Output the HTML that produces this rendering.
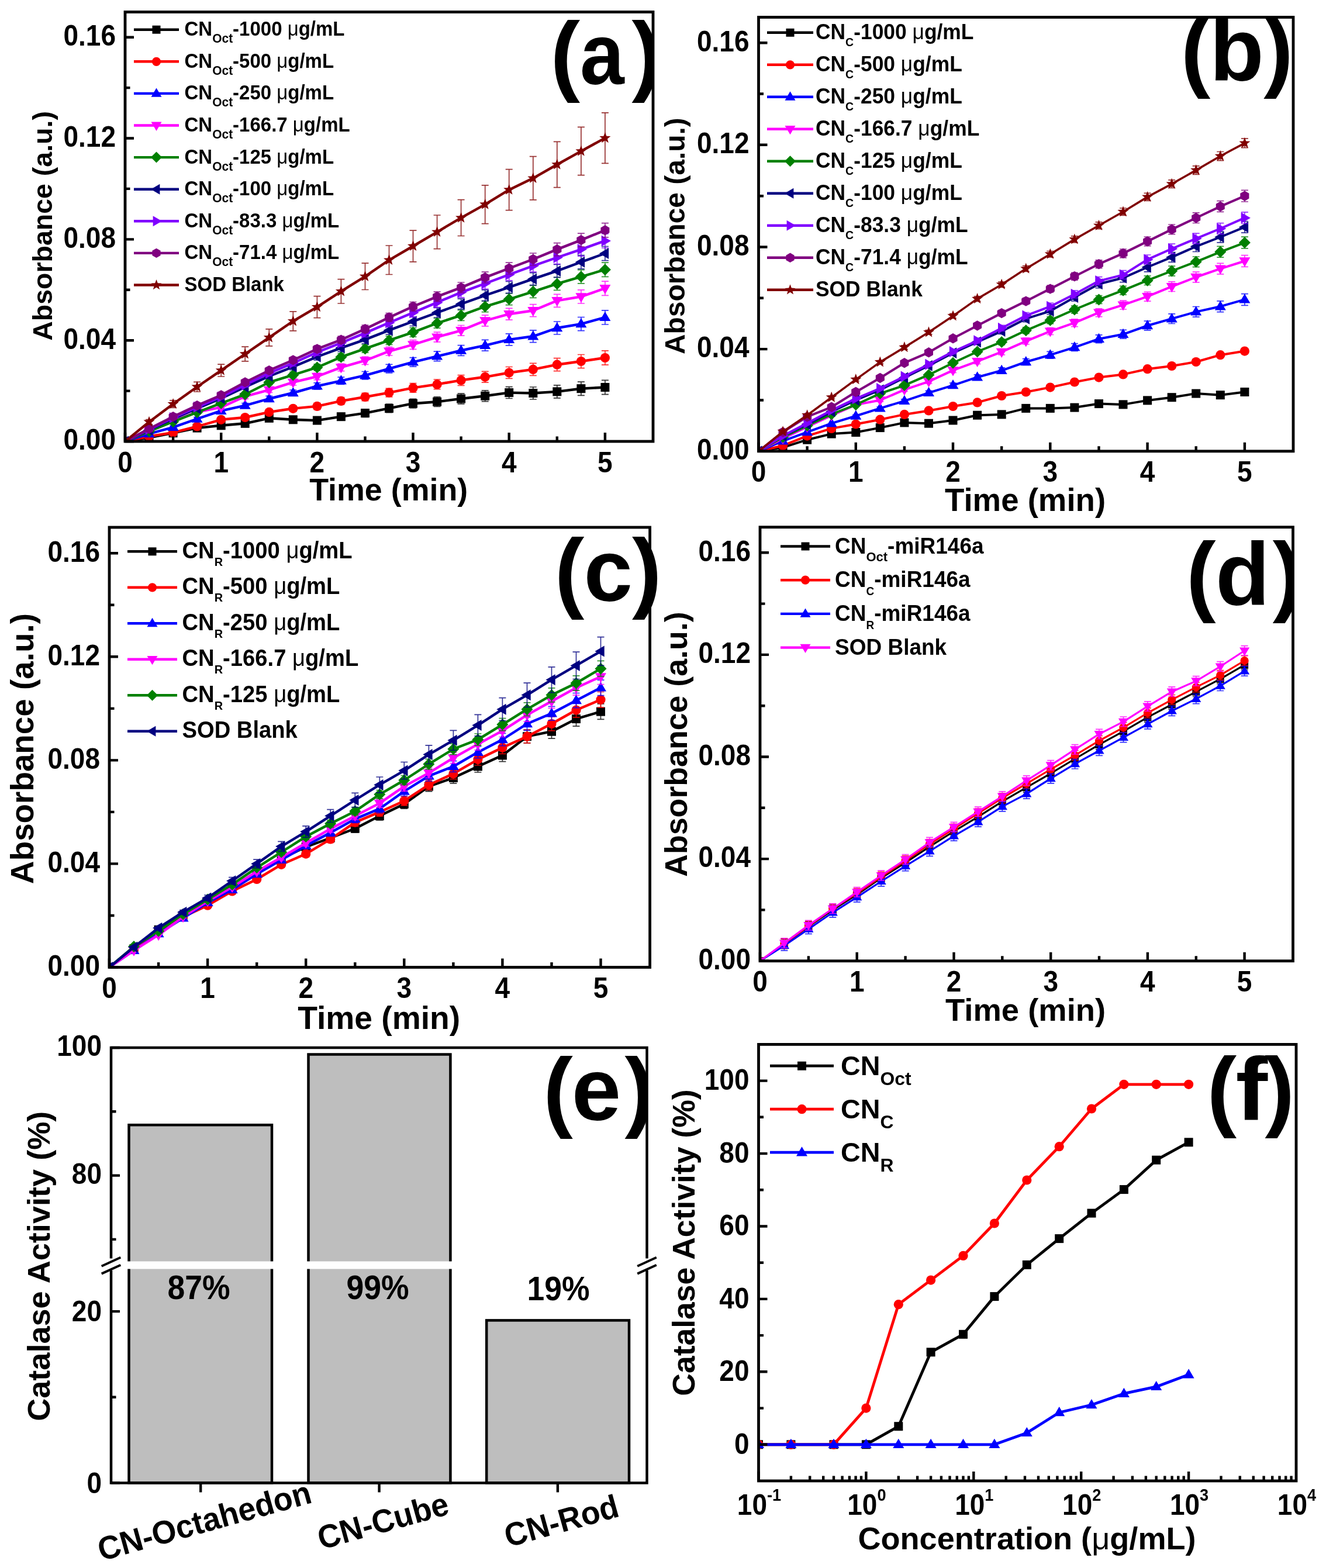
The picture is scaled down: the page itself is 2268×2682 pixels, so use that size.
<!DOCTYPE html>
<html><head><meta charset="utf-8"><title>Figure</title>
<style>html,body{margin:0;padding:0;background:#fff;overflow:hidden;}svg{display:block;}
text{font-family:'Liberation Sans',Arial,sans-serif;font-weight:bold;}</style></head>
<body>
<svg width="2268" height="2682" viewBox="0 0 2268 2682">
<defs><clipPath id="clipa"><rect x="214" y="20.5" width="903" height="734.5"/></clipPath>
<clipPath id="clipb"><rect x="1297.5" y="29.5" width="914.5" height="742.3"/></clipPath>
<clipPath id="clipc"><rect x="187" y="902" width="924.6" height="752.5"/></clipPath>
<clipPath id="clipd"><rect x="1300" y="901.7" width="911.5" height="742"/></clipPath>
<clipPath id="clipe"><rect x="190" y="1792" width="916.5" height="744.5"/></clipPath>
<clipPath id="clipf"><rect x="1297.5" y="1786.4" width="919.5" height="746.6"/></clipPath></defs>
<rect width="100%" height="100%" fill="#fff"/>
<g clip-path="url(#clipa)">
<path d="M255 746.7V750.4M249 746.7h12M249 750.4h12" stroke="#000000" stroke-width="1.7" stroke-opacity="0.8" fill="none"/>
<path d="M296.1 738.4V743.1M290.1 738.4h12M290.1 743.1h12" stroke="#000000" stroke-width="1.7" stroke-opacity="0.8" fill="none"/>
<path d="M337.1 729.2V735M331.1 729.2h12M331.1 735h12" stroke="#000000" stroke-width="1.7" stroke-opacity="0.8" fill="none"/>
<path d="M378.2 724.3V731.2M372.2 724.3h12M372.2 731.2h12" stroke="#000000" stroke-width="1.7" stroke-opacity="0.8" fill="none"/>
<path d="M419.2 720.3V728.3M413.2 720.3h12M413.2 728.3h12" stroke="#000000" stroke-width="1.7" stroke-opacity="0.8" fill="none"/>
<path d="M460.3 710.7V719.8M454.3 710.7h12M454.3 719.8h12" stroke="#000000" stroke-width="1.7" stroke-opacity="0.8" fill="none"/>
<path d="M501.3 712.8V722.9M495.3 712.8h12M495.3 722.9h12" stroke="#000000" stroke-width="1.7" stroke-opacity="0.8" fill="none"/>
<path d="M542.4 713.5V724.8M536.4 713.5h12M536.4 724.8h12" stroke="#000000" stroke-width="1.7" stroke-opacity="0.8" fill="none"/>
<path d="M583.4 706.5V718.8M577.4 706.5h12M577.4 718.8h12" stroke="#000000" stroke-width="1.7" stroke-opacity="0.8" fill="none"/>
<path d="M624.5 699.9V713.3M618.5 699.9h12M618.5 713.3h12" stroke="#000000" stroke-width="1.7" stroke-opacity="0.8" fill="none"/>
<path d="M665.5 691.2V705.6M659.5 691.2h12M659.5 705.6h12" stroke="#000000" stroke-width="1.7" stroke-opacity="0.8" fill="none"/>
<path d="M706.5 682.4V698M700.5 682.4h12M700.5 698h12" stroke="#000000" stroke-width="1.7" stroke-opacity="0.8" fill="none"/>
<path d="M747.6 678.8V695.5M741.6 678.8h12M741.6 695.5h12" stroke="#000000" stroke-width="1.7" stroke-opacity="0.8" fill="none"/>
<path d="M788.6 673.1V690.8M782.6 673.1h12M782.6 690.8h12" stroke="#000000" stroke-width="1.7" stroke-opacity="0.8" fill="none"/>
<path d="M829.7 667.8V686.6M823.7 667.8h12M823.7 686.6h12" stroke="#000000" stroke-width="1.7" stroke-opacity="0.8" fill="none"/>
<path d="M870.7 661.7V681.5M864.7 661.7h12M864.7 681.5h12" stroke="#000000" stroke-width="1.7" stroke-opacity="0.8" fill="none"/>
<path d="M911.8 662V683M905.8 662h12M905.8 683h12" stroke="#000000" stroke-width="1.7" stroke-opacity="0.8" fill="none"/>
<path d="M952.8 658.9V680.9M946.8 658.9h12M946.8 680.9h12" stroke="#000000" stroke-width="1.7" stroke-opacity="0.8" fill="none"/>
<path d="M993.9 653.1V676.3M987.9 653.1h12M987.9 676.3h12" stroke="#000000" stroke-width="1.7" stroke-opacity="0.8" fill="none"/>
<path d="M1034.9 650.4V674.6M1028.9 650.4h12M1028.9 674.6h12" stroke="#000000" stroke-width="1.7" stroke-opacity="0.8" fill="none"/>
<polyline points="214,755 255,748.5 296.1,740.7 337.1,732.1 378.2,727.8 419.2,724.3 460.3,715.3 501.3,717.8 542.4,719.1 583.4,712.7 624.5,706.6 665.5,698.4 706.5,690.2 747.6,687.2 788.6,682 829.7,677.2 870.7,671.6 911.8,672.5 952.8,669.9 993.9,664.7 1034.9,662.5" fill="none" stroke="#000000" stroke-width="4.4" stroke-linejoin="round"/>
<rect x="206.5" y="747.5" width="15" height="15" fill="#000000"/>
<rect x="247.5" y="741" width="15" height="15" fill="#000000"/>
<rect x="288.6" y="733.2" width="15" height="15" fill="#000000"/>
<rect x="329.6" y="724.6" width="15" height="15" fill="#000000"/>
<rect x="370.7" y="720.3" width="15" height="15" fill="#000000"/>
<rect x="411.7" y="716.8" width="15" height="15" fill="#000000"/>
<rect x="452.8" y="707.8" width="15" height="15" fill="#000000"/>
<rect x="493.8" y="710.3" width="15" height="15" fill="#000000"/>
<rect x="534.9" y="711.6" width="15" height="15" fill="#000000"/>
<rect x="575.9" y="705.2" width="15" height="15" fill="#000000"/>
<rect x="617" y="699.1" width="15" height="15" fill="#000000"/>
<rect x="658" y="690.9" width="15" height="15" fill="#000000"/>
<rect x="699" y="682.7" width="15" height="15" fill="#000000"/>
<rect x="740.1" y="679.7" width="15" height="15" fill="#000000"/>
<rect x="781.1" y="674.5" width="15" height="15" fill="#000000"/>
<rect x="822.2" y="669.7" width="15" height="15" fill="#000000"/>
<rect x="863.2" y="664.1" width="15" height="15" fill="#000000"/>
<rect x="904.3" y="665" width="15" height="15" fill="#000000"/>
<rect x="945.3" y="662.4" width="15" height="15" fill="#000000"/>
<rect x="986.4" y="657.2" width="15" height="15" fill="#000000"/>
<rect x="1027.4" y="655" width="15" height="15" fill="#000000"/>
<path d="M255 744.5V748.2M249 744.5h12M249 748.2h12" stroke="#FF0000" stroke-width="1.7" stroke-opacity="0.8" fill="none"/>
<path d="M296.1 737.5V742.3M290.1 737.5h12M290.1 742.3h12" stroke="#FF0000" stroke-width="1.7" stroke-opacity="0.8" fill="none"/>
<path d="M337.1 726.6V732.4M331.1 726.6h12M331.1 732.4h12" stroke="#FF0000" stroke-width="1.7" stroke-opacity="0.8" fill="none"/>
<path d="M378.2 714.4V721.3M372.2 714.4h12M372.2 721.3h12" stroke="#FF0000" stroke-width="1.7" stroke-opacity="0.8" fill="none"/>
<path d="M419.2 710V718M413.2 710h12M413.2 718h12" stroke="#FF0000" stroke-width="1.7" stroke-opacity="0.8" fill="none"/>
<path d="M460.3 700.3V709.4M454.3 700.3h12M454.3 709.4h12" stroke="#FF0000" stroke-width="1.7" stroke-opacity="0.8" fill="none"/>
<path d="M501.3 693.8V703.9M495.3 693.8h12M495.3 703.9h12" stroke="#FF0000" stroke-width="1.7" stroke-opacity="0.8" fill="none"/>
<path d="M542.4 689.3V700.6M536.4 689.3h12M536.4 700.6h12" stroke="#FF0000" stroke-width="1.7" stroke-opacity="0.8" fill="none"/>
<path d="M583.4 679.7V692M577.4 679.7h12M577.4 692h12" stroke="#FF0000" stroke-width="1.7" stroke-opacity="0.8" fill="none"/>
<path d="M624.5 672.3V685.7M618.5 672.3h12M618.5 685.7h12" stroke="#FF0000" stroke-width="1.7" stroke-opacity="0.8" fill="none"/>
<path d="M665.5 664.4V678.8M659.5 664.4h12M659.5 678.8h12" stroke="#FF0000" stroke-width="1.7" stroke-opacity="0.8" fill="none"/>
<path d="M706.5 655.6V671.2M700.5 655.6h12M700.5 671.2h12" stroke="#FF0000" stroke-width="1.7" stroke-opacity="0.8" fill="none"/>
<path d="M747.6 649V665.7M741.6 649h12M741.6 665.7h12" stroke="#FF0000" stroke-width="1.7" stroke-opacity="0.8" fill="none"/>
<path d="M788.6 641.6V659.3M782.6 641.6h12M782.6 659.3h12" stroke="#FF0000" stroke-width="1.7" stroke-opacity="0.8" fill="none"/>
<path d="M829.7 635.4V654.2M823.7 635.4h12M823.7 654.2h12" stroke="#FF0000" stroke-width="1.7" stroke-opacity="0.8" fill="none"/>
<path d="M870.7 627.5V647.4M864.7 627.5h12M864.7 647.4h12" stroke="#FF0000" stroke-width="1.7" stroke-opacity="0.8" fill="none"/>
<path d="M911.8 621.4V642.3M905.8 621.4h12M905.8 642.3h12" stroke="#FF0000" stroke-width="1.7" stroke-opacity="0.8" fill="none"/>
<path d="M952.8 612.6V634.7M946.8 612.6h12M946.8 634.7h12" stroke="#FF0000" stroke-width="1.7" stroke-opacity="0.8" fill="none"/>
<path d="M993.9 606.5V629.6M987.9 606.5h12M987.9 629.6h12" stroke="#FF0000" stroke-width="1.7" stroke-opacity="0.8" fill="none"/>
<path d="M1034.9 599.9V624.1M1028.9 599.9h12M1028.9 624.1h12" stroke="#FF0000" stroke-width="1.7" stroke-opacity="0.8" fill="none"/>
<polyline points="214,755 255,746.4 296.1,739.9 337.1,729.5 378.2,717.8 419.2,714 460.3,704.9 501.3,698.8 542.4,694.9 583.4,685.9 624.5,679 665.5,671.6 706.5,663.4 747.6,657.4 788.6,650.4 829.7,644.8 870.7,637.5 911.8,631.9 952.8,623.7 993.9,618 1034.9,612" fill="none" stroke="#FF0000" stroke-width="4.4" stroke-linejoin="round"/>
<circle cx="214" cy="755" r="8.1" fill="#FF0000"/>
<circle cx="255" cy="746.4" r="8.1" fill="#FF0000"/>
<circle cx="296.1" cy="739.9" r="8.1" fill="#FF0000"/>
<circle cx="337.1" cy="729.5" r="8.1" fill="#FF0000"/>
<circle cx="378.2" cy="717.8" r="8.1" fill="#FF0000"/>
<circle cx="419.2" cy="714" r="8.1" fill="#FF0000"/>
<circle cx="460.3" cy="704.9" r="8.1" fill="#FF0000"/>
<circle cx="501.3" cy="698.8" r="8.1" fill="#FF0000"/>
<circle cx="542.4" cy="694.9" r="8.1" fill="#FF0000"/>
<circle cx="583.4" cy="685.9" r="8.1" fill="#FF0000"/>
<circle cx="624.5" cy="679" r="8.1" fill="#FF0000"/>
<circle cx="665.5" cy="671.6" r="8.1" fill="#FF0000"/>
<circle cx="706.5" cy="663.4" r="8.1" fill="#FF0000"/>
<circle cx="747.6" cy="657.4" r="8.1" fill="#FF0000"/>
<circle cx="788.6" cy="650.4" r="8.1" fill="#FF0000"/>
<circle cx="829.7" cy="644.8" r="8.1" fill="#FF0000"/>
<circle cx="870.7" cy="637.5" r="8.1" fill="#FF0000"/>
<circle cx="911.8" cy="631.9" r="8.1" fill="#FF0000"/>
<circle cx="952.8" cy="623.7" r="8.1" fill="#FF0000"/>
<circle cx="993.9" cy="618" r="8.1" fill="#FF0000"/>
<circle cx="1034.9" cy="612" r="8.1" fill="#FF0000"/>
<path d="M255 740.2V743.9M249 740.2h12M249 743.9h12" stroke="#0000FF" stroke-width="1.7" stroke-opacity="0.8" fill="none"/>
<path d="M296.1 728.4V733.2M290.1 728.4h12M290.1 733.2h12" stroke="#0000FF" stroke-width="1.7" stroke-opacity="0.8" fill="none"/>
<path d="M337.1 713.6V719.5M331.1 713.6h12M331.1 719.5h12" stroke="#0000FF" stroke-width="1.7" stroke-opacity="0.8" fill="none"/>
<path d="M378.2 699.3V706.2M372.2 699.3h12M372.2 706.2h12" stroke="#0000FF" stroke-width="1.7" stroke-opacity="0.8" fill="none"/>
<path d="M419.2 689.7V697.6M413.2 689.7h12M413.2 697.6h12" stroke="#0000FF" stroke-width="1.7" stroke-opacity="0.8" fill="none"/>
<path d="M460.3 677.4V686.5M454.3 677.4h12M454.3 686.5h12" stroke="#0000FF" stroke-width="1.7" stroke-opacity="0.8" fill="none"/>
<path d="M501.3 667V677.1M495.3 667h12M495.3 677.1h12" stroke="#0000FF" stroke-width="1.7" stroke-opacity="0.8" fill="none"/>
<path d="M542.4 654.8V666M536.4 654.8h12M536.4 666h12" stroke="#0000FF" stroke-width="1.7" stroke-opacity="0.8" fill="none"/>
<path d="M583.4 645.1V657.5M577.4 645.1h12M577.4 657.5h12" stroke="#0000FF" stroke-width="1.7" stroke-opacity="0.8" fill="none"/>
<path d="M624.5 635.5V648.9M618.5 635.5h12M618.5 648.9h12" stroke="#0000FF" stroke-width="1.7" stroke-opacity="0.8" fill="none"/>
<path d="M665.5 623.3V637.8M659.5 623.3h12M659.5 637.8h12" stroke="#0000FF" stroke-width="1.7" stroke-opacity="0.8" fill="none"/>
<path d="M706.5 611.6V627.1M700.5 611.6h12M700.5 627.1h12" stroke="#0000FF" stroke-width="1.7" stroke-opacity="0.8" fill="none"/>
<path d="M747.6 601.1V617.7M741.6 601.1h12M741.6 617.7h12" stroke="#0000FF" stroke-width="1.7" stroke-opacity="0.8" fill="none"/>
<path d="M788.6 590.6V608.3M782.6 590.6h12M782.6 608.3h12" stroke="#0000FF" stroke-width="1.7" stroke-opacity="0.8" fill="none"/>
<path d="M829.7 581.4V600.2M823.7 581.4h12M823.7 600.2h12" stroke="#0000FF" stroke-width="1.7" stroke-opacity="0.8" fill="none"/>
<path d="M870.7 570.9V590.8M864.7 570.9h12M864.7 590.8h12" stroke="#0000FF" stroke-width="1.7" stroke-opacity="0.8" fill="none"/>
<path d="M911.8 564.8V585.7M905.8 564.8h12M905.8 585.7h12" stroke="#0000FF" stroke-width="1.7" stroke-opacity="0.8" fill="none"/>
<path d="M952.8 550V572M946.8 550h12M946.8 572h12" stroke="#0000FF" stroke-width="1.7" stroke-opacity="0.8" fill="none"/>
<path d="M993.9 542.5V565.7M987.9 542.5h12M987.9 565.7h12" stroke="#0000FF" stroke-width="1.7" stroke-opacity="0.8" fill="none"/>
<path d="M1034.9 530.8V555M1028.9 530.8h12M1028.9 555h12" stroke="#0000FF" stroke-width="1.7" stroke-opacity="0.8" fill="none"/>
<polyline points="214,755 255,742 296.1,730.8 337.1,716.5 378.2,702.7 419.2,693.6 460.3,682 501.3,672 542.4,660.4 583.4,651.3 624.5,642.2 665.5,630.6 706.5,619.3 747.6,609.4 788.6,599.5 829.7,590.8 870.7,580.9 911.8,575.3 952.8,561 993.9,554.1 1034.9,542.9" fill="none" stroke="#0000FF" stroke-width="4.4" stroke-linejoin="round"/>
<polygon points="214,745 223.5,761.2 204.5,761.2" fill="#0000FF"/>
<polygon points="255,732 264.5,748.2 245.5,748.2" fill="#0000FF"/>
<polygon points="296.1,720.8 305.6,737 286.6,737" fill="#0000FF"/>
<polygon points="337.1,706.5 346.6,722.7 327.6,722.7" fill="#0000FF"/>
<polygon points="378.2,692.7 387.7,708.9 368.7,708.9" fill="#0000FF"/>
<polygon points="419.2,683.6 428.7,699.8 409.7,699.8" fill="#0000FF"/>
<polygon points="460.3,672 469.8,688.2 450.8,688.2" fill="#0000FF"/>
<polygon points="501.3,662 510.8,678.2 491.8,678.2" fill="#0000FF"/>
<polygon points="542.4,650.4 551.9,666.6 532.9,666.6" fill="#0000FF"/>
<polygon points="583.4,641.3 592.9,657.5 573.9,657.5" fill="#0000FF"/>
<polygon points="624.5,632.2 634,648.4 615,648.4" fill="#0000FF"/>
<polygon points="665.5,620.6 675,636.8 656,636.8" fill="#0000FF"/>
<polygon points="706.5,609.3 716,625.5 697,625.5" fill="#0000FF"/>
<polygon points="747.6,599.4 757.1,615.6 738.1,615.6" fill="#0000FF"/>
<polygon points="788.6,589.5 798.1,605.7 779.1,605.7" fill="#0000FF"/>
<polygon points="829.7,580.8 839.2,597 820.2,597" fill="#0000FF"/>
<polygon points="870.7,570.9 880.2,587.1 861.2,587.1" fill="#0000FF"/>
<polygon points="911.8,565.3 921.3,581.5 902.3,581.5" fill="#0000FF"/>
<polygon points="952.8,551 962.3,567.2 943.3,567.2" fill="#0000FF"/>
<polygon points="993.9,544.1 1003.4,560.3 984.4,560.3" fill="#0000FF"/>
<polygon points="1034.9,532.9 1044.4,549.1 1025.4,549.1" fill="#0000FF"/>
<path d="M255 735.9V739.6M249 735.9h12M249 739.6h12" stroke="#FF00FF" stroke-width="1.7" stroke-opacity="0.8" fill="none"/>
<path d="M296.1 718.1V722.8M290.1 718.1h12M290.1 722.8h12" stroke="#FF00FF" stroke-width="1.7" stroke-opacity="0.8" fill="none"/>
<path d="M337.1 702V707.8M331.1 702h12M331.1 707.8h12" stroke="#FF00FF" stroke-width="1.7" stroke-opacity="0.8" fill="none"/>
<path d="M378.2 693.2V700.1M372.2 693.2h12M372.2 700.1h12" stroke="#FF00FF" stroke-width="1.7" stroke-opacity="0.8" fill="none"/>
<path d="M419.2 674.1V682.1M413.2 674.1h12M413.2 682.1h12" stroke="#FF00FF" stroke-width="1.7" stroke-opacity="0.8" fill="none"/>
<path d="M460.3 662.3V671.4M454.3 662.3h12M454.3 671.4h12" stroke="#FF00FF" stroke-width="1.7" stroke-opacity="0.8" fill="none"/>
<path d="M501.3 648.8V659M495.3 648.8h12M495.3 659h12" stroke="#FF00FF" stroke-width="1.7" stroke-opacity="0.8" fill="none"/>
<path d="M542.4 638.3V649.6M536.4 638.3h12M536.4 649.6h12" stroke="#FF00FF" stroke-width="1.7" stroke-opacity="0.8" fill="none"/>
<path d="M583.4 622.2V634.6M577.4 622.2h12M577.4 634.6h12" stroke="#FF00FF" stroke-width="1.7" stroke-opacity="0.8" fill="none"/>
<path d="M624.5 610V623.4M618.5 610h12M618.5 623.4h12" stroke="#FF00FF" stroke-width="1.7" stroke-opacity="0.8" fill="none"/>
<path d="M665.5 593.5V608M659.5 593.5h12M659.5 608h12" stroke="#FF00FF" stroke-width="1.7" stroke-opacity="0.8" fill="none"/>
<path d="M706.5 581.7V597.3M700.5 581.7h12M700.5 597.3h12" stroke="#FF00FF" stroke-width="1.7" stroke-opacity="0.8" fill="none"/>
<path d="M747.6 568.2V584.9M741.6 568.2h12M741.6 584.9h12" stroke="#FF00FF" stroke-width="1.7" stroke-opacity="0.8" fill="none"/>
<path d="M788.6 556.5V574.2M782.6 556.5h12M782.6 574.2h12" stroke="#FF00FF" stroke-width="1.7" stroke-opacity="0.8" fill="none"/>
<path d="M829.7 539.1V557.9M823.7 539.1h12M823.7 557.9h12" stroke="#FF00FF" stroke-width="1.7" stroke-opacity="0.8" fill="none"/>
<path d="M870.7 527.3V547.2M864.7 527.3h12M864.7 547.2h12" stroke="#FF00FF" stroke-width="1.7" stroke-opacity="0.8" fill="none"/>
<path d="M911.8 520.7V541.7M905.8 520.7h12M905.8 541.7h12" stroke="#FF00FF" stroke-width="1.7" stroke-opacity="0.8" fill="none"/>
<path d="M952.8 503.3V525.4M946.8 503.3h12M946.8 525.4h12" stroke="#FF00FF" stroke-width="1.7" stroke-opacity="0.8" fill="none"/>
<path d="M993.9 495.9V519M987.9 495.9h12M987.9 519h12" stroke="#FF00FF" stroke-width="1.7" stroke-opacity="0.8" fill="none"/>
<path d="M1034.9 481.1V505.3M1028.9 481.1h12M1028.9 505.3h12" stroke="#FF00FF" stroke-width="1.7" stroke-opacity="0.8" fill="none"/>
<polyline points="214,755 255,737.7 296.1,720.4 337.1,704.9 378.2,696.7 419.2,678.1 460.3,666.9 501.3,653.9 542.4,644 583.4,628.4 624.5,616.7 665.5,600.8 706.5,589.5 747.6,576.6 788.6,565.3 829.7,548.5 870.7,537.2 911.8,531.2 952.8,514.3 993.9,507.4 1034.9,493.2" fill="none" stroke="#FF00FF" stroke-width="4.4" stroke-linejoin="round"/>
<polygon points="214,765 204.5,748.8 223.5,748.8" fill="#FF00FF"/>
<polygon points="255,747.7 245.5,731.5 264.5,731.5" fill="#FF00FF"/>
<polygon points="296.1,730.4 286.6,714.2 305.6,714.2" fill="#FF00FF"/>
<polygon points="337.1,714.9 327.6,698.7 346.6,698.7" fill="#FF00FF"/>
<polygon points="378.2,706.7 368.7,690.5 387.7,690.5" fill="#FF00FF"/>
<polygon points="419.2,688.1 409.7,671.9 428.7,671.9" fill="#FF00FF"/>
<polygon points="460.3,676.9 450.8,660.7 469.8,660.7" fill="#FF00FF"/>
<polygon points="501.3,663.9 491.8,647.7 510.8,647.7" fill="#FF00FF"/>
<polygon points="542.4,654 532.9,637.8 551.9,637.8" fill="#FF00FF"/>
<polygon points="583.4,638.4 573.9,622.2 592.9,622.2" fill="#FF00FF"/>
<polygon points="624.5,626.7 615,610.5 634,610.5" fill="#FF00FF"/>
<polygon points="665.5,610.8 656,594.6 675,594.6" fill="#FF00FF"/>
<polygon points="706.5,599.5 697,583.3 716,583.3" fill="#FF00FF"/>
<polygon points="747.6,586.6 738.1,570.4 757.1,570.4" fill="#FF00FF"/>
<polygon points="788.6,575.3 779.1,559.1 798.1,559.1" fill="#FF00FF"/>
<polygon points="829.7,558.5 820.2,542.3 839.2,542.3" fill="#FF00FF"/>
<polygon points="870.7,547.2 861.2,531 880.2,531" fill="#FF00FF"/>
<polygon points="911.8,541.2 902.3,525 921.3,525" fill="#FF00FF"/>
<polygon points="952.8,524.3 943.3,508.1 962.3,508.1" fill="#FF00FF"/>
<polygon points="993.9,517.4 984.4,501.2 1003.4,501.2" fill="#FF00FF"/>
<polygon points="1034.9,503.2 1025.4,487 1044.4,487" fill="#FF00FF"/>
<path d="M255 735.9V739.6M249 735.9h12M249 739.6h12" stroke="#008000" stroke-width="1.7" stroke-opacity="0.8" fill="none"/>
<path d="M296.1 718.9V723.7M290.1 718.9h12M290.1 723.7h12" stroke="#008000" stroke-width="1.7" stroke-opacity="0.8" fill="none"/>
<path d="M337.1 702.4V708.2M331.1 702.4h12M331.1 708.2h12" stroke="#008000" stroke-width="1.7" stroke-opacity="0.8" fill="none"/>
<path d="M378.2 686.3V693.2M372.2 686.3h12M372.2 693.2h12" stroke="#008000" stroke-width="1.7" stroke-opacity="0.8" fill="none"/>
<path d="M419.2 670.6V678.6M413.2 670.6h12M413.2 678.6h12" stroke="#008000" stroke-width="1.7" stroke-opacity="0.8" fill="none"/>
<path d="M460.3 649.4V658.4M454.3 649.4h12M454.3 658.4h12" stroke="#008000" stroke-width="1.7" stroke-opacity="0.8" fill="none"/>
<path d="M501.3 636.3V646.4M495.3 636.3h12M495.3 646.4h12" stroke="#008000" stroke-width="1.7" stroke-opacity="0.8" fill="none"/>
<path d="M542.4 622.8V634M536.4 622.8h12M536.4 634h12" stroke="#008000" stroke-width="1.7" stroke-opacity="0.8" fill="none"/>
<path d="M583.4 604.5V616.8M577.4 604.5h12M577.4 616.8h12" stroke="#008000" stroke-width="1.7" stroke-opacity="0.8" fill="none"/>
<path d="M624.5 589.7V603.1M618.5 589.7h12M618.5 603.1h12" stroke="#008000" stroke-width="1.7" stroke-opacity="0.8" fill="none"/>
<path d="M665.5 574.9V589.4M659.5 574.9h12M659.5 589.4h12" stroke="#008000" stroke-width="1.7" stroke-opacity="0.8" fill="none"/>
<path d="M706.5 560.6V576.1M700.5 560.6h12M700.5 576.1h12" stroke="#008000" stroke-width="1.7" stroke-opacity="0.8" fill="none"/>
<path d="M747.6 544.5V561.1M741.6 544.5h12M741.6 561.1h12" stroke="#008000" stroke-width="1.7" stroke-opacity="0.8" fill="none"/>
<path d="M788.6 530.5V548.3M782.6 530.5h12M782.6 548.3h12" stroke="#008000" stroke-width="1.7" stroke-opacity="0.8" fill="none"/>
<path d="M829.7 514.9V533.7M823.7 514.9h12M823.7 533.7h12" stroke="#008000" stroke-width="1.7" stroke-opacity="0.8" fill="none"/>
<path d="M870.7 501.8V521.7M864.7 501.8h12M864.7 521.7h12" stroke="#008000" stroke-width="1.7" stroke-opacity="0.8" fill="none"/>
<path d="M911.8 488.3V509.3M905.8 488.3h12M905.8 509.3h12" stroke="#008000" stroke-width="1.7" stroke-opacity="0.8" fill="none"/>
<path d="M952.8 474.4V496.4M946.8 474.4h12M946.8 496.4h12" stroke="#008000" stroke-width="1.7" stroke-opacity="0.8" fill="none"/>
<path d="M993.9 461.7V484.9M987.9 461.7h12M987.9 484.9h12" stroke="#008000" stroke-width="1.7" stroke-opacity="0.8" fill="none"/>
<path d="M1034.9 449.1V473.3M1028.9 449.1h12M1028.9 473.3h12" stroke="#008000" stroke-width="1.7" stroke-opacity="0.8" fill="none"/>
<polyline points="214,755 255,737.7 296.1,721.3 337.1,705.3 378.2,689.8 419.2,674.6 460.3,653.9 501.3,641.4 542.4,628.4 583.4,610.7 624.5,596.4 665.5,582.2 706.5,568.4 747.6,552.8 788.6,539.4 829.7,524.3 870.7,511.8 911.8,498.8 952.8,485.4 993.9,473.3 1034.9,461.2" fill="none" stroke="#008000" stroke-width="4.4" stroke-linejoin="round"/>
<polygon points="214,745 224,755 214,765 204,755" fill="#008000"/>
<polygon points="255,727.7 265,737.7 255,747.7 245,737.7" fill="#008000"/>
<polygon points="296.1,711.3 306.1,721.3 296.1,731.3 286.1,721.3" fill="#008000"/>
<polygon points="337.1,695.3 347.1,705.3 337.1,715.3 327.1,705.3" fill="#008000"/>
<polygon points="378.2,679.8 388.2,689.8 378.2,699.8 368.2,689.8" fill="#008000"/>
<polygon points="419.2,664.6 429.2,674.6 419.2,684.6 409.2,674.6" fill="#008000"/>
<polygon points="460.3,643.9 470.3,653.9 460.3,663.9 450.3,653.9" fill="#008000"/>
<polygon points="501.3,631.4 511.3,641.4 501.3,651.4 491.3,641.4" fill="#008000"/>
<polygon points="542.4,618.4 552.4,628.4 542.4,638.4 532.4,628.4" fill="#008000"/>
<polygon points="583.4,600.7 593.4,610.7 583.4,620.7 573.4,610.7" fill="#008000"/>
<polygon points="624.5,586.4 634.5,596.4 624.5,606.4 614.5,596.4" fill="#008000"/>
<polygon points="665.5,572.2 675.5,582.2 665.5,592.2 655.5,582.2" fill="#008000"/>
<polygon points="706.5,558.4 716.5,568.4 706.5,578.4 696.5,568.4" fill="#008000"/>
<polygon points="747.6,542.8 757.6,552.8 747.6,562.8 737.6,552.8" fill="#008000"/>
<polygon points="788.6,529.4 798.6,539.4 788.6,549.4 778.6,539.4" fill="#008000"/>
<polygon points="829.7,514.3 839.7,524.3 829.7,534.3 819.7,524.3" fill="#008000"/>
<polygon points="870.7,501.8 880.7,511.8 870.7,521.8 860.7,511.8" fill="#008000"/>
<polygon points="911.8,488.8 921.8,498.8 911.8,508.8 901.8,498.8" fill="#008000"/>
<polygon points="952.8,475.4 962.8,485.4 952.8,495.4 942.8,485.4" fill="#008000"/>
<polygon points="993.9,463.3 1003.9,473.3 993.9,483.3 983.9,473.3" fill="#008000"/>
<polygon points="1034.9,451.2 1044.9,461.2 1034.9,471.2 1024.9,461.2" fill="#008000"/>
<path d="M255 733.7V737.4M249 733.7h12M249 737.4h12" stroke="#000080" stroke-width="1.7" stroke-opacity="0.8" fill="none"/>
<path d="M296.1 713.7V718.5M290.1 713.7h12M290.1 718.5h12" stroke="#000080" stroke-width="1.7" stroke-opacity="0.8" fill="none"/>
<path d="M337.1 695.9V701.7M331.1 695.9h12M331.1 701.7h12" stroke="#000080" stroke-width="1.7" stroke-opacity="0.8" fill="none"/>
<path d="M378.2 678.1V685M372.2 678.1h12M372.2 685h12" stroke="#000080" stroke-width="1.7" stroke-opacity="0.8" fill="none"/>
<path d="M419.2 658.1V666.1M413.2 658.1h12M413.2 666.1h12" stroke="#000080" stroke-width="1.7" stroke-opacity="0.8" fill="none"/>
<path d="M460.3 639V648.1M454.3 639h12M454.3 648.1h12" stroke="#000080" stroke-width="1.7" stroke-opacity="0.8" fill="none"/>
<path d="M501.3 622.5V632.6M495.3 622.5h12M495.3 632.6h12" stroke="#000080" stroke-width="1.7" stroke-opacity="0.8" fill="none"/>
<path d="M542.4 604.6V615.9M536.4 604.6h12M536.4 615.9h12" stroke="#000080" stroke-width="1.7" stroke-opacity="0.8" fill="none"/>
<path d="M583.4 589V601.3M577.4 589h12M577.4 601.3h12" stroke="#000080" stroke-width="1.7" stroke-opacity="0.8" fill="none"/>
<path d="M624.5 574.2V587.6M618.5 574.2h12M618.5 587.6h12" stroke="#000080" stroke-width="1.7" stroke-opacity="0.8" fill="none"/>
<path d="M665.5 557.7V572.1M659.5 557.7h12M659.5 572.1h12" stroke="#000080" stroke-width="1.7" stroke-opacity="0.8" fill="none"/>
<path d="M706.5 542V557.5M700.5 542h12M700.5 557.5h12" stroke="#000080" stroke-width="1.7" stroke-opacity="0.8" fill="none"/>
<path d="M747.6 526.3V543M741.6 526.3h12M741.6 543h12" stroke="#000080" stroke-width="1.7" stroke-opacity="0.8" fill="none"/>
<path d="M788.6 511.1V528.8M782.6 511.1h12M782.6 528.8h12" stroke="#000080" stroke-width="1.7" stroke-opacity="0.8" fill="none"/>
<path d="M829.7 495.9V514.7M823.7 495.9h12M823.7 514.7h12" stroke="#000080" stroke-width="1.7" stroke-opacity="0.8" fill="none"/>
<path d="M870.7 481.5V501.4M864.7 481.5h12M864.7 501.4h12" stroke="#000080" stroke-width="1.7" stroke-opacity="0.8" fill="none"/>
<path d="M911.8 466.7V487.7M905.8 466.7h12M905.8 487.7h12" stroke="#000080" stroke-width="1.7" stroke-opacity="0.8" fill="none"/>
<path d="M952.8 452.3V474.4M946.8 452.3h12M946.8 474.4h12" stroke="#000080" stroke-width="1.7" stroke-opacity="0.8" fill="none"/>
<path d="M993.9 436.7V459.8M987.9 436.7h12M987.9 459.8h12" stroke="#000080" stroke-width="1.7" stroke-opacity="0.8" fill="none"/>
<path d="M1034.9 421.5V445.6M1028.9 421.5h12M1028.9 445.6h12" stroke="#000080" stroke-width="1.7" stroke-opacity="0.8" fill="none"/>
<polyline points="214,755 255,735.6 296.1,716.1 337.1,698.8 378.2,681.5 419.2,662.1 460.3,643.5 501.3,627.5 542.4,610.3 583.4,595.1 624.5,580.9 665.5,564.9 706.5,549.8 747.6,534.7 788.6,520 829.7,505.3 870.7,491.4 911.8,477.2 952.8,463.4 993.9,448.2 1034.9,433.5" fill="none" stroke="#000080" stroke-width="4.4" stroke-linejoin="round"/>
<polygon points="204,755 220.2,745.5 220.2,764.5" fill="#000080"/>
<polygon points="245,735.6 261.2,726.1 261.2,745.1" fill="#000080"/>
<polygon points="286.1,716.1 302.3,706.6 302.3,725.6" fill="#000080"/>
<polygon points="327.1,698.8 343.3,689.3 343.3,708.3" fill="#000080"/>
<polygon points="368.2,681.5 384.4,672 384.4,691" fill="#000080"/>
<polygon points="409.2,662.1 425.4,652.6 425.4,671.6" fill="#000080"/>
<polygon points="450.3,643.5 466.5,634 466.5,653" fill="#000080"/>
<polygon points="491.3,627.5 507.5,618 507.5,637" fill="#000080"/>
<polygon points="532.4,610.3 548.6,600.8 548.6,619.8" fill="#000080"/>
<polygon points="573.4,595.1 589.6,585.6 589.6,604.6" fill="#000080"/>
<polygon points="614.5,580.9 630.7,571.4 630.7,590.4" fill="#000080"/>
<polygon points="655.5,564.9 671.7,555.4 671.7,574.4" fill="#000080"/>
<polygon points="696.5,549.8 712.7,540.3 712.7,559.3" fill="#000080"/>
<polygon points="737.6,534.7 753.8,525.2 753.8,544.2" fill="#000080"/>
<polygon points="778.6,520 794.8,510.5 794.8,529.5" fill="#000080"/>
<polygon points="819.7,505.3 835.9,495.8 835.9,514.8" fill="#000080"/>
<polygon points="860.7,491.4 876.9,481.9 876.9,500.9" fill="#000080"/>
<polygon points="901.8,477.2 918,467.7 918,486.7" fill="#000080"/>
<polygon points="942.8,463.4 959,453.9 959,472.9" fill="#000080"/>
<polygon points="983.9,448.2 1000.1,438.7 1000.1,457.7" fill="#000080"/>
<polygon points="1024.9,433.5 1041.1,424 1041.1,443" fill="#000080"/>
<path d="M255 732.4V736.1M249 732.4h12M249 736.1h12" stroke="#8000FF" stroke-width="1.7" stroke-opacity="0.8" fill="none"/>
<path d="M296.1 712V716.8M290.1 712h12M290.1 716.8h12" stroke="#8000FF" stroke-width="1.7" stroke-opacity="0.8" fill="none"/>
<path d="M337.1 693.3V699.2M331.1 693.3h12M331.1 699.2h12" stroke="#8000FF" stroke-width="1.7" stroke-opacity="0.8" fill="none"/>
<path d="M378.2 675.5V682.4M372.2 675.5h12M372.2 682.4h12" stroke="#8000FF" stroke-width="1.7" stroke-opacity="0.8" fill="none"/>
<path d="M419.2 654.2V662.2M413.2 654.2h12M413.2 662.2h12" stroke="#8000FF" stroke-width="1.7" stroke-opacity="0.8" fill="none"/>
<path d="M460.3 633.8V642.9M454.3 633.8h12M454.3 642.9h12" stroke="#8000FF" stroke-width="1.7" stroke-opacity="0.8" fill="none"/>
<path d="M501.3 616V626.1M495.3 616h12M495.3 626.1h12" stroke="#8000FF" stroke-width="1.7" stroke-opacity="0.8" fill="none"/>
<path d="M542.4 596.9V608.1M536.4 596.9h12M536.4 608.1h12" stroke="#8000FF" stroke-width="1.7" stroke-opacity="0.8" fill="none"/>
<path d="M583.4 580.3V592.7M577.4 580.3h12M577.4 592.7h12" stroke="#8000FF" stroke-width="1.7" stroke-opacity="0.8" fill="none"/>
<path d="M624.5 562.9V576.3M618.5 562.9h12M618.5 576.3h12" stroke="#8000FF" stroke-width="1.7" stroke-opacity="0.8" fill="none"/>
<path d="M665.5 544.7V559.2M659.5 544.7h12M659.5 559.2h12" stroke="#8000FF" stroke-width="1.7" stroke-opacity="0.8" fill="none"/>
<path d="M706.5 526.9V542.4M700.5 526.9h12M700.5 542.4h12" stroke="#8000FF" stroke-width="1.7" stroke-opacity="0.8" fill="none"/>
<path d="M747.6 509.1V525.7M741.6 509.1h12M741.6 525.7h12" stroke="#8000FF" stroke-width="1.7" stroke-opacity="0.8" fill="none"/>
<path d="M788.6 491.2V508.9M782.6 491.2h12M782.6 508.9h12" stroke="#8000FF" stroke-width="1.7" stroke-opacity="0.8" fill="none"/>
<path d="M829.7 475.6V494.4M823.7 475.6h12M823.7 494.4h12" stroke="#8000FF" stroke-width="1.7" stroke-opacity="0.8" fill="none"/>
<path d="M870.7 459.9V479.8M864.7 459.9h12M864.7 479.8h12" stroke="#8000FF" stroke-width="1.7" stroke-opacity="0.8" fill="none"/>
<path d="M911.8 444.2V465.2M905.8 444.2h12M905.8 465.2h12" stroke="#8000FF" stroke-width="1.7" stroke-opacity="0.8" fill="none"/>
<path d="M952.8 429.4V451.5M946.8 429.4h12M946.8 451.5h12" stroke="#8000FF" stroke-width="1.7" stroke-opacity="0.8" fill="none"/>
<path d="M993.9 415.1V438.2M987.9 415.1h12M987.9 438.2h12" stroke="#8000FF" stroke-width="1.7" stroke-opacity="0.8" fill="none"/>
<path d="M1034.9 399.8V424M1028.9 399.8h12M1028.9 424h12" stroke="#8000FF" stroke-width="1.7" stroke-opacity="0.8" fill="none"/>
<polyline points="214,755 255,734.3 296.1,714.4 337.1,696.2 378.2,679 419.2,658.2 460.3,638.3 501.3,621.1 542.4,602.5 583.4,586.5 624.5,569.6 665.5,551.9 706.5,534.7 747.6,517.4 788.6,500.1 829.7,485 870.7,469.8 911.8,454.7 952.8,440.5 993.9,426.6 1034.9,411.9" fill="none" stroke="#8000FF" stroke-width="4.4" stroke-linejoin="round"/>
<polygon points="224,755 207.8,764.5 207.8,745.5" fill="#8000FF"/>
<polygon points="265,734.3 248.8,743.8 248.8,724.8" fill="#8000FF"/>
<polygon points="306.1,714.4 289.9,723.9 289.9,704.9" fill="#8000FF"/>
<polygon points="347.1,696.2 330.9,705.7 330.9,686.7" fill="#8000FF"/>
<polygon points="388.2,679 372,688.5 372,669.5" fill="#8000FF"/>
<polygon points="429.2,658.2 413,667.7 413,648.7" fill="#8000FF"/>
<polygon points="470.3,638.3 454.1,647.8 454.1,628.8" fill="#8000FF"/>
<polygon points="511.3,621.1 495.1,630.6 495.1,611.6" fill="#8000FF"/>
<polygon points="552.4,602.5 536.2,612 536.2,593" fill="#8000FF"/>
<polygon points="593.4,586.5 577.2,596 577.2,577" fill="#8000FF"/>
<polygon points="634.5,569.6 618.3,579.1 618.3,560.1" fill="#8000FF"/>
<polygon points="675.5,551.9 659.3,561.4 659.3,542.4" fill="#8000FF"/>
<polygon points="716.5,534.7 700.3,544.2 700.3,525.2" fill="#8000FF"/>
<polygon points="757.6,517.4 741.4,526.9 741.4,507.9" fill="#8000FF"/>
<polygon points="798.6,500.1 782.4,509.6 782.4,490.6" fill="#8000FF"/>
<polygon points="839.7,485 823.5,494.5 823.5,475.5" fill="#8000FF"/>
<polygon points="880.7,469.8 864.5,479.3 864.5,460.3" fill="#8000FF"/>
<polygon points="921.8,454.7 905.6,464.2 905.6,445.2" fill="#8000FF"/>
<polygon points="962.8,440.5 946.6,450 946.6,431" fill="#8000FF"/>
<polygon points="1003.9,426.6 987.7,436.1 987.7,417.1" fill="#8000FF"/>
<polygon points="1044.9,411.9 1028.7,421.4 1028.7,402.4" fill="#8000FF"/>
<path d="M255 731.6V735.2M249 731.6h12M249 735.2h12" stroke="#800080" stroke-width="1.7" stroke-opacity="0.8" fill="none"/>
<path d="M296.1 710.3V715M290.1 710.3h12M290.1 715h12" stroke="#800080" stroke-width="1.7" stroke-opacity="0.8" fill="none"/>
<path d="M337.1 690.7V696.6M331.1 690.7h12M331.1 696.6h12" stroke="#800080" stroke-width="1.7" stroke-opacity="0.8" fill="none"/>
<path d="M378.2 672.5V679.4M372.2 672.5h12M372.2 679.4h12" stroke="#800080" stroke-width="1.7" stroke-opacity="0.8" fill="none"/>
<path d="M419.2 649.9V657.9M413.2 649.9h12M413.2 657.9h12" stroke="#800080" stroke-width="1.7" stroke-opacity="0.8" fill="none"/>
<path d="M460.3 629.1V638.1M454.3 629.1h12M454.3 638.1h12" stroke="#800080" stroke-width="1.7" stroke-opacity="0.8" fill="none"/>
<path d="M501.3 610.8V621M495.3 610.8h12M495.3 621h12" stroke="#800080" stroke-width="1.7" stroke-opacity="0.8" fill="none"/>
<path d="M542.4 591.2V602.5M536.4 591.2h12M536.4 602.5h12" stroke="#800080" stroke-width="1.7" stroke-opacity="0.8" fill="none"/>
<path d="M583.4 575.2V587.5M577.4 575.2h12M577.4 587.5h12" stroke="#800080" stroke-width="1.7" stroke-opacity="0.8" fill="none"/>
<path d="M624.5 556V569.4M618.5 556h12M618.5 569.4h12" stroke="#800080" stroke-width="1.7" stroke-opacity="0.8" fill="none"/>
<path d="M665.5 535.6V550.1M659.5 535.6h12M659.5 550.1h12" stroke="#800080" stroke-width="1.7" stroke-opacity="0.8" fill="none"/>
<path d="M706.5 516.5V532.1M700.5 516.5h12M700.5 532.1h12" stroke="#800080" stroke-width="1.7" stroke-opacity="0.8" fill="none"/>
<path d="M747.6 499.1V515.7M741.6 499.1h12M741.6 515.7h12" stroke="#800080" stroke-width="1.7" stroke-opacity="0.8" fill="none"/>
<path d="M788.6 483V500.7M782.6 483h12M782.6 500.7h12" stroke="#800080" stroke-width="1.7" stroke-opacity="0.8" fill="none"/>
<path d="M829.7 465.2V484M823.7 465.2h12M823.7 484h12" stroke="#800080" stroke-width="1.7" stroke-opacity="0.8" fill="none"/>
<path d="M870.7 449.1V469M864.7 449.1h12M864.7 469h12" stroke="#800080" stroke-width="1.7" stroke-opacity="0.8" fill="none"/>
<path d="M911.8 433V454M905.8 433h12M905.8 454h12" stroke="#800080" stroke-width="1.7" stroke-opacity="0.8" fill="none"/>
<path d="M952.8 415.6V437.7M946.8 415.6h12M946.8 437.7h12" stroke="#800080" stroke-width="1.7" stroke-opacity="0.8" fill="none"/>
<path d="M993.9 399.1V422.2M987.9 399.1h12M987.9 422.2h12" stroke="#800080" stroke-width="1.7" stroke-opacity="0.8" fill="none"/>
<path d="M1034.9 381.7V405.9M1028.9 381.7h12M1028.9 405.9h12" stroke="#800080" stroke-width="1.7" stroke-opacity="0.8" fill="none"/>
<polyline points="214,755 255,733.4 296.1,712.7 337.1,693.6 378.2,675.9 419.2,653.9 460.3,633.6 501.3,615.9 542.4,596.9 583.4,581.3 624.5,562.7 665.5,542.9 706.5,524.3 747.6,507.4 788.6,491.9 829.7,474.6 870.7,459 911.8,443.5 952.8,426.6 993.9,410.6 1034.9,393.8" fill="none" stroke="#800080" stroke-width="4.4" stroke-linejoin="round"/>
<polygon points="221.5,759.4 214,763.7 206.5,759.4 206.5,750.6 214,746.3 221.5,750.6" fill="#800080"/>
<polygon points="262.6,737.7 255,742.1 247.5,737.7 247.5,729 255,724.7 262.6,729" fill="#800080"/>
<polygon points="303.6,717 296.1,721.4 288.6,717 288.6,708.3 296.1,704 303.6,708.3" fill="#800080"/>
<polygon points="344.7,698 337.1,702.3 329.6,698 329.6,689.3 337.1,684.9 344.7,689.3" fill="#800080"/>
<polygon points="385.7,680.3 378.2,684.6 370.6,680.3 370.6,671.6 378.2,667.2 385.7,671.6" fill="#800080"/>
<polygon points="426.8,658.2 419.2,662.6 411.7,658.2 411.7,649.5 419.2,645.2 426.8,649.5" fill="#800080"/>
<polygon points="467.8,637.9 460.3,642.3 452.7,637.9 452.7,629.2 460.3,624.9 467.8,629.2" fill="#800080"/>
<polygon points="508.9,620.2 501.3,624.6 493.8,620.2 493.8,611.5 501.3,607.2 508.9,611.5" fill="#800080"/>
<polygon points="549.9,601.2 542.4,605.6 534.8,601.2 534.8,592.5 542.4,588.2 549.9,592.5" fill="#800080"/>
<polygon points="590.9,585.7 583.4,590 575.9,585.7 575.9,577 583.4,572.6 590.9,577" fill="#800080"/>
<polygon points="632,567.1 624.5,571.4 616.9,567.1 616.9,558.4 624.5,554 632,558.4" fill="#800080"/>
<polygon points="673,547.2 665.5,551.6 658,547.2 658,538.5 665.5,534.2 673,538.5" fill="#800080"/>
<polygon points="714.1,528.6 706.5,533 699,528.6 699,519.9 706.5,515.6 714.1,519.9" fill="#800080"/>
<polygon points="755.1,511.8 747.6,516.1 740.1,511.8 740.1,503.1 747.6,498.7 755.1,503.1" fill="#800080"/>
<polygon points="796.2,496.2 788.6,500.6 781.1,496.2 781.1,487.5 788.6,483.2 796.2,487.5" fill="#800080"/>
<polygon points="837.2,478.9 829.7,483.3 822.1,478.9 822.1,470.2 829.7,465.9 837.2,470.2" fill="#800080"/>
<polygon points="878.3,463.4 870.7,467.7 863.2,463.4 863.2,454.7 870.7,450.3 878.3,454.7" fill="#800080"/>
<polygon points="919.3,447.8 911.8,452.2 904.2,447.8 904.2,439.1 911.8,434.8 919.3,439.1" fill="#800080"/>
<polygon points="960.4,431 952.8,435.3 945.3,431 945.3,422.3 952.8,417.9 960.4,422.3" fill="#800080"/>
<polygon points="1001.4,415 993.9,419.3 986.3,415 986.3,406.3 993.9,401.9 1001.4,406.3" fill="#800080"/>
<polygon points="1042.4,398.1 1034.9,402.5 1027.4,398.1 1027.4,389.4 1034.9,385.1 1042.4,389.4" fill="#800080"/>
<path d="M214 752.8V757.2M208 752.8h12M208 757.2h12" stroke="#800000" stroke-width="1.7" stroke-opacity="0.8" fill="none"/>
<path d="M255 717.5V725.9M249 717.5h12M249 725.9h12" stroke="#800000" stroke-width="1.7" stroke-opacity="0.8" fill="none"/>
<path d="M296.1 684.8V697.3M290.1 684.8h12M290.1 697.3h12" stroke="#800000" stroke-width="1.7" stroke-opacity="0.8" fill="none"/>
<path d="M337.1 653.4V670M331.1 653.4h12M331.1 670h12" stroke="#800000" stroke-width="1.7" stroke-opacity="0.8" fill="none"/>
<path d="M378.2 623.2V644M372.2 623.2h12M372.2 644h12" stroke="#800000" stroke-width="1.7" stroke-opacity="0.8" fill="none"/>
<path d="M419.2 593.1V617.9M413.2 593.1h12M413.2 617.9h12" stroke="#800000" stroke-width="1.7" stroke-opacity="0.8" fill="none"/>
<path d="M460.3 562.9V591.9M454.3 562.9h12M454.3 591.9h12" stroke="#800000" stroke-width="1.7" stroke-opacity="0.8" fill="none"/>
<path d="M501.3 532.8V565.9M495.3 532.8h12M495.3 565.9h12" stroke="#800000" stroke-width="1.7" stroke-opacity="0.8" fill="none"/>
<path d="M542.4 506.6V543.7M536.4 506.6h12M536.4 543.7h12" stroke="#800000" stroke-width="1.7" stroke-opacity="0.8" fill="none"/>
<path d="M583.4 477.7V519M577.4 477.7h12M577.4 519h12" stroke="#800000" stroke-width="1.7" stroke-opacity="0.8" fill="none"/>
<path d="M624.5 450.2V495.5M618.5 450.2h12M618.5 495.5h12" stroke="#800000" stroke-width="1.7" stroke-opacity="0.8" fill="none"/>
<path d="M665.5 420V469.5M659.5 420h12M659.5 469.5h12" stroke="#800000" stroke-width="1.7" stroke-opacity="0.8" fill="none"/>
<path d="M706.5 394.2V447.8M700.5 394.2h12M700.5 447.8h12" stroke="#800000" stroke-width="1.7" stroke-opacity="0.8" fill="none"/>
<path d="M747.6 368V425.7M741.6 368h12M741.6 425.7h12" stroke="#800000" stroke-width="1.7" stroke-opacity="0.8" fill="none"/>
<path d="M788.6 341.7V403.5M782.6 341.7h12M782.6 403.5h12" stroke="#800000" stroke-width="1.7" stroke-opacity="0.8" fill="none"/>
<path d="M829.7 316.8V382.7M823.7 316.8h12M823.7 382.7h12" stroke="#800000" stroke-width="1.7" stroke-opacity="0.8" fill="none"/>
<path d="M870.7 289.7V359.7M864.7 289.7h12M864.7 359.7h12" stroke="#800000" stroke-width="1.7" stroke-opacity="0.8" fill="none"/>
<path d="M911.8 267.7V341.8M905.8 267.7h12M905.8 341.8h12" stroke="#800000" stroke-width="1.7" stroke-opacity="0.8" fill="none"/>
<path d="M952.8 242.4V320.6M946.8 242.4h12M946.8 320.6h12" stroke="#800000" stroke-width="1.7" stroke-opacity="0.8" fill="none"/>
<path d="M993.9 217.4V299.7M987.9 217.4h12M987.9 299.7h12" stroke="#800000" stroke-width="1.7" stroke-opacity="0.8" fill="none"/>
<path d="M1034.9 192.9V279.3M1028.9 192.9h12M1028.9 279.3h12" stroke="#800000" stroke-width="1.7" stroke-opacity="0.8" fill="none"/>
<polyline points="214,755 255,721.7 296.1,691.1 337.1,661.7 378.2,633.6 419.2,605.5 460.3,577.4 501.3,549.3 542.4,525.1 583.4,498.4 624.5,472.9 665.5,444.8 706.5,421 747.6,396.8 788.6,372.6 829.7,349.7 870.7,324.7 911.8,304.8 952.8,281.5 993.9,258.6 1034.9,236.1" fill="none" stroke="#800000" stroke-width="4.4" stroke-linejoin="round"/>
<polygon points="214,745 216.5,751.6 223.5,751.9 218,756.3 219.9,763.1 214,759.2 208.1,763.1 210,756.3 204.5,751.9 211.5,751.6" fill="#800000"/>
<polygon points="255,711.7 257.5,718.3 264.6,718.6 259,723 260.9,729.8 255,725.9 249.2,729.8 251.1,723 245.5,718.6 252.6,718.3" fill="#800000"/>
<polygon points="296.1,681.1 298.6,687.7 305.6,688 300.1,692.4 302,699.1 296.1,695.3 290.2,699.1 292.1,692.4 286.6,688 293.6,687.7" fill="#800000"/>
<polygon points="337.1,651.7 339.6,658.3 346.6,658.6 341.1,663 343,669.8 337.1,665.9 331.3,669.8 333.1,663 327.6,658.6 334.7,658.3" fill="#800000"/>
<polygon points="378.2,623.6 380.7,630.2 387.7,630.5 382.2,634.9 384.1,641.7 378.2,637.8 372.3,641.7 374.2,634.9 368.7,630.5 375.7,630.2" fill="#800000"/>
<polygon points="419.2,595.5 421.7,602.1 428.7,602.4 423.2,606.8 425.1,613.6 419.2,609.7 413.3,613.6 415.2,606.8 409.7,602.4 416.8,602.1" fill="#800000"/>
<polygon points="460.3,567.4 462.7,574 469.8,574.3 464.3,578.7 466.2,585.5 460.3,581.6 454.4,585.5 456.3,578.7 450.8,574.3 457.8,574" fill="#800000"/>
<polygon points="501.3,539.3 503.8,545.9 510.8,546.2 505.3,550.6 507.2,557.4 501.3,553.5 495.4,557.4 497.3,550.6 491.8,546.2 498.8,545.9" fill="#800000"/>
<polygon points="542.4,515.1 544.8,521.7 551.9,522.1 546.4,526.4 548.2,533.2 542.4,529.3 536.5,533.2 538.4,526.4 532.9,522.1 539.9,521.7" fill="#800000"/>
<polygon points="583.4,488.4 585.9,495 592.9,495.3 587.4,499.7 589.3,506.4 583.4,502.6 577.5,506.4 579.4,499.7 573.9,495.3 580.9,495" fill="#800000"/>
<polygon points="624.5,462.9 626.9,469.5 634,469.8 628.4,474.2 630.3,481 624.5,477.1 618.6,481 620.5,474.2 614.9,469.8 622,469.5" fill="#800000"/>
<polygon points="665.5,434.8 668,441.4 675,441.7 669.5,446.1 671.4,452.9 665.5,449 659.6,452.9 661.5,446.1 656,441.7 663,441.4" fill="#800000"/>
<polygon points="706.5,411 709,417.6 716.1,417.9 710.5,422.3 712.4,429.1 706.5,425.2 700.7,429.1 702.6,422.3 697,417.9 704.1,417.6" fill="#800000"/>
<polygon points="747.6,386.8 750.1,393.4 757.1,393.7 751.6,398.1 753.5,404.9 747.6,401 741.7,404.9 743.6,398.1 738.1,393.7 745.1,393.4" fill="#800000"/>
<polygon points="788.6,362.6 791.1,369.2 798.1,369.5 792.6,373.9 794.5,380.7 788.6,376.8 782.8,380.7 784.6,373.9 779.1,369.5 786.2,369.2" fill="#800000"/>
<polygon points="829.7,339.7 832.2,346.3 839.2,346.6 833.7,351 835.6,357.8 829.7,353.9 823.8,357.8 825.7,351 820.2,346.6 827.2,346.3" fill="#800000"/>
<polygon points="870.7,314.7 873.2,321.3 880.2,321.6 874.7,326 876.6,332.8 870.7,328.9 864.8,332.8 866.7,326 861.2,321.6 868.3,321.3" fill="#800000"/>
<polygon points="911.8,294.8 914.2,301.4 921.3,301.7 915.8,306.1 917.7,312.9 911.8,309 905.9,312.9 907.8,306.1 902.3,301.7 909.3,301.4" fill="#800000"/>
<polygon points="952.8,271.5 955.3,278.1 962.3,278.4 956.8,282.8 958.7,289.6 952.8,285.7 946.9,289.6 948.8,282.8 943.3,278.4 950.3,278.1" fill="#800000"/>
<polygon points="993.9,248.6 996.3,255.2 1003.4,255.5 997.9,259.9 999.7,266.7 993.9,262.8 988,266.7 989.9,259.9 984.4,255.5 991.4,255.2" fill="#800000"/>
<polygon points="1034.9,226.1 1037.4,232.7 1044.4,233 1038.9,237.4 1040.8,244.2 1034.9,240.3 1029,244.2 1030.9,237.4 1025.4,233 1032.4,232.7" fill="#800000"/>
</g>
<line x1="229" y1="50.7" x2="306" y2="50.7" stroke="#000000" stroke-width="4.4"/>
<rect x="260.5" y="43.7" width="14" height="14" fill="#000000"/>
<text x="0" y="0" font-size="34.34" text-anchor="start" transform="translate(315.5 61.2) scale(0.961 1)" >CN<tspan font-size="21.85" dy="12">Oct</tspan><tspan dy="-12">-1000 <tspan font-weight="normal">μ</tspan>g/mL</tspan></text>
<line x1="229" y1="105.3" x2="306" y2="105.3" stroke="#FF0000" stroke-width="4.4"/>
<circle cx="267.5" cy="105.3" r="7.6" fill="#FF0000"/>
<text x="0" y="0" font-size="34.34" text-anchor="start" transform="translate(315.5 115.8) scale(0.961 1)" >CN<tspan font-size="21.85" dy="12">Oct</tspan><tspan dy="-12">-500 <tspan font-weight="normal">μ</tspan>g/mL</tspan></text>
<line x1="229" y1="159.9" x2="306" y2="159.9" stroke="#0000FF" stroke-width="4.4"/>
<polygon points="267.5,150.4 276.5,165.8 258.5,165.8" fill="#0000FF"/>
<text x="0" y="0" font-size="34.34" text-anchor="start" transform="translate(315.5 170.4) scale(0.961 1)" >CN<tspan font-size="21.85" dy="12">Oct</tspan><tspan dy="-12">-250 <tspan font-weight="normal">μ</tspan>g/mL</tspan></text>
<line x1="229" y1="214.5" x2="306" y2="214.5" stroke="#FF00FF" stroke-width="4.4"/>
<polygon points="267.5,224 258.5,208.6 276.5,208.6" fill="#FF00FF"/>
<text x="0" y="0" font-size="34.34" text-anchor="start" transform="translate(315.5 225) scale(0.961 1)" >CN<tspan font-size="21.85" dy="12">Oct</tspan><tspan dy="-12">-166.7 <tspan font-weight="normal">μ</tspan>g/mL</tspan></text>
<line x1="229" y1="269.1" x2="306" y2="269.1" stroke="#008000" stroke-width="4.4"/>
<polygon points="267.5,259.6 277,269.1 267.5,278.6 258,269.1" fill="#008000"/>
<text x="0" y="0" font-size="34.34" text-anchor="start" transform="translate(315.5 279.6) scale(0.961 1)" >CN<tspan font-size="21.85" dy="12">Oct</tspan><tspan dy="-12">-125 <tspan font-weight="normal">μ</tspan>g/mL</tspan></text>
<line x1="229" y1="323.7" x2="306" y2="323.7" stroke="#000080" stroke-width="4.4"/>
<polygon points="258,323.7 273.4,314.7 273.4,332.7" fill="#000080"/>
<text x="0" y="0" font-size="34.34" text-anchor="start" transform="translate(315.5 334.2) scale(0.961 1)" >CN<tspan font-size="21.85" dy="12">Oct</tspan><tspan dy="-12">-100 <tspan font-weight="normal">μ</tspan>g/mL</tspan></text>
<line x1="229" y1="378.3" x2="306" y2="378.3" stroke="#8000FF" stroke-width="4.4"/>
<polygon points="277,378.3 261.6,387.3 261.6,369.3" fill="#8000FF"/>
<text x="0" y="0" font-size="34.34" text-anchor="start" transform="translate(315.5 388.8) scale(0.961 1)" >CN<tspan font-size="21.85" dy="12">Oct</tspan><tspan dy="-12">-83.3 <tspan font-weight="normal">μ</tspan>g/mL</tspan></text>
<line x1="229" y1="432.9" x2="306" y2="432.9" stroke="#800080" stroke-width="4.4"/>
<polygon points="274.6,437 267.5,441.1 260.4,437 260.4,428.8 267.5,424.7 274.6,428.8" fill="#800080"/>
<text x="0" y="0" font-size="34.34" text-anchor="start" transform="translate(315.5 443.4) scale(0.961 1)" >CN<tspan font-size="21.85" dy="12">Oct</tspan><tspan dy="-12">-71.4 <tspan font-weight="normal">μ</tspan>g/mL</tspan></text>
<line x1="229" y1="487.5" x2="306" y2="487.5" stroke="#800000" stroke-width="4.4"/>
<polygon points="267.5,478 269.8,484.3 276.5,484.6 271.3,488.7 273.1,495.2 267.5,491.5 261.9,495.2 263.7,488.7 258.5,484.6 265.2,484.3" fill="#800000"/>
<text x="0" y="0" font-size="34.34" text-anchor="start" transform="translate(315.5 498) scale(0.961 1)" >SOD Blank</text>
<rect x="214" y="20.5" width="903" height="734.5" fill="none" stroke="#000" stroke-width="4.8"/>
<path d="M214 755v-15M296.1 755v-8.5M378.2 755v-15M460.3 755v-8.5M542.4 755v-15M624.5 755v-8.5M706.5 755v-15M788.6 755v-8.5M870.7 755v-15M952.8 755v-8.5M1034.9 755v-15M214 755h15M214 668.6h8.5M214 582.2h15M214 495.8h8.5M214 409.4h15M214 322.9h8.5M214 236.5h15M214 150.1h8.5M214 63.7h15" stroke="#000" stroke-width="4.4" fill="none"/>
<text x="0" y="0" font-size="49.07" text-anchor="middle" transform="translate(214 807.5) scale(0.9375 1)">0</text>
<text x="0" y="0" font-size="49.07" text-anchor="middle" transform="translate(378.2 807.5) scale(0.9375 1)">1</text>
<text x="0" y="0" font-size="49.07" text-anchor="middle" transform="translate(542.4 807.5) scale(0.9375 1)">2</text>
<text x="0" y="0" font-size="49.07" text-anchor="middle" transform="translate(706.5 807.5) scale(0.9375 1)">3</text>
<text x="0" y="0" font-size="49.07" text-anchor="middle" transform="translate(870.7 807.5) scale(0.9375 1)">4</text>
<text x="0" y="0" font-size="49.07" text-anchor="middle" transform="translate(1034.9 807.5) scale(0.9375 1)">5</text>
<text x="0" y="0" font-size="49.07" text-anchor="end" transform="translate(198 769.3) scale(0.9375 1)">0.00</text>
<text x="0" y="0" font-size="49.07" text-anchor="end" transform="translate(198 596.5) scale(0.9375 1)">0.04</text>
<text x="0" y="0" font-size="49.07" text-anchor="end" transform="translate(198 423.7) scale(0.9375 1)">0.08</text>
<text x="0" y="0" font-size="49.07" text-anchor="end" transform="translate(198 250.8) scale(0.9375 1)">0.12</text>
<text x="0" y="0" font-size="49.07" text-anchor="end" transform="translate(198 78) scale(0.9375 1)">0.16</text>
<text x="0" y="0" font-size="53.80" text-anchor="middle" transform="translate(664.7 856.2)">Time (min)</text>
<text x="0" y="0" font-size="46.50" text-anchor="middle" transform="translate(88.9 386.5) rotate(-90)">Absorbance (a.u.)</text>
<g clip-path="url(#clipa)"><text x="0" y="0" font-size="152" transform="translate(941.4 144.2) scale(1 1)">(</text><text x="0" y="0" font-size="148" transform="translate(992.1 144.2) scale(0.92 1)">a</text><text x="0" y="0" font-size="152" transform="translate(1080.5 144.2) scale(1 1)">)</text></g>
<g clip-path="url(#clipb)">
<polyline points="1297.5,771.8 1339.1,765.3 1380.6,752.2 1422.2,742.1 1463.8,739.5 1505.3,731.6 1546.9,722.9 1588.5,724.2 1630,719 1671.6,710.2 1713.2,708.9 1754.8,698.4 1796.3,698.4 1837.9,697.1 1879.5,690.6 1921,691.9 1962.6,684.9 2004.2,679.7 2045.7,673.1 2087.3,675.7 2128.9,670.5" fill="none" stroke="#000000" stroke-width="4.0" stroke-linejoin="round"/>
<rect x="1290" y="764.3" width="15" height="15" fill="#000000"/>
<rect x="1331.6" y="757.8" width="15" height="15" fill="#000000"/>
<rect x="1373.1" y="744.7" width="15" height="15" fill="#000000"/>
<rect x="1414.7" y="734.6" width="15" height="15" fill="#000000"/>
<rect x="1456.3" y="732" width="15" height="15" fill="#000000"/>
<rect x="1497.8" y="724.1" width="15" height="15" fill="#000000"/>
<rect x="1539.4" y="715.4" width="15" height="15" fill="#000000"/>
<rect x="1581" y="716.7" width="15" height="15" fill="#000000"/>
<rect x="1622.5" y="711.5" width="15" height="15" fill="#000000"/>
<rect x="1664.1" y="702.7" width="15" height="15" fill="#000000"/>
<rect x="1705.7" y="701.4" width="15" height="15" fill="#000000"/>
<rect x="1747.2" y="690.9" width="15" height="15" fill="#000000"/>
<rect x="1788.8" y="690.9" width="15" height="15" fill="#000000"/>
<rect x="1830.4" y="689.6" width="15" height="15" fill="#000000"/>
<rect x="1872" y="683.1" width="15" height="15" fill="#000000"/>
<rect x="1913.5" y="684.4" width="15" height="15" fill="#000000"/>
<rect x="1955.1" y="677.4" width="15" height="15" fill="#000000"/>
<rect x="1996.7" y="672.2" width="15" height="15" fill="#000000"/>
<rect x="2038.2" y="665.6" width="15" height="15" fill="#000000"/>
<rect x="2079.8" y="668.2" width="15" height="15" fill="#000000"/>
<rect x="2121.4" y="663" width="15" height="15" fill="#000000"/>
<polyline points="1297.5,771.8 1339.1,762.2 1380.6,745.6 1422.2,732.9 1463.8,725.5 1505.3,717.7 1546.9,708.9 1588.5,702.4 1630,695 1671.6,688.4 1713.2,677 1754.8,670.5 1796.3,662.6 1837.9,653.5 1879.5,645.6 1921,640.4 1962.6,631.2 2004.2,626 2045.7,619 2087.3,607.2 2128.9,600.6" fill="none" stroke="#FF0000" stroke-width="4.0" stroke-linejoin="round"/>
<circle cx="1297.5" cy="771.8" r="8.1" fill="#FF0000"/>
<circle cx="1339.1" cy="762.2" r="8.1" fill="#FF0000"/>
<circle cx="1380.6" cy="745.6" r="8.1" fill="#FF0000"/>
<circle cx="1422.2" cy="732.9" r="8.1" fill="#FF0000"/>
<circle cx="1463.8" cy="725.5" r="8.1" fill="#FF0000"/>
<circle cx="1505.3" cy="717.7" r="8.1" fill="#FF0000"/>
<circle cx="1546.9" cy="708.9" r="8.1" fill="#FF0000"/>
<circle cx="1588.5" cy="702.4" r="8.1" fill="#FF0000"/>
<circle cx="1630" cy="695" r="8.1" fill="#FF0000"/>
<circle cx="1671.6" cy="688.4" r="8.1" fill="#FF0000"/>
<circle cx="1713.2" cy="677" r="8.1" fill="#FF0000"/>
<circle cx="1754.8" cy="670.5" r="8.1" fill="#FF0000"/>
<circle cx="1796.3" cy="662.6" r="8.1" fill="#FF0000"/>
<circle cx="1837.9" cy="653.5" r="8.1" fill="#FF0000"/>
<circle cx="1879.5" cy="645.6" r="8.1" fill="#FF0000"/>
<circle cx="1921" cy="640.4" r="8.1" fill="#FF0000"/>
<circle cx="1962.6" cy="631.2" r="8.1" fill="#FF0000"/>
<circle cx="2004.2" cy="626" r="8.1" fill="#FF0000"/>
<circle cx="2045.7" cy="619" r="8.1" fill="#FF0000"/>
<circle cx="2087.3" cy="607.2" r="8.1" fill="#FF0000"/>
<circle cx="2128.9" cy="600.6" r="8.1" fill="#FF0000"/>
<path d="M1463.8 709.6V713.5M1457.8 709.6h12M1457.8 713.5h12" stroke="#0000FF" stroke-width="1.7" stroke-opacity="0.8" fill="none"/>
<path d="M1505.3 696V700.9M1499.3 696h12M1499.3 700.9h12" stroke="#0000FF" stroke-width="1.7" stroke-opacity="0.8" fill="none"/>
<path d="M1546.9 682.8V688.7M1540.9 682.8h12M1540.9 688.7h12" stroke="#0000FF" stroke-width="1.7" stroke-opacity="0.8" fill="none"/>
<path d="M1588.5 668.4V675.2M1582.5 668.4h12M1582.5 675.2h12" stroke="#0000FF" stroke-width="1.7" stroke-opacity="0.8" fill="none"/>
<path d="M1630 655.2V663.1M1624 655.2h12M1624 663.1h12" stroke="#0000FF" stroke-width="1.7" stroke-opacity="0.8" fill="none"/>
<path d="M1671.6 640.8V649.6M1665.6 640.8h12M1665.6 649.6h12" stroke="#0000FF" stroke-width="1.7" stroke-opacity="0.8" fill="none"/>
<path d="M1713.2 628.9V638.7M1707.2 628.9h12M1707.2 638.7h12" stroke="#0000FF" stroke-width="1.7" stroke-opacity="0.8" fill="none"/>
<path d="M1754.8 613.6V624.4M1748.8 613.6h12M1748.8 624.4h12" stroke="#0000FF" stroke-width="1.7" stroke-opacity="0.8" fill="none"/>
<path d="M1796.3 601.3V613.1M1790.3 601.3h12M1790.3 613.1h12" stroke="#0000FF" stroke-width="1.7" stroke-opacity="0.8" fill="none"/>
<path d="M1837.9 587.7V600.5M1831.9 587.7h12M1831.9 600.5h12" stroke="#0000FF" stroke-width="1.7" stroke-opacity="0.8" fill="none"/>
<path d="M1879.5 572.8V586.6M1873.5 572.8h12M1873.5 586.6h12" stroke="#0000FF" stroke-width="1.7" stroke-opacity="0.8" fill="none"/>
<path d="M1921 564.4V579.2M1915 564.4h12M1915 579.2h12" stroke="#0000FF" stroke-width="1.7" stroke-opacity="0.8" fill="none"/>
<path d="M1962.6 549.1V564.8M1956.6 549.1h12M1956.6 564.8h12" stroke="#0000FF" stroke-width="1.7" stroke-opacity="0.8" fill="none"/>
<path d="M2004.2 536.8V553.5M1998.2 536.8h12M1998.2 553.5h12" stroke="#0000FF" stroke-width="1.7" stroke-opacity="0.8" fill="none"/>
<path d="M2045.7 524.5V542.2M2039.7 524.5h12M2039.7 542.2h12" stroke="#0000FF" stroke-width="1.7" stroke-opacity="0.8" fill="none"/>
<path d="M2087.3 514.9V533.6M2081.3 514.9h12M2081.3 533.6h12" stroke="#0000FF" stroke-width="1.7" stroke-opacity="0.8" fill="none"/>
<path d="M2128.9 502.6V522.3M2122.9 502.6h12M2122.9 522.3h12" stroke="#0000FF" stroke-width="1.7" stroke-opacity="0.8" fill="none"/>
<polyline points="1297.5,771.8 1339.1,754.3 1380.6,739.1 1422.2,724.2 1463.8,711.5 1505.3,698.4 1546.9,685.8 1588.5,671.8 1630,659.1 1671.6,645.2 1713.2,633.8 1754.8,619 1796.3,607.2 1837.9,594.1 1879.5,579.7 1921,571.8 1962.6,557 2004.2,545.2 2045.7,533.4 2087.3,524.2 2128.9,512.4" fill="none" stroke="#0000FF" stroke-width="4.0" stroke-linejoin="round"/>
<polygon points="1297.5,761.8 1307,778 1288,778" fill="#0000FF"/>
<polygon points="1339.1,744.3 1348.6,760.5 1329.6,760.5" fill="#0000FF"/>
<polygon points="1380.6,729.1 1390.1,745.3 1371.1,745.3" fill="#0000FF"/>
<polygon points="1422.2,714.2 1431.7,730.4 1412.7,730.4" fill="#0000FF"/>
<polygon points="1463.8,701.5 1473.3,717.7 1454.3,717.7" fill="#0000FF"/>
<polygon points="1505.3,688.4 1514.8,704.6 1495.8,704.6" fill="#0000FF"/>
<polygon points="1546.9,675.8 1556.4,692 1537.4,692" fill="#0000FF"/>
<polygon points="1588.5,661.8 1598,678 1579,678" fill="#0000FF"/>
<polygon points="1630,649.1 1639.5,665.3 1620.5,665.3" fill="#0000FF"/>
<polygon points="1671.6,635.2 1681.1,651.4 1662.1,651.4" fill="#0000FF"/>
<polygon points="1713.2,623.8 1722.7,640 1703.7,640" fill="#0000FF"/>
<polygon points="1754.8,609 1764.2,625.2 1745.2,625.2" fill="#0000FF"/>
<polygon points="1796.3,597.2 1805.8,613.4 1786.8,613.4" fill="#0000FF"/>
<polygon points="1837.9,584.1 1847.4,600.3 1828.4,600.3" fill="#0000FF"/>
<polygon points="1879.5,569.7 1889,585.9 1870,585.9" fill="#0000FF"/>
<polygon points="1921,561.8 1930.5,578 1911.5,578" fill="#0000FF"/>
<polygon points="1962.6,547 1972.1,563.2 1953.1,563.2" fill="#0000FF"/>
<polygon points="2004.2,535.2 2013.7,551.4 1994.7,551.4" fill="#0000FF"/>
<polygon points="2045.7,523.4 2055.2,539.6 2036.2,539.6" fill="#0000FF"/>
<polygon points="2087.3,514.2 2096.8,530.4 2077.8,530.4" fill="#0000FF"/>
<polygon points="2128.9,502.4 2138.4,518.6 2119.4,518.6" fill="#0000FF"/>
<path d="M1463.8 690.4V694.3M1457.8 690.4h12M1457.8 694.3h12" stroke="#FF00FF" stroke-width="1.7" stroke-opacity="0.8" fill="none"/>
<path d="M1505.3 682V686.9M1499.3 682h12M1499.3 686.9h12" stroke="#FF00FF" stroke-width="1.7" stroke-opacity="0.8" fill="none"/>
<path d="M1546.9 663.6V669.5M1540.9 663.6h12M1540.9 669.5h12" stroke="#FF00FF" stroke-width="1.7" stroke-opacity="0.8" fill="none"/>
<path d="M1588.5 649.2V656M1582.5 649.2h12M1582.5 656h12" stroke="#FF00FF" stroke-width="1.7" stroke-opacity="0.8" fill="none"/>
<path d="M1630 629.5V637.3M1624 629.5h12M1624 637.3h12" stroke="#FF00FF" stroke-width="1.7" stroke-opacity="0.8" fill="none"/>
<path d="M1671.6 613.7V622.5M1665.6 613.7h12M1665.6 622.5h12" stroke="#FF00FF" stroke-width="1.7" stroke-opacity="0.8" fill="none"/>
<path d="M1713.2 597V606.9M1707.2 597h12M1707.2 606.9h12" stroke="#FF00FF" stroke-width="1.7" stroke-opacity="0.8" fill="none"/>
<path d="M1754.8 578.2V589M1748.8 578.2h12M1748.8 589h12" stroke="#FF00FF" stroke-width="1.7" stroke-opacity="0.8" fill="none"/>
<path d="M1796.3 560.7V572.5M1790.3 560.7h12M1790.3 572.5h12" stroke="#FF00FF" stroke-width="1.7" stroke-opacity="0.8" fill="none"/>
<path d="M1837.9 545.8V558.6M1831.9 545.8h12M1831.9 558.6h12" stroke="#FF00FF" stroke-width="1.7" stroke-opacity="0.8" fill="none"/>
<path d="M1879.5 527.8V541.6M1873.5 527.8h12M1873.5 541.6h12" stroke="#FF00FF" stroke-width="1.7" stroke-opacity="0.8" fill="none"/>
<path d="M1921 514.2V529M1915 514.2h12M1915 529h12" stroke="#FF00FF" stroke-width="1.7" stroke-opacity="0.8" fill="none"/>
<path d="M1962.6 499.3V515.1M1956.6 499.3h12M1956.6 515.1h12" stroke="#FF00FF" stroke-width="1.7" stroke-opacity="0.8" fill="none"/>
<path d="M2004.2 481.8V498.5M1998.2 481.8h12M1998.2 498.5h12" stroke="#FF00FF" stroke-width="1.7" stroke-opacity="0.8" fill="none"/>
<path d="M2045.7 465.2V482.8M2039.7 465.2h12M2039.7 482.8h12" stroke="#FF00FF" stroke-width="1.7" stroke-opacity="0.8" fill="none"/>
<path d="M2087.3 450.3V468.9M2081.3 450.3h12M2081.3 468.9h12" stroke="#FF00FF" stroke-width="1.7" stroke-opacity="0.8" fill="none"/>
<path d="M2128.9 436.7V456.3M2122.9 436.7h12M2122.9 456.3h12" stroke="#FF00FF" stroke-width="1.7" stroke-opacity="0.8" fill="none"/>
<polyline points="1297.5,771.8 1339.1,750 1380.6,730.3 1422.2,710.7 1463.8,692.3 1505.3,684.5 1546.9,666.6 1588.5,652.6 1630,633.4 1671.6,618.1 1713.2,601.9 1754.8,583.6 1796.3,566.6 1837.9,552.2 1879.5,534.7 1921,521.6 1962.6,507.2 2004.2,490.2 2045.7,474 2087.3,459.6 2128.9,446.5" fill="none" stroke="#FF00FF" stroke-width="4.0" stroke-linejoin="round"/>
<polygon points="1297.5,781.8 1288,765.6 1307,765.6" fill="#FF00FF"/>
<polygon points="1339.1,760 1329.6,743.8 1348.6,743.8" fill="#FF00FF"/>
<polygon points="1380.6,740.3 1371.1,724.1 1390.1,724.1" fill="#FF00FF"/>
<polygon points="1422.2,720.7 1412.7,704.5 1431.7,704.5" fill="#FF00FF"/>
<polygon points="1463.8,702.3 1454.3,686.1 1473.3,686.1" fill="#FF00FF"/>
<polygon points="1505.3,694.5 1495.8,678.3 1514.8,678.3" fill="#FF00FF"/>
<polygon points="1546.9,676.6 1537.4,660.4 1556.4,660.4" fill="#FF00FF"/>
<polygon points="1588.5,662.6 1579,646.4 1598,646.4" fill="#FF00FF"/>
<polygon points="1630,643.4 1620.5,627.2 1639.5,627.2" fill="#FF00FF"/>
<polygon points="1671.6,628.1 1662.1,611.9 1681.1,611.9" fill="#FF00FF"/>
<polygon points="1713.2,611.9 1703.7,595.7 1722.7,595.7" fill="#FF00FF"/>
<polygon points="1754.8,593.6 1745.2,577.4 1764.2,577.4" fill="#FF00FF"/>
<polygon points="1796.3,576.6 1786.8,560.4 1805.8,560.4" fill="#FF00FF"/>
<polygon points="1837.9,562.2 1828.4,546 1847.4,546" fill="#FF00FF"/>
<polygon points="1879.5,544.7 1870,528.5 1889,528.5" fill="#FF00FF"/>
<polygon points="1921,531.6 1911.5,515.4 1930.5,515.4" fill="#FF00FF"/>
<polygon points="1962.6,517.2 1953.1,501 1972.1,501" fill="#FF00FF"/>
<polygon points="2004.2,500.2 1994.7,484 2013.7,484" fill="#FF00FF"/>
<polygon points="2045.7,484 2036.2,467.8 2055.2,467.8" fill="#FF00FF"/>
<polygon points="2087.3,469.6 2077.8,453.4 2096.8,453.4" fill="#FF00FF"/>
<polygon points="2128.9,456.5 2119.4,440.3 2138.4,440.3" fill="#FF00FF"/>
<path d="M1463.8 690.4V694.3M1457.8 690.4h12M1457.8 694.3h12" stroke="#008000" stroke-width="1.7" stroke-opacity="0.8" fill="none"/>
<path d="M1505.3 670.7V675.6M1499.3 670.7h12M1499.3 675.6h12" stroke="#008000" stroke-width="1.7" stroke-opacity="0.8" fill="none"/>
<path d="M1546.9 656.2V662.1M1540.9 656.2h12M1540.9 662.1h12" stroke="#008000" stroke-width="1.7" stroke-opacity="0.8" fill="none"/>
<path d="M1588.5 637.8V644.7M1582.5 637.8h12M1582.5 644.7h12" stroke="#008000" stroke-width="1.7" stroke-opacity="0.8" fill="none"/>
<path d="M1630 616.8V624.6M1624 616.8h12M1624 624.6h12" stroke="#008000" stroke-width="1.7" stroke-opacity="0.8" fill="none"/>
<path d="M1671.6 597.1V605.9M1665.6 597.1h12M1665.6 605.9h12" stroke="#008000" stroke-width="1.7" stroke-opacity="0.8" fill="none"/>
<path d="M1713.2 580V589.8M1707.2 580h12M1707.2 589.8h12" stroke="#008000" stroke-width="1.7" stroke-opacity="0.8" fill="none"/>
<path d="M1754.8 559.9V570.7M1748.8 559.9h12M1748.8 570.7h12" stroke="#008000" stroke-width="1.7" stroke-opacity="0.8" fill="none"/>
<path d="M1796.3 541.9V553.7M1790.3 541.9h12M1790.3 553.7h12" stroke="#008000" stroke-width="1.7" stroke-opacity="0.8" fill="none"/>
<path d="M1837.9 523.1V535.8M1831.9 523.1h12M1831.9 535.8h12" stroke="#008000" stroke-width="1.7" stroke-opacity="0.8" fill="none"/>
<path d="M1879.5 505.6V519.3M1873.5 505.6h12M1873.5 519.3h12" stroke="#008000" stroke-width="1.7" stroke-opacity="0.8" fill="none"/>
<path d="M1921 489.3V504.1M1915 489.3h12M1915 504.1h12" stroke="#008000" stroke-width="1.7" stroke-opacity="0.8" fill="none"/>
<path d="M1962.6 471.8V487.5M1956.6 471.8h12M1956.6 487.5h12" stroke="#008000" stroke-width="1.7" stroke-opacity="0.8" fill="none"/>
<path d="M2004.2 455.2V471.9M1998.2 455.2h12M1998.2 471.9h12" stroke="#008000" stroke-width="1.7" stroke-opacity="0.8" fill="none"/>
<path d="M2045.7 439V456.6M2039.7 439h12M2039.7 456.6h12" stroke="#008000" stroke-width="1.7" stroke-opacity="0.8" fill="none"/>
<path d="M2087.3 421.4V440.1M2081.3 421.4h12M2081.3 440.1h12" stroke="#008000" stroke-width="1.7" stroke-opacity="0.8" fill="none"/>
<path d="M2128.9 405.2V424.9M2122.9 405.2h12M2122.9 424.9h12" stroke="#008000" stroke-width="1.7" stroke-opacity="0.8" fill="none"/>
<polyline points="1297.5,771.8 1339.1,747.8 1380.6,728.1 1422.2,708.5 1463.8,692.3 1505.3,673.1 1546.9,659.1 1588.5,641.2 1630,620.7 1671.6,601.5 1713.2,584.9 1754.8,565.3 1796.3,547.8 1837.9,529.5 1879.5,512.4 1921,496.7 1962.6,479.7 2004.2,463.5 2045.7,447.8 2087.3,430.8 2128.9,415.1" fill="none" stroke="#008000" stroke-width="4.0" stroke-linejoin="round"/>
<polygon points="1297.5,761.8 1307.5,771.8 1297.5,781.8 1287.5,771.8" fill="#008000"/>
<polygon points="1339.1,737.8 1349.1,747.8 1339.1,757.8 1329.1,747.8" fill="#008000"/>
<polygon points="1380.6,718.1 1390.6,728.1 1380.6,738.1 1370.6,728.1" fill="#008000"/>
<polygon points="1422.2,698.5 1432.2,708.5 1422.2,718.5 1412.2,708.5" fill="#008000"/>
<polygon points="1463.8,682.3 1473.8,692.3 1463.8,702.3 1453.8,692.3" fill="#008000"/>
<polygon points="1505.3,663.1 1515.3,673.1 1505.3,683.1 1495.3,673.1" fill="#008000"/>
<polygon points="1546.9,649.1 1556.9,659.1 1546.9,669.1 1536.9,659.1" fill="#008000"/>
<polygon points="1588.5,631.2 1598.5,641.2 1588.5,651.2 1578.5,641.2" fill="#008000"/>
<polygon points="1630,610.7 1640,620.7 1630,630.7 1620,620.7" fill="#008000"/>
<polygon points="1671.6,591.5 1681.6,601.5 1671.6,611.5 1661.6,601.5" fill="#008000"/>
<polygon points="1713.2,574.9 1723.2,584.9 1713.2,594.9 1703.2,584.9" fill="#008000"/>
<polygon points="1754.8,555.3 1764.8,565.3 1754.8,575.3 1744.8,565.3" fill="#008000"/>
<polygon points="1796.3,537.8 1806.3,547.8 1796.3,557.8 1786.3,547.8" fill="#008000"/>
<polygon points="1837.9,519.5 1847.9,529.5 1837.9,539.5 1827.9,529.5" fill="#008000"/>
<polygon points="1879.5,502.4 1889.5,512.4 1879.5,522.4 1869.5,512.4" fill="#008000"/>
<polygon points="1921,486.7 1931,496.7 1921,506.7 1911,496.7" fill="#008000"/>
<polygon points="1962.6,469.7 1972.6,479.7 1962.6,489.7 1952.6,479.7" fill="#008000"/>
<polygon points="2004.2,453.5 2014.2,463.5 2004.2,473.5 1994.2,463.5" fill="#008000"/>
<polygon points="2045.7,437.8 2055.7,447.8 2045.7,457.8 2035.7,447.8" fill="#008000"/>
<polygon points="2087.3,420.8 2097.3,430.8 2087.3,440.8 2077.3,430.8" fill="#008000"/>
<polygon points="2128.9,405.1 2138.9,415.1 2128.9,425.1 2118.9,415.1" fill="#008000"/>
<path d="M1463.8 682.5V686.4M1457.8 682.5h12M1457.8 686.4h12" stroke="#000080" stroke-width="1.7" stroke-opacity="0.8" fill="none"/>
<path d="M1505.3 664.5V669.5M1499.3 664.5h12M1499.3 669.5h12" stroke="#000080" stroke-width="1.7" stroke-opacity="0.8" fill="none"/>
<path d="M1546.9 643.1V649M1540.9 643.1h12M1540.9 649h12" stroke="#000080" stroke-width="1.7" stroke-opacity="0.8" fill="none"/>
<path d="M1588.5 622.1V629M1582.5 622.1h12M1582.5 629h12" stroke="#000080" stroke-width="1.7" stroke-opacity="0.8" fill="none"/>
<path d="M1630 599.8V607.6M1624 599.8h12M1624 607.6h12" stroke="#000080" stroke-width="1.7" stroke-opacity="0.8" fill="none"/>
<path d="M1671.6 580.5V589.3M1665.6 580.5h12M1665.6 589.3h12" stroke="#000080" stroke-width="1.7" stroke-opacity="0.8" fill="none"/>
<path d="M1713.2 561.7V571.5M1707.2 561.7h12M1707.2 571.5h12" stroke="#000080" stroke-width="1.7" stroke-opacity="0.8" fill="none"/>
<path d="M1754.8 539.8V550.6M1748.8 539.8h12M1748.8 550.6h12" stroke="#000080" stroke-width="1.7" stroke-opacity="0.8" fill="none"/>
<path d="M1796.3 526.2V538M1790.3 526.2h12M1790.3 538h12" stroke="#000080" stroke-width="1.7" stroke-opacity="0.8" fill="none"/>
<path d="M1837.9 502.1V514.9M1831.9 502.1h12M1831.9 514.9h12" stroke="#000080" stroke-width="1.7" stroke-opacity="0.8" fill="none"/>
<path d="M1879.5 478.9V492.7M1873.5 478.9h12M1873.5 492.7h12" stroke="#000080" stroke-width="1.7" stroke-opacity="0.8" fill="none"/>
<path d="M1921 467.9V482.7M1915 467.9h12M1915 482.7h12" stroke="#000080" stroke-width="1.7" stroke-opacity="0.8" fill="none"/>
<path d="M1962.6 449.1V464.8M1956.6 449.1h12M1956.6 464.8h12" stroke="#000080" stroke-width="1.7" stroke-opacity="0.8" fill="none"/>
<path d="M2004.2 431.6V448.3M1998.2 431.6h12M1998.2 448.3h12" stroke="#000080" stroke-width="1.7" stroke-opacity="0.8" fill="none"/>
<path d="M2045.7 412.8V430.5M2039.7 412.8h12M2039.7 430.5h12" stroke="#000080" stroke-width="1.7" stroke-opacity="0.8" fill="none"/>
<path d="M2087.3 396.1V414.8M2081.3 396.1h12M2081.3 414.8h12" stroke="#000080" stroke-width="1.7" stroke-opacity="0.8" fill="none"/>
<path d="M2128.9 378.6V398.2M2122.9 378.6h12M2122.9 398.2h12" stroke="#000080" stroke-width="1.7" stroke-opacity="0.8" fill="none"/>
<polyline points="1297.5,771.8 1339.1,745.6 1380.6,726 1422.2,704.1 1463.8,684.5 1505.3,667 1546.9,646 1588.5,625.5 1630,603.7 1671.6,584.9 1713.2,566.6 1754.8,545.2 1796.3,532.1 1837.9,508.5 1879.5,485.8 1921,475.3 1962.6,457 2004.2,439.9 2045.7,421.6 2087.3,405.5 2128.9,388.4" fill="none" stroke="#000080" stroke-width="4.0" stroke-linejoin="round"/>
<polygon points="1287.5,771.8 1303.7,762.3 1303.7,781.3" fill="#000080"/>
<polygon points="1329.1,745.6 1345.3,736.1 1345.3,755.1" fill="#000080"/>
<polygon points="1370.6,726 1386.8,716.5 1386.8,735.5" fill="#000080"/>
<polygon points="1412.2,704.1 1428.4,694.6 1428.4,713.6" fill="#000080"/>
<polygon points="1453.8,684.5 1470,675 1470,694" fill="#000080"/>
<polygon points="1495.3,667 1511.5,657.5 1511.5,676.5" fill="#000080"/>
<polygon points="1536.9,646 1553.1,636.5 1553.1,655.5" fill="#000080"/>
<polygon points="1578.5,625.5 1594.7,616 1594.7,635" fill="#000080"/>
<polygon points="1620,603.7 1636.2,594.2 1636.2,613.2" fill="#000080"/>
<polygon points="1661.6,584.9 1677.8,575.4 1677.8,594.4" fill="#000080"/>
<polygon points="1703.2,566.6 1719.4,557.1 1719.4,576.1" fill="#000080"/>
<polygon points="1744.8,545.2 1761,535.7 1761,554.7" fill="#000080"/>
<polygon points="1786.3,532.1 1802.5,522.6 1802.5,541.6" fill="#000080"/>
<polygon points="1827.9,508.5 1844.1,499 1844.1,518" fill="#000080"/>
<polygon points="1869.5,485.8 1885.7,476.3 1885.7,495.3" fill="#000080"/>
<polygon points="1911,475.3 1927.2,465.8 1927.2,484.8" fill="#000080"/>
<polygon points="1952.6,457 1968.8,447.5 1968.8,466.5" fill="#000080"/>
<polygon points="1994.2,439.9 2010.4,430.4 2010.4,449.4" fill="#000080"/>
<polygon points="2035.7,421.6 2051.9,412.1 2051.9,431.1" fill="#000080"/>
<polygon points="2077.3,405.5 2093.5,396 2093.5,415" fill="#000080"/>
<polygon points="2118.9,388.4 2135.1,378.9 2135.1,397.9" fill="#000080"/>
<path d="M1463.8 679.9V683.8M1457.8 679.9h12M1457.8 683.8h12" stroke="#8000FF" stroke-width="1.7" stroke-opacity="0.8" fill="none"/>
<path d="M1505.3 661.9V666.8M1499.3 661.9h12M1499.3 666.8h12" stroke="#8000FF" stroke-width="1.7" stroke-opacity="0.8" fill="none"/>
<path d="M1546.9 640.9V646.8M1540.9 640.9h12M1540.9 646.8h12" stroke="#8000FF" stroke-width="1.7" stroke-opacity="0.8" fill="none"/>
<path d="M1588.5 619.9V626.8M1582.5 619.9h12M1582.5 626.8h12" stroke="#8000FF" stroke-width="1.7" stroke-opacity="0.8" fill="none"/>
<path d="M1630 597.6V605.4M1624 597.6h12M1624 605.4h12" stroke="#8000FF" stroke-width="1.7" stroke-opacity="0.8" fill="none"/>
<path d="M1671.6 578.3V587.2M1665.6 578.3h12M1665.6 587.2h12" stroke="#8000FF" stroke-width="1.7" stroke-opacity="0.8" fill="none"/>
<path d="M1713.2 556.4V566.2M1707.2 556.4h12M1707.2 566.2h12" stroke="#8000FF" stroke-width="1.7" stroke-opacity="0.8" fill="none"/>
<path d="M1754.8 534.5V545.3M1748.8 534.5h12M1748.8 545.3h12" stroke="#8000FF" stroke-width="1.7" stroke-opacity="0.8" fill="none"/>
<path d="M1796.3 518.3V530.1M1790.3 518.3h12M1790.3 530.1h12" stroke="#8000FF" stroke-width="1.7" stroke-opacity="0.8" fill="none"/>
<path d="M1837.9 496.9V509.6M1831.9 496.9h12M1831.9 509.6h12" stroke="#8000FF" stroke-width="1.7" stroke-opacity="0.8" fill="none"/>
<path d="M1879.5 473.7V487.4M1873.5 473.7h12M1873.5 487.4h12" stroke="#8000FF" stroke-width="1.7" stroke-opacity="0.8" fill="none"/>
<path d="M1921 462.7V477.4M1915 462.7h12M1915 477.4h12" stroke="#8000FF" stroke-width="1.7" stroke-opacity="0.8" fill="none"/>
<path d="M1962.6 436V451.7M1956.6 436h12M1956.6 451.7h12" stroke="#8000FF" stroke-width="1.7" stroke-opacity="0.8" fill="none"/>
<path d="M2004.2 417.2V433.9M1998.2 417.2h12M1998.2 433.9h12" stroke="#8000FF" stroke-width="1.7" stroke-opacity="0.8" fill="none"/>
<path d="M2045.7 399.2V416.9M2039.7 399.2h12M2039.7 416.9h12" stroke="#8000FF" stroke-width="1.7" stroke-opacity="0.8" fill="none"/>
<path d="M2087.3 381.7V400.4M2081.3 381.7h12M2081.3 400.4h12" stroke="#8000FF" stroke-width="1.7" stroke-opacity="0.8" fill="none"/>
<path d="M2128.9 362.9V382.5M2122.9 362.9h12M2122.9 382.5h12" stroke="#8000FF" stroke-width="1.7" stroke-opacity="0.8" fill="none"/>
<polyline points="1297.5,771.8 1339.1,745.6 1380.6,723.8 1422.2,701.9 1463.8,681.9 1505.3,664.4 1546.9,643.9 1588.5,623.3 1630,601.5 1671.6,582.7 1713.2,561.3 1754.8,539.9 1796.3,524.2 1837.9,503.3 1879.5,480.6 1921,470.1 1962.6,443.9 2004.2,425.5 2045.7,408.1 2087.3,391 2128.9,372.7" fill="none" stroke="#8000FF" stroke-width="4.0" stroke-linejoin="round"/>
<polygon points="1307.5,771.8 1291.3,781.3 1291.3,762.3" fill="#8000FF"/>
<polygon points="1349.1,745.6 1332.9,755.1 1332.9,736.1" fill="#8000FF"/>
<polygon points="1390.6,723.8 1374.4,733.3 1374.4,714.3" fill="#8000FF"/>
<polygon points="1432.2,701.9 1416,711.4 1416,692.4" fill="#8000FF"/>
<polygon points="1473.8,681.9 1457.6,691.4 1457.6,672.4" fill="#8000FF"/>
<polygon points="1515.3,664.4 1499.1,673.9 1499.1,654.9" fill="#8000FF"/>
<polygon points="1556.9,643.9 1540.7,653.4 1540.7,634.4" fill="#8000FF"/>
<polygon points="1598.5,623.3 1582.3,632.8 1582.3,613.8" fill="#8000FF"/>
<polygon points="1640,601.5 1623.8,611 1623.8,592" fill="#8000FF"/>
<polygon points="1681.6,582.7 1665.4,592.2 1665.4,573.2" fill="#8000FF"/>
<polygon points="1723.2,561.3 1707,570.8 1707,551.8" fill="#8000FF"/>
<polygon points="1764.8,539.9 1748.5,549.4 1748.5,530.4" fill="#8000FF"/>
<polygon points="1806.3,524.2 1790.1,533.7 1790.1,514.7" fill="#8000FF"/>
<polygon points="1847.9,503.3 1831.7,512.8 1831.7,493.8" fill="#8000FF"/>
<polygon points="1889.5,480.6 1873.3,490.1 1873.3,471.1" fill="#8000FF"/>
<polygon points="1931,470.1 1914.8,479.6 1914.8,460.6" fill="#8000FF"/>
<polygon points="1972.6,443.9 1956.4,453.4 1956.4,434.4" fill="#8000FF"/>
<polygon points="2014.2,425.5 1998,435 1998,416" fill="#8000FF"/>
<polygon points="2055.7,408.1 2039.5,417.6 2039.5,398.6" fill="#8000FF"/>
<polygon points="2097.3,391 2081.1,400.5 2081.1,381.5" fill="#8000FF"/>
<polygon points="2138.9,372.7 2122.7,382.2 2122.7,363.2" fill="#8000FF"/>
<path d="M1463.8 668.5V672.5M1457.8 668.5h12M1457.8 672.5h12" stroke="#800080" stroke-width="1.7" stroke-opacity="0.8" fill="none"/>
<path d="M1505.3 644V648.9M1499.3 644h12M1499.3 648.9h12" stroke="#800080" stroke-width="1.7" stroke-opacity="0.8" fill="none"/>
<path d="M1546.9 617.8V623.7M1540.9 617.8h12M1540.9 623.7h12" stroke="#800080" stroke-width="1.7" stroke-opacity="0.8" fill="none"/>
<path d="M1588.5 599.4V606.3M1582.5 599.4h12M1582.5 606.3h12" stroke="#800080" stroke-width="1.7" stroke-opacity="0.8" fill="none"/>
<path d="M1630 574.9V582.7M1624 574.9h12M1624 582.7h12" stroke="#800080" stroke-width="1.7" stroke-opacity="0.8" fill="none"/>
<path d="M1671.6 552.5V561.4M1665.6 552.5h12M1665.6 561.4h12" stroke="#800080" stroke-width="1.7" stroke-opacity="0.8" fill="none"/>
<path d="M1713.2 530.7V540.5M1707.2 530.7h12M1707.2 540.5h12" stroke="#800080" stroke-width="1.7" stroke-opacity="0.8" fill="none"/>
<path d="M1754.8 509.6V520.5M1748.8 509.6h12M1748.8 520.5h12" stroke="#800080" stroke-width="1.7" stroke-opacity="0.8" fill="none"/>
<path d="M1796.3 488.2V500M1790.3 488.2h12M1790.3 500h12" stroke="#800080" stroke-width="1.7" stroke-opacity="0.8" fill="none"/>
<path d="M1837.9 466.3V479.1M1831.9 466.3h12M1831.9 479.1h12" stroke="#800080" stroke-width="1.7" stroke-opacity="0.8" fill="none"/>
<path d="M1879.5 444.9V458.6M1873.5 444.9h12M1873.5 458.6h12" stroke="#800080" stroke-width="1.7" stroke-opacity="0.8" fill="none"/>
<path d="M1921 426V440.8M1915 426h12M1915 440.8h12" stroke="#800080" stroke-width="1.7" stroke-opacity="0.8" fill="none"/>
<path d="M1962.6 405V420.7M1956.6 405h12M1956.6 420.7h12" stroke="#800080" stroke-width="1.7" stroke-opacity="0.8" fill="none"/>
<path d="M2004.2 384V400.7M1998.2 384h12M1998.2 400.7h12" stroke="#800080" stroke-width="1.7" stroke-opacity="0.8" fill="none"/>
<path d="M2045.7 363.9V381.5M2039.7 363.9h12M2039.7 381.5h12" stroke="#800080" stroke-width="1.7" stroke-opacity="0.8" fill="none"/>
<path d="M2087.3 343.7V362.4M2081.3 343.7h12M2081.3 362.4h12" stroke="#800080" stroke-width="1.7" stroke-opacity="0.8" fill="none"/>
<path d="M2128.9 325.3V345M2122.9 325.3h12M2122.9 345h12" stroke="#800080" stroke-width="1.7" stroke-opacity="0.8" fill="none"/>
<polyline points="1297.5,771.8 1339.1,739.1 1380.6,712.9 1422.2,696.3 1463.8,670.5 1505.3,646.5 1546.9,620.7 1588.5,602.8 1630,578.8 1671.6,557 1713.2,535.6 1754.8,515.1 1796.3,494.1 1837.9,472.7 1879.5,451.7 1921,433.4 1962.6,412.9 2004.2,392.4 2045.7,372.7 2087.3,353.1 2128.9,335.2" fill="none" stroke="#800080" stroke-width="4.0" stroke-linejoin="round"/>
<polygon points="1305,776.1 1297.5,780.5 1290,776.1 1290,767.4 1297.5,763.1 1305,767.4" fill="#800080"/>
<polygon points="1346.6,743.4 1339.1,747.8 1331.5,743.4 1331.5,734.7 1339.1,730.4 1346.6,734.7" fill="#800080"/>
<polygon points="1388.2,717.2 1380.6,721.6 1373.1,717.2 1373.1,708.5 1380.6,704.2 1388.2,708.5" fill="#800080"/>
<polygon points="1429.7,700.6 1422.2,705 1414.7,700.6 1414.7,691.9 1422.2,687.6 1429.7,691.9" fill="#800080"/>
<polygon points="1471.3,674.8 1463.8,679.2 1456.2,674.8 1456.2,666.1 1463.8,661.8 1471.3,666.1" fill="#800080"/>
<polygon points="1512.9,650.8 1505.3,655.2 1497.8,650.8 1497.8,642.1 1505.3,637.8 1512.9,642.1" fill="#800080"/>
<polygon points="1554.4,625.1 1546.9,629.4 1539.4,625.1 1539.4,616.4 1546.9,612 1554.4,616.4" fill="#800080"/>
<polygon points="1596,607.2 1588.5,611.5 1580.9,607.2 1580.9,598.5 1588.5,594.1 1596,598.5" fill="#800080"/>
<polygon points="1637.6,583.2 1630,587.5 1622.5,583.2 1622.5,574.5 1630,570.1 1637.6,574.5" fill="#800080"/>
<polygon points="1679.1,561.3 1671.6,565.7 1664.1,561.3 1664.1,552.6 1671.6,548.3 1679.1,552.6" fill="#800080"/>
<polygon points="1720.7,539.9 1713.2,544.3 1705.6,539.9 1705.6,531.2 1713.2,526.9 1720.7,531.2" fill="#800080"/>
<polygon points="1762.3,519.4 1754.8,523.8 1747.2,519.4 1747.2,510.7 1754.8,506.4 1762.3,510.7" fill="#800080"/>
<polygon points="1803.9,498.4 1796.3,502.8 1788.8,498.4 1788.8,489.7 1796.3,485.4 1803.9,489.7" fill="#800080"/>
<polygon points="1845.4,477 1837.9,481.4 1830.4,477 1830.4,468.3 1837.9,464 1845.4,468.3" fill="#800080"/>
<polygon points="1887,456.1 1879.5,460.4 1871.9,456.1 1871.9,447.4 1879.5,443 1887,447.4" fill="#800080"/>
<polygon points="1928.6,437.7 1921,442.1 1913.5,437.7 1913.5,429 1921,424.7 1928.6,429" fill="#800080"/>
<polygon points="1970.1,417.2 1962.6,421.6 1955.1,417.2 1955.1,408.5 1962.6,404.2 1970.1,408.5" fill="#800080"/>
<polygon points="2011.7,396.7 2004.2,401.1 1996.6,396.7 1996.6,388 2004.2,383.7 2011.7,388" fill="#800080"/>
<polygon points="2053.3,377.1 2045.7,381.4 2038.2,377.1 2038.2,368.4 2045.7,364 2053.3,368.4" fill="#800080"/>
<polygon points="2094.8,357.4 2087.3,361.8 2079.8,357.4 2079.8,348.7 2087.3,344.4 2094.8,348.7" fill="#800080"/>
<polygon points="2136.4,339.5 2128.9,343.9 2121.3,339.5 2121.3,330.8 2128.9,326.5 2136.4,330.8" fill="#800080"/>
<path d="M1339.1 736.5V739.8M1333.1 736.5h12M1333.1 739.8h12" stroke="#800000" stroke-width="1.7" stroke-opacity="0.8" fill="none"/>
<path d="M1380.6 708.3V712.2M1374.6 708.3h12M1374.6 712.2h12" stroke="#800000" stroke-width="1.7" stroke-opacity="0.8" fill="none"/>
<path d="M1422.2 677.4V682M1416.2 677.4h12M1416.2 682h12" stroke="#800000" stroke-width="1.7" stroke-opacity="0.8" fill="none"/>
<path d="M1463.8 646.5V651.7M1457.8 646.5h12M1457.8 651.7h12" stroke="#800000" stroke-width="1.7" stroke-opacity="0.8" fill="none"/>
<path d="M1505.3 616.5V622.4M1499.3 616.5h12M1499.3 622.4h12" stroke="#800000" stroke-width="1.7" stroke-opacity="0.8" fill="none"/>
<path d="M1546.9 590.8V597.4M1540.9 590.8h12M1540.9 597.4h12" stroke="#800000" stroke-width="1.7" stroke-opacity="0.8" fill="none"/>
<path d="M1588.5 564.7V571.9M1582.5 564.7h12M1582.5 571.9h12" stroke="#800000" stroke-width="1.7" stroke-opacity="0.8" fill="none"/>
<path d="M1630 536.4V544.3M1624 536.4h12M1624 544.3h12" stroke="#800000" stroke-width="1.7" stroke-opacity="0.8" fill="none"/>
<path d="M1671.6 506.9V515.4M1665.6 506.9h12M1665.6 515.4h12" stroke="#800000" stroke-width="1.7" stroke-opacity="0.8" fill="none"/>
<path d="M1713.2 482.1V491.3M1707.2 482.1h12M1707.2 491.3h12" stroke="#800000" stroke-width="1.7" stroke-opacity="0.8" fill="none"/>
<path d="M1754.8 454.7V464.5M1748.8 454.7h12M1748.8 464.5h12" stroke="#800000" stroke-width="1.7" stroke-opacity="0.8" fill="none"/>
<path d="M1796.3 429.5V439.9M1790.3 429.5h12M1790.3 439.9h12" stroke="#800000" stroke-width="1.7" stroke-opacity="0.8" fill="none"/>
<path d="M1837.9 403.8V415M1831.9 403.8h12M1831.9 415h12" stroke="#800000" stroke-width="1.7" stroke-opacity="0.8" fill="none"/>
<path d="M1879.5 379.9V391.7M1873.5 379.9h12M1873.5 391.7h12" stroke="#800000" stroke-width="1.7" stroke-opacity="0.8" fill="none"/>
<path d="M1921 356V368.4M1915 356h12M1915 368.4h12" stroke="#800000" stroke-width="1.7" stroke-opacity="0.8" fill="none"/>
<path d="M1962.6 330.3V343.4M1956.6 330.3h12M1956.6 343.4h12" stroke="#800000" stroke-width="1.7" stroke-opacity="0.8" fill="none"/>
<path d="M2004.2 307.8V321.5M1998.2 307.8h12M1998.2 321.5h12" stroke="#800000" stroke-width="1.7" stroke-opacity="0.8" fill="none"/>
<path d="M2045.7 283.8V298.3M2039.7 283.8h12M2039.7 298.3h12" stroke="#800000" stroke-width="1.7" stroke-opacity="0.8" fill="none"/>
<path d="M2087.3 259.5V274.6M2081.3 259.5h12M2081.3 274.6h12" stroke="#800000" stroke-width="1.7" stroke-opacity="0.8" fill="none"/>
<path d="M2128.9 236.9V252.6M2122.9 236.9h12M2122.9 252.6h12" stroke="#800000" stroke-width="1.7" stroke-opacity="0.8" fill="none"/>
<polyline points="1297.5,771.8 1339.1,738.2 1380.6,710.2 1422.2,679.7 1463.8,649.1 1505.3,619.4 1546.9,594.1 1588.5,568.3 1630,540.4 1671.6,511.1 1713.2,486.7 1754.8,459.6 1796.3,434.7 1837.9,409.4 1879.5,385.8 1921,362.2 1962.6,336.9 2004.2,314.6 2045.7,291.1 2087.3,267 2128.9,244.8" fill="none" stroke="#800000" stroke-width="3.6" stroke-linejoin="round"/>
<polygon points="1297.5,761.8 1300,768.4 1307,768.7 1301.5,773.1 1303.4,779.9 1297.5,776 1291.6,779.9 1293.5,773.1 1288,768.7 1295,768.4" fill="#800000"/>
<polygon points="1339.1,728.2 1341.5,734.8 1348.6,735.1 1343.1,739.5 1344.9,746.3 1339.1,742.4 1333.2,746.3 1335.1,739.5 1329.6,735.1 1336.6,734.8" fill="#800000"/>
<polygon points="1380.6,700.2 1383.1,706.8 1390.1,707.1 1384.6,711.5 1386.5,718.3 1380.6,714.4 1374.8,718.3 1376.6,711.5 1371.1,707.1 1378.2,706.8" fill="#800000"/>
<polygon points="1422.2,669.7 1424.7,676.3 1431.7,676.6 1426.2,681 1428.1,687.8 1422.2,683.9 1416.3,687.8 1418.2,681 1412.7,676.6 1419.7,676.3" fill="#800000"/>
<polygon points="1463.8,639.1 1466.2,645.7 1473.3,646 1467.8,650.4 1469.7,657.2 1463.8,653.3 1457.9,657.2 1459.8,650.4 1454.3,646 1461.3,645.7" fill="#800000"/>
<polygon points="1505.3,609.4 1507.8,616 1514.9,616.3 1509.3,620.7 1511.2,627.5 1505.3,623.6 1499.5,627.5 1501.3,620.7 1495.8,616.3 1502.9,616" fill="#800000"/>
<polygon points="1546.9,584.1 1549.4,590.7 1556.4,591 1550.9,595.4 1552.8,602.2 1546.9,598.3 1541,602.2 1542.9,595.4 1537.4,591 1544.4,590.7" fill="#800000"/>
<polygon points="1588.5,558.3 1590.9,564.9 1598,565.2 1592.5,569.6 1594.4,576.4 1588.5,572.5 1582.6,576.4 1584.5,569.6 1579,565.2 1586,564.9" fill="#800000"/>
<polygon points="1630,530.4 1632.5,537 1639.6,537.3 1634,541.7 1635.9,548.5 1630,544.6 1624.2,548.5 1626.1,541.7 1620.5,537.3 1627.6,537" fill="#800000"/>
<polygon points="1671.6,501.1 1674.1,507.7 1681.1,508 1675.6,512.4 1677.5,519.2 1671.6,515.3 1665.7,519.2 1667.6,512.4 1662.1,508 1669.1,507.7" fill="#800000"/>
<polygon points="1713.2,476.7 1715.7,483.3 1722.7,483.6 1717.2,488 1719.1,494.8 1713.2,490.9 1707.3,494.8 1709.2,488 1703.7,483.6 1710.7,483.3" fill="#800000"/>
<polygon points="1754.8,449.6 1757.2,456.2 1764.3,456.5 1758.7,460.9 1760.6,467.7 1754.8,463.8 1748.9,467.7 1750.8,460.9 1745.2,456.5 1752.3,456.2" fill="#800000"/>
<polygon points="1796.3,424.7 1798.8,431.3 1805.8,431.6 1800.3,436 1802.2,442.8 1796.3,438.9 1790.4,442.8 1792.3,436 1786.8,431.6 1793.8,431.3" fill="#800000"/>
<polygon points="1837.9,399.4 1840.4,406 1847.4,406.3 1841.9,410.7 1843.8,417.5 1837.9,413.6 1832,417.5 1833.9,410.7 1828.4,406.3 1835.4,406" fill="#800000"/>
<polygon points="1879.5,375.8 1881.9,382.4 1889,382.7 1883.4,387.1 1885.3,393.9 1879.5,390 1873.6,393.9 1875.5,387.1 1869.9,382.7 1877,382.4" fill="#800000"/>
<polygon points="1921,352.2 1923.5,358.8 1930.5,359.1 1925,363.5 1926.9,370.3 1921,366.4 1915.1,370.3 1917,363.5 1911.5,359.1 1918.6,358.8" fill="#800000"/>
<polygon points="1962.6,326.9 1965.1,333.5 1972.1,333.8 1966.6,338.2 1968.5,345 1962.6,341.1 1956.7,345 1958.6,338.2 1953.1,333.8 1960.1,333.5" fill="#800000"/>
<polygon points="2004.2,304.6 2006.6,311.2 2013.7,311.5 2008.2,315.9 2010,322.7 2004.2,318.8 1998.3,322.7 2000.2,315.9 1994.6,311.5 2001.7,311.2" fill="#800000"/>
<polygon points="2045.7,281.1 2048.2,287.7 2055.2,288 2049.7,292.3 2051.6,299.1 2045.7,295.3 2039.8,299.1 2041.7,292.3 2036.2,288 2043.3,287.7" fill="#800000"/>
<polygon points="2087.3,257 2089.8,263.6 2096.8,263.9 2091.3,268.3 2093.2,275.1 2087.3,271.2 2081.4,275.1 2083.3,268.3 2077.8,263.9 2084.8,263.6" fill="#800000"/>
<polygon points="2128.9,234.8 2131.3,241.4 2138.4,241.7 2132.9,246.1 2134.7,252.9 2128.9,249 2123,252.9 2124.9,246.1 2119.4,241.7 2126.4,241.4" fill="#800000"/>
</g>
<line x1="1312" y1="55.8" x2="1391" y2="55.8" stroke="#000000" stroke-width="4.4"/>
<rect x="1344.5" y="48.8" width="14" height="14" fill="#000000"/>
<text x="0" y="0" font-size="36.84" text-anchor="start" transform="translate(1395 66.8) scale(0.961 1)" >CN<tspan font-size="20.29" dy="12">C</tspan><tspan dy="-12">-1000 <tspan font-weight="normal">μ</tspan>g/mL</tspan></text>
<line x1="1312" y1="110.8" x2="1391" y2="110.8" stroke="#FF0000" stroke-width="4.4"/>
<circle cx="1351.5" cy="110.8" r="7.6" fill="#FF0000"/>
<text x="0" y="0" font-size="36.84" text-anchor="start" transform="translate(1395 121.8) scale(0.961 1)" >CN<tspan font-size="20.29" dy="12">C</tspan><tspan dy="-12">-500 <tspan font-weight="normal">μ</tspan>g/mL</tspan></text>
<line x1="1312" y1="165.8" x2="1391" y2="165.8" stroke="#0000FF" stroke-width="4.4"/>
<polygon points="1351.5,156.3 1360.5,171.7 1342.5,171.7" fill="#0000FF"/>
<text x="0" y="0" font-size="36.84" text-anchor="start" transform="translate(1395 176.8) scale(0.961 1)" >CN<tspan font-size="20.29" dy="12">C</tspan><tspan dy="-12">-250 <tspan font-weight="normal">μ</tspan>g/mL</tspan></text>
<line x1="1312" y1="220.8" x2="1391" y2="220.8" stroke="#FF00FF" stroke-width="4.4"/>
<polygon points="1351.5,230.3 1342.5,214.9 1360.5,214.9" fill="#FF00FF"/>
<text x="0" y="0" font-size="36.84" text-anchor="start" transform="translate(1395 231.8) scale(0.961 1)" >CN<tspan font-size="20.29" dy="12">C</tspan><tspan dy="-12">-166.7 <tspan font-weight="normal">μ</tspan>g/mL</tspan></text>
<line x1="1312" y1="275.8" x2="1391" y2="275.8" stroke="#008000" stroke-width="4.4"/>
<polygon points="1351.5,266.3 1361,275.8 1351.5,285.3 1342,275.8" fill="#008000"/>
<text x="0" y="0" font-size="36.84" text-anchor="start" transform="translate(1395 286.8) scale(0.961 1)" >CN<tspan font-size="20.29" dy="12">C</tspan><tspan dy="-12">-125 <tspan font-weight="normal">μ</tspan>g/mL</tspan></text>
<line x1="1312" y1="330.8" x2="1391" y2="330.8" stroke="#000080" stroke-width="4.4"/>
<polygon points="1342,330.8 1357.4,321.8 1357.4,339.8" fill="#000080"/>
<text x="0" y="0" font-size="36.84" text-anchor="start" transform="translate(1395 341.8) scale(0.961 1)" >CN<tspan font-size="20.29" dy="12">C</tspan><tspan dy="-12">-100 <tspan font-weight="normal">μ</tspan>g/mL</tspan></text>
<line x1="1312" y1="385.8" x2="1391" y2="385.8" stroke="#8000FF" stroke-width="4.4"/>
<polygon points="1361,385.8 1345.6,394.8 1345.6,376.8" fill="#8000FF"/>
<text x="0" y="0" font-size="36.84" text-anchor="start" transform="translate(1395 396.8) scale(0.961 1)" >CN<tspan font-size="20.29" dy="12">C</tspan><tspan dy="-12">-83.3 <tspan font-weight="normal">μ</tspan>g/mL</tspan></text>
<line x1="1312" y1="440.8" x2="1391" y2="440.8" stroke="#800080" stroke-width="4.4"/>
<polygon points="1358.6,444.9 1351.5,449 1344.4,444.9 1344.4,436.7 1351.5,432.6 1358.6,436.7" fill="#800080"/>
<text x="0" y="0" font-size="36.84" text-anchor="start" transform="translate(1395 451.8) scale(0.961 1)" >CN<tspan font-size="20.29" dy="12">C</tspan><tspan dy="-12">-71.4 <tspan font-weight="normal">μ</tspan>g/mL</tspan></text>
<line x1="1312" y1="495.8" x2="1391" y2="495.8" stroke="#800000" stroke-width="4.4"/>
<polygon points="1351.5,486.3 1353.8,492.6 1360.5,492.9 1355.3,497 1357.1,503.5 1351.5,499.8 1345.9,503.5 1347.7,497 1342.5,492.9 1349.2,492.6" fill="#800000"/>
<text x="0" y="0" font-size="36.84" text-anchor="start" transform="translate(1395 506.8) scale(0.961 1)" >SOD Blank</text>
<rect x="1297.5" y="29.5" width="914.5" height="742.3" fill="none" stroke="#000" stroke-width="4.8"/>
<path d="M1297.5 771.8v-15M1380.6 771.8v-8.5M1463.8 771.8v-15M1546.9 771.8v-8.5M1630 771.8v-15M1713.2 771.8v-8.5M1796.3 771.8v-15M1879.5 771.8v-8.5M1962.6 771.8v-15M2045.7 771.8v-8.5M2128.9 771.8v-15M1297.5 771.8h15M1297.5 684.5h8.5M1297.5 597.1h15M1297.5 509.8h8.5M1297.5 422.5h15M1297.5 335.2h8.5M1297.5 247.8h15M1297.5 160.5h8.5M1297.5 73.2h15" stroke="#000" stroke-width="4.4" fill="none"/>
<text x="0" y="0" font-size="49.07" text-anchor="middle" transform="translate(1297.5 824.3) scale(0.9375 1)">0</text>
<text x="0" y="0" font-size="49.07" text-anchor="middle" transform="translate(1463.8 824.3) scale(0.9375 1)">1</text>
<text x="0" y="0" font-size="49.07" text-anchor="middle" transform="translate(1630 824.3) scale(0.9375 1)">2</text>
<text x="0" y="0" font-size="49.07" text-anchor="middle" transform="translate(1796.3 824.3) scale(0.9375 1)">3</text>
<text x="0" y="0" font-size="49.07" text-anchor="middle" transform="translate(1962.6 824.3) scale(0.9375 1)">4</text>
<text x="0" y="0" font-size="49.07" text-anchor="middle" transform="translate(2128.9 824.3) scale(0.9375 1)">5</text>
<text x="0" y="0" font-size="49.07" text-anchor="end" transform="translate(1281.5 786.1) scale(0.9375 1)">0.00</text>
<text x="0" y="0" font-size="49.07" text-anchor="end" transform="translate(1281.5 611.4) scale(0.9375 1)">0.04</text>
<text x="0" y="0" font-size="49.07" text-anchor="end" transform="translate(1281.5 436.8) scale(0.9375 1)">0.08</text>
<text x="0" y="0" font-size="49.07" text-anchor="end" transform="translate(1281.5 262.1) scale(0.9375 1)">0.12</text>
<text x="0" y="0" font-size="49.07" text-anchor="end" transform="translate(1281.5 87.5) scale(0.9375 1)">0.16</text>
<text x="0" y="0" font-size="54.60" text-anchor="middle" transform="translate(1753.6 873.6)">Time (min)</text>
<text x="0" y="0" font-size="47.95" text-anchor="middle" transform="translate(1170.9 403.6) rotate(-90)">Absorbance (a.u.)</text>
<g clip-path="url(#clipb)"><text x="0" y="0" font-size="152" transform="translate(2019.7 136.7) scale(1 1)">(</text><text x="0" y="0" font-size="152" transform="translate(2069 136.7) scale(1 1)">b</text><text x="0" y="0" font-size="152" transform="translate(2161.3 136.7) scale(1 1)">)</text></g>
<g clip-path="url(#clipc)">
<path d="M313.1 1564V1568M307.1 1564h12M307.1 1568h12" stroke="#000000" stroke-width="1.7" stroke-opacity="0.8" fill="none"/>
<path d="M355.1 1541.2V1546.5M349.1 1541.2h12M349.1 1546.5h12" stroke="#000000" stroke-width="1.7" stroke-opacity="0.8" fill="none"/>
<path d="M397.1 1514V1520.6M391.1 1514h12M391.1 1520.6h12" stroke="#000000" stroke-width="1.7" stroke-opacity="0.8" fill="none"/>
<path d="M439.2 1489V1496.9M433.2 1489h12M433.2 1496.9h12" stroke="#000000" stroke-width="1.7" stroke-opacity="0.8" fill="none"/>
<path d="M481.2 1463.9V1473.2M475.2 1463.9h12M475.2 1473.2h12" stroke="#000000" stroke-width="1.7" stroke-opacity="0.8" fill="none"/>
<path d="M523.2 1443.4V1454M517.2 1443.4h12M517.2 1454h12" stroke="#000000" stroke-width="1.7" stroke-opacity="0.8" fill="none"/>
<path d="M565.2 1427.2V1439.2M559.2 1427.2h12M559.2 1439.2h12" stroke="#000000" stroke-width="1.7" stroke-opacity="0.8" fill="none"/>
<path d="M607.3 1410.6V1423.9M601.3 1410.6h12M601.3 1423.9h12" stroke="#000000" stroke-width="1.7" stroke-opacity="0.8" fill="none"/>
<path d="M649.3 1388.2V1402.9M643.3 1388.2h12M643.3 1402.9h12" stroke="#000000" stroke-width="1.7" stroke-opacity="0.8" fill="none"/>
<path d="M691.3 1367.2V1383.2M685.3 1367.2h12M685.3 1383.2h12" stroke="#000000" stroke-width="1.7" stroke-opacity="0.8" fill="none"/>
<path d="M733.4 1336.5V1353.7M727.4 1336.5h12M727.4 1353.7h12" stroke="#000000" stroke-width="1.7" stroke-opacity="0.8" fill="none"/>
<path d="M775.4 1321.2V1339.8M769.4 1321.2h12M769.4 1339.8h12" stroke="#000000" stroke-width="1.7" stroke-opacity="0.8" fill="none"/>
<path d="M817.4 1301V1321M811.4 1301h12M811.4 1321h12" stroke="#000000" stroke-width="1.7" stroke-opacity="0.8" fill="none"/>
<path d="M859.4 1281.3V1302.6M853.4 1281.3h12M853.4 1302.6h12" stroke="#000000" stroke-width="1.7" stroke-opacity="0.8" fill="none"/>
<path d="M901.5 1248.4V1270.9M895.5 1248.4h12M895.5 1270.9h12" stroke="#000000" stroke-width="1.7" stroke-opacity="0.8" fill="none"/>
<path d="M943.5 1239.3V1263.2M937.5 1239.3h12M937.5 1263.2h12" stroke="#000000" stroke-width="1.7" stroke-opacity="0.8" fill="none"/>
<path d="M985.5 1216.9V1242.2M979.5 1216.9h12M979.5 1242.2h12" stroke="#000000" stroke-width="1.7" stroke-opacity="0.8" fill="none"/>
<path d="M1027.5 1203.9V1230.4M1021.5 1203.9h12M1021.5 1230.4h12" stroke="#000000" stroke-width="1.7" stroke-opacity="0.8" fill="none"/>
<polyline points="187,1654.5 229,1622.6 271.1,1590.3 313.1,1566 355.1,1543.8 397.1,1517.3 439.2,1492.9 481.2,1468.6 523.2,1448.7 565.2,1433.2 607.3,1417.2 649.3,1395.6 691.3,1375.2 733.4,1345.1 775.4,1330.5 817.4,1311 859.4,1292 901.5,1259.7 943.5,1251.2 985.5,1229.6 1027.5,1217.2" fill="none" stroke="#000000" stroke-width="4.4" stroke-linejoin="round"/>
<rect x="179.5" y="1647" width="15" height="15" fill="#000000"/>
<rect x="221.5" y="1615.1" width="15" height="15" fill="#000000"/>
<rect x="263.6" y="1582.8" width="15" height="15" fill="#000000"/>
<rect x="305.6" y="1558.5" width="15" height="15" fill="#000000"/>
<rect x="347.6" y="1536.3" width="15" height="15" fill="#000000"/>
<rect x="389.6" y="1509.8" width="15" height="15" fill="#000000"/>
<rect x="431.7" y="1485.4" width="15" height="15" fill="#000000"/>
<rect x="473.7" y="1461.1" width="15" height="15" fill="#000000"/>
<rect x="515.7" y="1441.2" width="15" height="15" fill="#000000"/>
<rect x="557.7" y="1425.7" width="15" height="15" fill="#000000"/>
<rect x="599.8" y="1409.7" width="15" height="15" fill="#000000"/>
<rect x="641.8" y="1388.1" width="15" height="15" fill="#000000"/>
<rect x="683.8" y="1367.7" width="15" height="15" fill="#000000"/>
<rect x="725.9" y="1337.6" width="15" height="15" fill="#000000"/>
<rect x="767.9" y="1323" width="15" height="15" fill="#000000"/>
<rect x="809.9" y="1303.5" width="15" height="15" fill="#000000"/>
<rect x="851.9" y="1284.5" width="15" height="15" fill="#000000"/>
<rect x="894" y="1252.2" width="15" height="15" fill="#000000"/>
<rect x="936" y="1243.7" width="15" height="15" fill="#000000"/>
<rect x="978" y="1222.1" width="15" height="15" fill="#000000"/>
<rect x="1020" y="1209.7" width="15" height="15" fill="#000000"/>
<path d="M313.1 1566.2V1570.2M307.1 1566.2h12M307.1 1570.2h12" stroke="#FF0000" stroke-width="1.7" stroke-opacity="0.8" fill="none"/>
<path d="M355.1 1546.1V1551.4M349.1 1546.1h12M349.1 1551.4h12" stroke="#FF0000" stroke-width="1.7" stroke-opacity="0.8" fill="none"/>
<path d="M397.1 1521V1527.7M391.1 1521h12M391.1 1527.7h12" stroke="#FF0000" stroke-width="1.7" stroke-opacity="0.8" fill="none"/>
<path d="M439.2 1500V1508M433.2 1500h12M433.2 1508h12" stroke="#FF0000" stroke-width="1.7" stroke-opacity="0.8" fill="none"/>
<path d="M481.2 1474.1V1483.4M475.2 1474.1h12M475.2 1483.4h12" stroke="#FF0000" stroke-width="1.7" stroke-opacity="0.8" fill="none"/>
<path d="M523.2 1455.3V1465.9M517.2 1455.3h12M517.2 1465.9h12" stroke="#FF0000" stroke-width="1.7" stroke-opacity="0.8" fill="none"/>
<path d="M565.2 1429.4V1441.4M559.2 1429.4h12M559.2 1441.4h12" stroke="#FF0000" stroke-width="1.7" stroke-opacity="0.8" fill="none"/>
<path d="M607.3 1400V1413.3M601.3 1400h12M601.3 1413.3h12" stroke="#FF0000" stroke-width="1.7" stroke-opacity="0.8" fill="none"/>
<path d="M649.3 1381.6V1396.2M643.3 1381.6h12M643.3 1396.2h12" stroke="#FF0000" stroke-width="1.7" stroke-opacity="0.8" fill="none"/>
<path d="M691.3 1361.9V1377.8M685.3 1361.9h12M685.3 1377.8h12" stroke="#FF0000" stroke-width="1.7" stroke-opacity="0.8" fill="none"/>
<path d="M733.4 1333.8V1351.1M727.4 1333.8h12M727.4 1351.1h12" stroke="#FF0000" stroke-width="1.7" stroke-opacity="0.8" fill="none"/>
<path d="M775.4 1314.1V1332.7M769.4 1314.1h12M769.4 1332.7h12" stroke="#FF0000" stroke-width="1.7" stroke-opacity="0.8" fill="none"/>
<path d="M817.4 1289.1V1309M811.4 1289.1h12M811.4 1309h12" stroke="#FF0000" stroke-width="1.7" stroke-opacity="0.8" fill="none"/>
<path d="M859.4 1268.1V1289.3M853.4 1268.1h12M853.4 1289.3h12" stroke="#FF0000" stroke-width="1.7" stroke-opacity="0.8" fill="none"/>
<path d="M901.5 1248.4V1270.9M895.5 1248.4h12M895.5 1270.9h12" stroke="#FF0000" stroke-width="1.7" stroke-opacity="0.8" fill="none"/>
<path d="M943.5 1226V1249.9M937.5 1226h12M937.5 1249.9h12" stroke="#FF0000" stroke-width="1.7" stroke-opacity="0.8" fill="none"/>
<path d="M985.5 1201.9V1227.1M979.5 1201.9h12M979.5 1227.1h12" stroke="#FF0000" stroke-width="1.7" stroke-opacity="0.8" fill="none"/>
<path d="M1027.5 1183.5V1210.1M1021.5 1183.5h12M1021.5 1210.1h12" stroke="#FF0000" stroke-width="1.7" stroke-opacity="0.8" fill="none"/>
<polyline points="187,1654.5 229,1623.5 271.1,1592.5 313.1,1568.2 355.1,1548.7 397.1,1524.4 439.2,1504 481.2,1478.8 523.2,1460.6 565.2,1435.4 607.3,1406.6 649.3,1388.9 691.3,1369.9 733.4,1342.4 775.4,1323.4 817.4,1299.1 859.4,1278.7 901.5,1259.7 943.5,1238 985.5,1214.5 1027.5,1196.8" fill="none" stroke="#FF0000" stroke-width="4.4" stroke-linejoin="round"/>
<circle cx="187" cy="1654.5" r="8.1" fill="#FF0000"/>
<circle cx="229" cy="1623.5" r="8.1" fill="#FF0000"/>
<circle cx="271.1" cy="1592.5" r="8.1" fill="#FF0000"/>
<circle cx="313.1" cy="1568.2" r="8.1" fill="#FF0000"/>
<circle cx="355.1" cy="1548.7" r="8.1" fill="#FF0000"/>
<circle cx="397.1" cy="1524.4" r="8.1" fill="#FF0000"/>
<circle cx="439.2" cy="1504" r="8.1" fill="#FF0000"/>
<circle cx="481.2" cy="1478.8" r="8.1" fill="#FF0000"/>
<circle cx="523.2" cy="1460.6" r="8.1" fill="#FF0000"/>
<circle cx="565.2" cy="1435.4" r="8.1" fill="#FF0000"/>
<circle cx="607.3" cy="1406.6" r="8.1" fill="#FF0000"/>
<circle cx="649.3" cy="1388.9" r="8.1" fill="#FF0000"/>
<circle cx="691.3" cy="1369.9" r="8.1" fill="#FF0000"/>
<circle cx="733.4" cy="1342.4" r="8.1" fill="#FF0000"/>
<circle cx="775.4" cy="1323.4" r="8.1" fill="#FF0000"/>
<circle cx="817.4" cy="1299.1" r="8.1" fill="#FF0000"/>
<circle cx="859.4" cy="1278.7" r="8.1" fill="#FF0000"/>
<circle cx="901.5" cy="1259.7" r="8.1" fill="#FF0000"/>
<circle cx="943.5" cy="1238" r="8.1" fill="#FF0000"/>
<circle cx="985.5" cy="1214.5" r="8.1" fill="#FF0000"/>
<circle cx="1027.5" cy="1196.8" r="8.1" fill="#FF0000"/>
<path d="M313.1 1568.4V1572.4M307.1 1568.4h12M307.1 1572.4h12" stroke="#0000FF" stroke-width="1.7" stroke-opacity="0.8" fill="none"/>
<path d="M355.1 1541.2V1546.5M349.1 1541.2h12M349.1 1546.5h12" stroke="#0000FF" stroke-width="1.7" stroke-opacity="0.8" fill="none"/>
<path d="M397.1 1518.4V1525M391.1 1518.4h12M391.1 1525h12" stroke="#0000FF" stroke-width="1.7" stroke-opacity="0.8" fill="none"/>
<path d="M439.2 1491.2V1499.1M433.2 1491.2h12M433.2 1499.1h12" stroke="#0000FF" stroke-width="1.7" stroke-opacity="0.8" fill="none"/>
<path d="M481.2 1466.2V1475.4M475.2 1466.2h12M475.2 1475.4h12" stroke="#0000FF" stroke-width="1.7" stroke-opacity="0.8" fill="none"/>
<path d="M523.2 1441.1V1451.8M517.2 1441.1h12M517.2 1451.8h12" stroke="#0000FF" stroke-width="1.7" stroke-opacity="0.8" fill="none"/>
<path d="M565.2 1418.3V1430.3M559.2 1418.3h12M559.2 1430.3h12" stroke="#0000FF" stroke-width="1.7" stroke-opacity="0.8" fill="none"/>
<path d="M607.3 1394.2V1407.5M601.3 1394.2h12M601.3 1407.5h12" stroke="#0000FF" stroke-width="1.7" stroke-opacity="0.8" fill="none"/>
<path d="M649.3 1375.9V1390.5M643.3 1375.9h12M643.3 1390.5h12" stroke="#0000FF" stroke-width="1.7" stroke-opacity="0.8" fill="none"/>
<path d="M691.3 1345.5V1361.5M685.3 1345.5h12M685.3 1361.5h12" stroke="#0000FF" stroke-width="1.7" stroke-opacity="0.8" fill="none"/>
<path d="M733.4 1318.8V1336M727.4 1318.8h12M727.4 1336h12" stroke="#0000FF" stroke-width="1.7" stroke-opacity="0.8" fill="none"/>
<path d="M775.4 1301.7V1320.3M769.4 1301.7h12M769.4 1320.3h12" stroke="#0000FF" stroke-width="1.7" stroke-opacity="0.8" fill="none"/>
<path d="M817.4 1276.7V1296.6M811.4 1276.7h12M811.4 1296.6h12" stroke="#0000FF" stroke-width="1.7" stroke-opacity="0.8" fill="none"/>
<path d="M859.4 1254.3V1275.6M853.4 1254.3h12M853.4 1275.6h12" stroke="#0000FF" stroke-width="1.7" stroke-opacity="0.8" fill="none"/>
<path d="M901.5 1226.7V1249.3M895.5 1226.7h12M895.5 1249.3h12" stroke="#0000FF" stroke-width="1.7" stroke-opacity="0.8" fill="none"/>
<path d="M943.5 1208.3V1232.2M937.5 1208.3h12M937.5 1232.2h12" stroke="#0000FF" stroke-width="1.7" stroke-opacity="0.8" fill="none"/>
<path d="M985.5 1185.5V1210.7M979.5 1185.5h12M979.5 1210.7h12" stroke="#0000FF" stroke-width="1.7" stroke-opacity="0.8" fill="none"/>
<path d="M1027.5 1163.2V1189.7M1021.5 1163.2h12M1021.5 1189.7h12" stroke="#0000FF" stroke-width="1.7" stroke-opacity="0.8" fill="none"/>
<polyline points="187,1654.5 229,1625.7 271.1,1597 313.1,1570.4 355.1,1543.8 397.1,1521.7 439.2,1495.1 481.2,1470.8 523.2,1446.5 565.2,1424.3 607.3,1400.9 649.3,1383.2 691.3,1353.5 733.4,1327.4 775.4,1311 817.4,1286.7 859.4,1265 901.5,1238 943.5,1220.3 985.5,1198.1 1027.5,1176.4" fill="none" stroke="#0000FF" stroke-width="4.4" stroke-linejoin="round"/>
<polygon points="187,1644.5 196.5,1660.7 177.5,1660.7" fill="#0000FF"/>
<polygon points="229,1615.7 238.5,1631.9 219.5,1631.9" fill="#0000FF"/>
<polygon points="271.1,1587 280.6,1603.2 261.6,1603.2" fill="#0000FF"/>
<polygon points="313.1,1560.4 322.6,1576.6 303.6,1576.6" fill="#0000FF"/>
<polygon points="355.1,1533.8 364.6,1550 345.6,1550" fill="#0000FF"/>
<polygon points="397.1,1511.7 406.6,1527.9 387.6,1527.9" fill="#0000FF"/>
<polygon points="439.2,1485.1 448.7,1501.3 429.7,1501.3" fill="#0000FF"/>
<polygon points="481.2,1460.8 490.7,1477 471.7,1477" fill="#0000FF"/>
<polygon points="523.2,1436.5 532.7,1452.7 513.7,1452.7" fill="#0000FF"/>
<polygon points="565.2,1414.3 574.7,1430.5 555.7,1430.5" fill="#0000FF"/>
<polygon points="607.3,1390.9 616.8,1407.1 597.8,1407.1" fill="#0000FF"/>
<polygon points="649.3,1373.2 658.8,1389.4 639.8,1389.4" fill="#0000FF"/>
<polygon points="691.3,1343.5 700.8,1359.7 681.8,1359.7" fill="#0000FF"/>
<polygon points="733.4,1317.4 742.9,1333.6 723.9,1333.6" fill="#0000FF"/>
<polygon points="775.4,1301 784.9,1317.2 765.9,1317.2" fill="#0000FF"/>
<polygon points="817.4,1276.7 826.9,1292.9 807.9,1292.9" fill="#0000FF"/>
<polygon points="859.4,1255 868.9,1271.2 849.9,1271.2" fill="#0000FF"/>
<polygon points="901.5,1228 911,1244.2 892,1244.2" fill="#0000FF"/>
<polygon points="943.5,1210.3 953,1226.5 934,1226.5" fill="#0000FF"/>
<polygon points="985.5,1188.1 995,1204.3 976,1204.3" fill="#0000FF"/>
<polygon points="1027.5,1166.4 1037,1182.6 1018,1182.6" fill="#0000FF"/>
<path d="M313.1 1566.2V1570.2M307.1 1566.2h12M307.1 1570.2h12" stroke="#FF00FF" stroke-width="1.7" stroke-opacity="0.8" fill="none"/>
<path d="M355.1 1539V1544.3M349.1 1539h12M349.1 1544.3h12" stroke="#FF00FF" stroke-width="1.7" stroke-opacity="0.8" fill="none"/>
<path d="M397.1 1514V1520.6M391.1 1514h12M391.1 1520.6h12" stroke="#FF00FF" stroke-width="1.7" stroke-opacity="0.8" fill="none"/>
<path d="M439.2 1486.7V1494.7M433.2 1486.7h12M433.2 1494.7h12" stroke="#FF00FF" stroke-width="1.7" stroke-opacity="0.8" fill="none"/>
<path d="M481.2 1461.7V1471M475.2 1461.7h12M475.2 1471h12" stroke="#FF00FF" stroke-width="1.7" stroke-opacity="0.8" fill="none"/>
<path d="M523.2 1436.7V1447.3M517.2 1436.7h12M517.2 1447.3h12" stroke="#FF00FF" stroke-width="1.7" stroke-opacity="0.8" fill="none"/>
<path d="M565.2 1411.7V1423.7M559.2 1411.7h12M559.2 1423.7h12" stroke="#FF00FF" stroke-width="1.7" stroke-opacity="0.8" fill="none"/>
<path d="M607.3 1388.9V1402.2M601.3 1388.9h12M601.3 1402.2h12" stroke="#FF00FF" stroke-width="1.7" stroke-opacity="0.8" fill="none"/>
<path d="M649.3 1366.6V1381.2M643.3 1366.6h12M643.3 1381.2h12" stroke="#FF00FF" stroke-width="1.7" stroke-opacity="0.8" fill="none"/>
<path d="M691.3 1337.1V1353.1M685.3 1337.1h12M685.3 1353.1h12" stroke="#FF00FF" stroke-width="1.7" stroke-opacity="0.8" fill="none"/>
<path d="M733.4 1313.4V1330.7M727.4 1313.4h12M727.4 1330.7h12" stroke="#FF00FF" stroke-width="1.7" stroke-opacity="0.8" fill="none"/>
<path d="M775.4 1287.1V1305.7M769.4 1287.1h12M769.4 1305.7h12" stroke="#FF00FF" stroke-width="1.7" stroke-opacity="0.8" fill="none"/>
<path d="M817.4 1263V1282.9M811.4 1263h12M811.4 1282.9h12" stroke="#FF00FF" stroke-width="1.7" stroke-opacity="0.8" fill="none"/>
<path d="M859.4 1239.3V1260.5M853.4 1239.3h12M853.4 1260.5h12" stroke="#FF00FF" stroke-width="1.7" stroke-opacity="0.8" fill="none"/>
<path d="M901.5 1211.6V1234.2M895.5 1211.6h12M895.5 1234.2h12" stroke="#FF00FF" stroke-width="1.7" stroke-opacity="0.8" fill="none"/>
<path d="M943.5 1187.5V1211.4M937.5 1187.5h12M937.5 1211.4h12" stroke="#FF00FF" stroke-width="1.7" stroke-opacity="0.8" fill="none"/>
<path d="M985.5 1163.8V1189.1M979.5 1163.8h12M979.5 1189.1h12" stroke="#FF00FF" stroke-width="1.7" stroke-opacity="0.8" fill="none"/>
<path d="M1027.5 1144.1V1170.7M1021.5 1144.1h12M1021.5 1170.7h12" stroke="#FF00FF" stroke-width="1.7" stroke-opacity="0.8" fill="none"/>
<polyline points="187,1654.5 229,1625.7 271.1,1599.2 313.1,1568.2 355.1,1541.6 397.1,1517.3 439.2,1490.7 481.2,1466.4 523.2,1442 565.2,1417.7 607.3,1395.6 649.3,1373.9 691.3,1345.1 733.4,1322.1 775.4,1296.4 817.4,1272.9 859.4,1249.9 901.5,1222.9 943.5,1199.5 985.5,1176.4 1027.5,1157.4" fill="none" stroke="#FF00FF" stroke-width="4.4" stroke-linejoin="round"/>
<polygon points="187,1664.5 177.5,1648.3 196.5,1648.3" fill="#FF00FF"/>
<polygon points="229,1635.7 219.5,1619.5 238.5,1619.5" fill="#FF00FF"/>
<polygon points="271.1,1609.2 261.6,1593 280.6,1593" fill="#FF00FF"/>
<polygon points="313.1,1578.2 303.6,1562 322.6,1562" fill="#FF00FF"/>
<polygon points="355.1,1551.6 345.6,1535.4 364.6,1535.4" fill="#FF00FF"/>
<polygon points="397.1,1527.3 387.6,1511.1 406.6,1511.1" fill="#FF00FF"/>
<polygon points="439.2,1500.7 429.7,1484.5 448.7,1484.5" fill="#FF00FF"/>
<polygon points="481.2,1476.4 471.7,1460.2 490.7,1460.2" fill="#FF00FF"/>
<polygon points="523.2,1452 513.7,1435.8 532.7,1435.8" fill="#FF00FF"/>
<polygon points="565.2,1427.7 555.7,1411.5 574.7,1411.5" fill="#FF00FF"/>
<polygon points="607.3,1405.6 597.8,1389.4 616.8,1389.4" fill="#FF00FF"/>
<polygon points="649.3,1383.9 639.8,1367.7 658.8,1367.7" fill="#FF00FF"/>
<polygon points="691.3,1355.1 681.8,1338.9 700.8,1338.9" fill="#FF00FF"/>
<polygon points="733.4,1332.1 723.9,1315.9 742.9,1315.9" fill="#FF00FF"/>
<polygon points="775.4,1306.4 765.9,1290.2 784.9,1290.2" fill="#FF00FF"/>
<polygon points="817.4,1282.9 807.9,1266.7 826.9,1266.7" fill="#FF00FF"/>
<polygon points="859.4,1259.9 849.9,1243.7 868.9,1243.7" fill="#FF00FF"/>
<polygon points="901.5,1232.9 892,1216.7 911,1216.7" fill="#FF00FF"/>
<polygon points="943.5,1209.5 934,1193.3 953,1193.3" fill="#FF00FF"/>
<polygon points="985.5,1186.4 976,1170.2 995,1170.2" fill="#FF00FF"/>
<polygon points="1027.5,1167.4 1018,1151.2 1037,1151.2" fill="#FF00FF"/>
<path d="M313.1 1561.8V1565.7M307.1 1561.8h12M307.1 1565.7h12" stroke="#008000" stroke-width="1.7" stroke-opacity="0.8" fill="none"/>
<path d="M355.1 1535.9V1541.2M349.1 1535.9h12M349.1 1541.2h12" stroke="#008000" stroke-width="1.7" stroke-opacity="0.8" fill="none"/>
<path d="M397.1 1509.5V1516.2M391.1 1509.5h12M391.1 1516.2h12" stroke="#008000" stroke-width="1.7" stroke-opacity="0.8" fill="none"/>
<path d="M439.2 1480.1V1488.1M433.2 1480.1h12M433.2 1488.1h12" stroke="#008000" stroke-width="1.7" stroke-opacity="0.8" fill="none"/>
<path d="M481.2 1452.9V1462.2M475.2 1452.9h12M475.2 1462.2h12" stroke="#008000" stroke-width="1.7" stroke-opacity="0.8" fill="none"/>
<path d="M523.2 1425.7V1436.3M517.2 1425.7h12M517.2 1436.3h12" stroke="#008000" stroke-width="1.7" stroke-opacity="0.8" fill="none"/>
<path d="M565.2 1402.9V1414.8M559.2 1402.9h12M559.2 1414.8h12" stroke="#008000" stroke-width="1.7" stroke-opacity="0.8" fill="none"/>
<path d="M607.3 1380.9V1394.2M601.3 1380.9h12M601.3 1394.2h12" stroke="#008000" stroke-width="1.7" stroke-opacity="0.8" fill="none"/>
<path d="M649.3 1351.5V1366.1M643.3 1351.5h12M643.3 1366.1h12" stroke="#008000" stroke-width="1.7" stroke-opacity="0.8" fill="none"/>
<path d="M691.3 1326.5V1342.4M685.3 1326.5h12M685.3 1342.4h12" stroke="#008000" stroke-width="1.7" stroke-opacity="0.8" fill="none"/>
<path d="M733.4 1298.4V1315.7M727.4 1298.4h12M727.4 1315.7h12" stroke="#008000" stroke-width="1.7" stroke-opacity="0.8" fill="none"/>
<path d="M775.4 1272.1V1290.6M769.4 1272.1h12M769.4 1290.6h12" stroke="#008000" stroke-width="1.7" stroke-opacity="0.8" fill="none"/>
<path d="M817.4 1255V1274.9M811.4 1255h12M811.4 1274.9h12" stroke="#008000" stroke-width="1.7" stroke-opacity="0.8" fill="none"/>
<path d="M859.4 1228.7V1249.9M853.4 1228.7h12M853.4 1249.9h12" stroke="#008000" stroke-width="1.7" stroke-opacity="0.8" fill="none"/>
<path d="M901.5 1201.9V1224.5M895.5 1201.9h12M895.5 1224.5h12" stroke="#008000" stroke-width="1.7" stroke-opacity="0.8" fill="none"/>
<path d="M943.5 1176.9V1200.8M937.5 1176.9h12M937.5 1200.8h12" stroke="#008000" stroke-width="1.7" stroke-opacity="0.8" fill="none"/>
<path d="M985.5 1155.9V1181.1M979.5 1155.9h12M979.5 1181.1h12" stroke="#008000" stroke-width="1.7" stroke-opacity="0.8" fill="none"/>
<path d="M1027.5 1130.4V1157M1021.5 1130.4h12M1021.5 1157h12" stroke="#008000" stroke-width="1.7" stroke-opacity="0.8" fill="none"/>
<polyline points="187,1654.5 229,1619.1 271.1,1592.5 313.1,1563.8 355.1,1538.5 397.1,1512.9 439.2,1484.1 481.2,1457.5 523.2,1431 565.2,1408.8 607.3,1387.6 649.3,1358.8 691.3,1334.5 733.4,1307 775.4,1281.3 817.4,1265 859.4,1239.3 901.5,1213.2 943.5,1188.8 985.5,1168.5 1027.5,1143.7" fill="none" stroke="#008000" stroke-width="4.4" stroke-linejoin="round"/>
<polygon points="187,1644.5 197,1654.5 187,1664.5 177,1654.5" fill="#008000"/>
<polygon points="229,1609.1 239,1619.1 229,1629.1 219,1619.1" fill="#008000"/>
<polygon points="271.1,1582.5 281.1,1592.5 271.1,1602.5 261.1,1592.5" fill="#008000"/>
<polygon points="313.1,1553.8 323.1,1563.8 313.1,1573.8 303.1,1563.8" fill="#008000"/>
<polygon points="355.1,1528.5 365.1,1538.5 355.1,1548.5 345.1,1538.5" fill="#008000"/>
<polygon points="397.1,1502.9 407.1,1512.9 397.1,1522.9 387.1,1512.9" fill="#008000"/>
<polygon points="439.2,1474.1 449.2,1484.1 439.2,1494.1 429.2,1484.1" fill="#008000"/>
<polygon points="481.2,1447.5 491.2,1457.5 481.2,1467.5 471.2,1457.5" fill="#008000"/>
<polygon points="523.2,1421 533.2,1431 523.2,1441 513.2,1431" fill="#008000"/>
<polygon points="565.2,1398.8 575.2,1408.8 565.2,1418.8 555.2,1408.8" fill="#008000"/>
<polygon points="607.3,1377.6 617.3,1387.6 607.3,1397.6 597.3,1387.6" fill="#008000"/>
<polygon points="649.3,1348.8 659.3,1358.8 649.3,1368.8 639.3,1358.8" fill="#008000"/>
<polygon points="691.3,1324.5 701.3,1334.5 691.3,1344.5 681.3,1334.5" fill="#008000"/>
<polygon points="733.4,1297 743.4,1307 733.4,1317 723.4,1307" fill="#008000"/>
<polygon points="775.4,1271.3 785.4,1281.3 775.4,1291.3 765.4,1281.3" fill="#008000"/>
<polygon points="817.4,1255 827.4,1265 817.4,1275 807.4,1265" fill="#008000"/>
<polygon points="859.4,1229.3 869.4,1239.3 859.4,1249.3 849.4,1239.3" fill="#008000"/>
<polygon points="901.5,1203.2 911.5,1213.2 901.5,1223.2 891.5,1213.2" fill="#008000"/>
<polygon points="943.5,1178.8 953.5,1188.8 943.5,1198.8 933.5,1188.8" fill="#008000"/>
<polygon points="985.5,1158.5 995.5,1168.5 985.5,1178.5 975.5,1168.5" fill="#008000"/>
<polygon points="1027.5,1133.7 1037.5,1143.7 1027.5,1153.7 1017.5,1143.7" fill="#008000"/>
<path d="M271.1 1584.8V1589.7M265.1 1584.8h12M265.1 1589.7h12" stroke="#000080" stroke-width="1.7" stroke-opacity="0.8" fill="none"/>
<path d="M313.1 1556.6V1563.9M307.1 1556.6h12M307.1 1563.9h12" stroke="#000080" stroke-width="1.7" stroke-opacity="0.8" fill="none"/>
<path d="M355.1 1531V1540.7M349.1 1531h12M349.1 1540.7h12" stroke="#000080" stroke-width="1.7" stroke-opacity="0.8" fill="none"/>
<path d="M397.1 1500.6V1512.7M391.1 1500.6h12M391.1 1512.7h12" stroke="#000080" stroke-width="1.7" stroke-opacity="0.8" fill="none"/>
<path d="M439.2 1470.1V1484.7M433.2 1470.1h12M433.2 1484.7h12" stroke="#000080" stroke-width="1.7" stroke-opacity="0.8" fill="none"/>
<path d="M481.2 1439.3V1456.3M475.2 1439.3h12M475.2 1456.3h12" stroke="#000080" stroke-width="1.7" stroke-opacity="0.8" fill="none"/>
<path d="M523.2 1412.8V1432.3M517.2 1412.8h12M517.2 1432.3h12" stroke="#000080" stroke-width="1.7" stroke-opacity="0.8" fill="none"/>
<path d="M565.2 1384.6V1406.5M559.2 1384.6h12M559.2 1406.5h12" stroke="#000080" stroke-width="1.7" stroke-opacity="0.8" fill="none"/>
<path d="M607.3 1356.4V1380.7M601.3 1356.4h12M601.3 1380.7h12" stroke="#000080" stroke-width="1.7" stroke-opacity="0.8" fill="none"/>
<path d="M649.3 1329V1355.8M643.3 1329h12M643.3 1355.8h12" stroke="#000080" stroke-width="1.7" stroke-opacity="0.8" fill="none"/>
<path d="M691.3 1303.5V1332.7M685.3 1303.5h12M685.3 1332.7h12" stroke="#000080" stroke-width="1.7" stroke-opacity="0.8" fill="none"/>
<path d="M733.4 1274.8V1306.5M727.4 1274.8h12M727.4 1306.5h12" stroke="#000080" stroke-width="1.7" stroke-opacity="0.8" fill="none"/>
<path d="M775.4 1249.3V1283.3M769.4 1249.3h12M769.4 1283.3h12" stroke="#000080" stroke-width="1.7" stroke-opacity="0.8" fill="none"/>
<path d="M817.4 1222.4V1258.9M811.4 1222.4h12M811.4 1258.9h12" stroke="#000080" stroke-width="1.7" stroke-opacity="0.8" fill="none"/>
<path d="M859.4 1193.7V1232.7M853.4 1193.7h12M853.4 1232.7h12" stroke="#000080" stroke-width="1.7" stroke-opacity="0.8" fill="none"/>
<path d="M901.5 1168.1V1209.5M895.5 1168.1h12M895.5 1209.5h12" stroke="#000080" stroke-width="1.7" stroke-opacity="0.8" fill="none"/>
<path d="M943.5 1140.8V1184.6M937.5 1140.8h12M937.5 1184.6h12" stroke="#000080" stroke-width="1.7" stroke-opacity="0.8" fill="none"/>
<path d="M985.5 1115.2V1161.5M979.5 1115.2h12M979.5 1161.5h12" stroke="#000080" stroke-width="1.7" stroke-opacity="0.8" fill="none"/>
<path d="M1027.5 1089.7V1138.4M1021.5 1089.7h12M1021.5 1138.4h12" stroke="#000080" stroke-width="1.7" stroke-opacity="0.8" fill="none"/>
<polyline points="187,1654.5 229,1620 271.1,1587.2 313.1,1560.2 355.1,1535.9 397.1,1506.7 439.2,1477.4 481.2,1447.8 523.2,1422.6 565.2,1395.6 607.3,1368.5 649.3,1342.4 691.3,1318.1 733.4,1290.6 775.4,1266.3 817.4,1240.6 859.4,1213.2 901.5,1188.8 943.5,1162.7 985.5,1138.4 1027.5,1114" fill="none" stroke="#000080" stroke-width="4.4" stroke-linejoin="round"/>
<polygon points="177,1654.5 193.2,1645 193.2,1664" fill="#000080"/>
<polygon points="219,1620 235.2,1610.5 235.2,1629.5" fill="#000080"/>
<polygon points="261.1,1587.2 277.3,1577.7 277.3,1596.7" fill="#000080"/>
<polygon points="303.1,1560.2 319.3,1550.7 319.3,1569.7" fill="#000080"/>
<polygon points="345.1,1535.9 361.3,1526.4 361.3,1545.4" fill="#000080"/>
<polygon points="387.1,1506.7 403.3,1497.2 403.3,1516.2" fill="#000080"/>
<polygon points="429.2,1477.4 445.4,1467.9 445.4,1486.9" fill="#000080"/>
<polygon points="471.2,1447.8 487.4,1438.3 487.4,1457.3" fill="#000080"/>
<polygon points="513.2,1422.6 529.4,1413.1 529.4,1432.1" fill="#000080"/>
<polygon points="555.2,1395.6 571.4,1386.1 571.4,1405.1" fill="#000080"/>
<polygon points="597.3,1368.5 613.5,1359 613.5,1378" fill="#000080"/>
<polygon points="639.3,1342.4 655.5,1332.9 655.5,1351.9" fill="#000080"/>
<polygon points="681.3,1318.1 697.5,1308.6 697.5,1327.6" fill="#000080"/>
<polygon points="723.4,1290.6 739.6,1281.1 739.6,1300.1" fill="#000080"/>
<polygon points="765.4,1266.3 781.6,1256.8 781.6,1275.8" fill="#000080"/>
<polygon points="807.4,1240.6 823.6,1231.1 823.6,1250.1" fill="#000080"/>
<polygon points="849.4,1213.2 865.6,1203.7 865.6,1222.7" fill="#000080"/>
<polygon points="891.5,1188.8 907.7,1179.3 907.7,1198.3" fill="#000080"/>
<polygon points="933.5,1162.7 949.7,1153.2 949.7,1172.2" fill="#000080"/>
<polygon points="975.5,1138.4 991.7,1128.9 991.7,1147.9" fill="#000080"/>
<polygon points="1017.5,1114 1033.7,1104.5 1033.7,1123.5" fill="#000080"/>
</g>
<line x1="218" y1="943.3" x2="303" y2="943.3" stroke="#000000" stroke-width="4.4"/>
<rect x="253.5" y="936.3" width="14" height="14" fill="#000000"/>
<text x="0" y="0" font-size="39.75" text-anchor="start" transform="translate(311.5 954.8) scale(0.961 1)" >CN<tspan font-size="20.81" dy="13">R</tspan><tspan dy="-13">-1000 <tspan font-weight="normal">μ</tspan>g/mL</tspan></text>
<line x1="218" y1="1004.8" x2="303" y2="1004.8" stroke="#FF0000" stroke-width="4.4"/>
<circle cx="260.5" cy="1004.8" r="7.6" fill="#FF0000"/>
<text x="0" y="0" font-size="39.75" text-anchor="start" transform="translate(311.5 1016.3) scale(0.961 1)" >CN<tspan font-size="20.81" dy="13">R</tspan><tspan dy="-13">-500 <tspan font-weight="normal">μ</tspan>g/mL</tspan></text>
<line x1="218" y1="1066.3" x2="303" y2="1066.3" stroke="#0000FF" stroke-width="4.4"/>
<polygon points="260.5,1056.8 269.5,1072.2 251.5,1072.2" fill="#0000FF"/>
<text x="0" y="0" font-size="39.75" text-anchor="start" transform="translate(311.5 1077.8) scale(0.961 1)" >CN<tspan font-size="20.81" dy="13">R</tspan><tspan dy="-13">-250 <tspan font-weight="normal">μ</tspan>g/mL</tspan></text>
<line x1="218" y1="1127.8" x2="303" y2="1127.8" stroke="#FF00FF" stroke-width="4.4"/>
<polygon points="260.5,1137.3 251.5,1121.9 269.5,1121.9" fill="#FF00FF"/>
<text x="0" y="0" font-size="39.75" text-anchor="start" transform="translate(311.5 1139.3) scale(0.961 1)" >CN<tspan font-size="20.81" dy="13">R</tspan><tspan dy="-13">-166.7 <tspan font-weight="normal">μ</tspan>g/mL</tspan></text>
<line x1="218" y1="1189.3" x2="303" y2="1189.3" stroke="#008000" stroke-width="4.4"/>
<polygon points="260.5,1179.8 270,1189.3 260.5,1198.8 251,1189.3" fill="#008000"/>
<text x="0" y="0" font-size="39.75" text-anchor="start" transform="translate(311.5 1200.8) scale(0.961 1)" >CN<tspan font-size="20.81" dy="13">R</tspan><tspan dy="-13">-125 <tspan font-weight="normal">μ</tspan>g/mL</tspan></text>
<line x1="218" y1="1250.8" x2="303" y2="1250.8" stroke="#000080" stroke-width="4.4"/>
<polygon points="251,1250.8 266.4,1241.8 266.4,1259.8" fill="#000080"/>
<text x="0" y="0" font-size="39.75" text-anchor="start" transform="translate(311.5 1262.3) scale(0.961 1)" >SOD Blank</text>
<rect x="187" y="902" width="924.6" height="752.5" fill="none" stroke="#000" stroke-width="4.8"/>
<path d="M187 1654.5v-15M271.1 1654.5v-8.5M355.1 1654.5v-15M439.2 1654.5v-8.5M523.2 1654.5v-15M607.3 1654.5v-8.5M691.3 1654.5v-15M775.4 1654.5v-8.5M859.4 1654.5v-15M943.5 1654.5v-8.5M1027.5 1654.5v-15M187 1654.5h15M187 1566h8.5M187 1477.4h15M187 1388.9h8.5M187 1300.4h15M187 1211.9h8.5M187 1123.3h15M187 1034.8h8.5M187 946.3h15" stroke="#000" stroke-width="4.4" fill="none"/>
<text x="0" y="0" font-size="49.07" text-anchor="middle" transform="translate(187 1707) scale(0.9375 1)">0</text>
<text x="0" y="0" font-size="49.07" text-anchor="middle" transform="translate(355.1 1707) scale(0.9375 1)">1</text>
<text x="0" y="0" font-size="49.07" text-anchor="middle" transform="translate(523.2 1707) scale(0.9375 1)">2</text>
<text x="0" y="0" font-size="49.07" text-anchor="middle" transform="translate(691.3 1707) scale(0.9375 1)">3</text>
<text x="0" y="0" font-size="49.07" text-anchor="middle" transform="translate(859.4 1707) scale(0.9375 1)">4</text>
<text x="0" y="0" font-size="49.07" text-anchor="middle" transform="translate(1027.5 1707) scale(0.9375 1)">5</text>
<text x="0" y="0" font-size="49.07" text-anchor="end" transform="translate(171 1668.8) scale(0.9375 1)">0.00</text>
<text x="0" y="0" font-size="49.07" text-anchor="end" transform="translate(171 1491.7) scale(0.9375 1)">0.04</text>
<text x="0" y="0" font-size="49.07" text-anchor="end" transform="translate(171 1314.7) scale(0.9375 1)">0.08</text>
<text x="0" y="0" font-size="49.07" text-anchor="end" transform="translate(171 1137.6) scale(0.9375 1)">0.12</text>
<text x="0" y="0" font-size="49.07" text-anchor="end" transform="translate(171 960.6) scale(0.9375 1)">0.16</text>
<text x="0" y="0" font-size="55.20" text-anchor="middle" transform="translate(648.2 1759.5)">Time (min)</text>
<text x="0" y="0" font-size="54.80" text-anchor="middle" transform="translate(56.8 1280.5) rotate(-90)">Absorbance (a.u.)</text>
<g><text x="0" y="0" font-size="152" transform="translate(948.7 1028.3) scale(1 1)">(</text><text x="0" y="0" font-size="150" transform="translate(998.6 1028.3) scale(1 1)">c</text><text x="0" y="0" font-size="152" transform="translate(1081.1 1028.3) scale(1 1)">)</text></g>
<g clip-path="url(#clipd)">
<path d="M1341.4 1606.2V1622.7M1335.4 1606.2h12M1335.4 1622.7h12" stroke="#000000" stroke-width="1.7" stroke-opacity="0.8" fill="none"/>
<path d="M1382.9 1576.5V1593.1M1376.9 1576.5h12M1376.9 1593.1h12" stroke="#000000" stroke-width="1.7" stroke-opacity="0.8" fill="none"/>
<path d="M1424.3 1548.1V1564.7M1418.3 1548.1h12M1418.3 1564.7h12" stroke="#000000" stroke-width="1.7" stroke-opacity="0.8" fill="none"/>
<path d="M1465.7 1521.9V1538.5M1459.7 1521.9h12M1459.7 1538.5h12" stroke="#000000" stroke-width="1.7" stroke-opacity="0.8" fill="none"/>
<path d="M1507.2 1493.6V1510.1M1501.2 1493.6h12M1501.2 1510.1h12" stroke="#000000" stroke-width="1.7" stroke-opacity="0.8" fill="none"/>
<path d="M1548.6 1467.4V1484M1542.6 1467.4h12M1542.6 1484h12" stroke="#000000" stroke-width="1.7" stroke-opacity="0.8" fill="none"/>
<path d="M1590 1439.9V1456.5M1584 1439.9h12M1584 1456.5h12" stroke="#000000" stroke-width="1.7" stroke-opacity="0.8" fill="none"/>
<path d="M1631.5 1413.7V1430.3M1625.5 1413.7h12M1625.5 1430.3h12" stroke="#000000" stroke-width="1.7" stroke-opacity="0.8" fill="none"/>
<path d="M1672.9 1388.8V1405.4M1666.9 1388.8h12M1666.9 1405.4h12" stroke="#000000" stroke-width="1.7" stroke-opacity="0.8" fill="none"/>
<path d="M1714.3 1362.6V1379.2M1708.3 1362.6h12M1708.3 1379.2h12" stroke="#000000" stroke-width="1.7" stroke-opacity="0.8" fill="none"/>
<path d="M1755.8 1338.6V1355.2M1749.8 1338.6h12M1749.8 1355.2h12" stroke="#000000" stroke-width="1.7" stroke-opacity="0.8" fill="none"/>
<path d="M1797.2 1314.6V1331.2M1791.2 1314.6h12M1791.2 1331.2h12" stroke="#000000" stroke-width="1.7" stroke-opacity="0.8" fill="none"/>
<path d="M1838.6 1289.7V1306.3M1832.6 1289.7h12M1832.6 1306.3h12" stroke="#000000" stroke-width="1.7" stroke-opacity="0.8" fill="none"/>
<path d="M1880 1265.3V1281.9M1874 1265.3h12M1874 1281.9h12" stroke="#000000" stroke-width="1.7" stroke-opacity="0.8" fill="none"/>
<path d="M1921.5 1242.6V1259.2M1915.5 1242.6h12M1915.5 1259.2h12" stroke="#000000" stroke-width="1.7" stroke-opacity="0.8" fill="none"/>
<path d="M1962.9 1218.6V1235.2M1956.9 1218.6h12M1956.9 1235.2h12" stroke="#000000" stroke-width="1.7" stroke-opacity="0.8" fill="none"/>
<path d="M2004.3 1196.8V1213.3M1998.3 1196.8h12M1998.3 1213.3h12" stroke="#000000" stroke-width="1.7" stroke-opacity="0.8" fill="none"/>
<path d="M2045.8 1174.9V1191.5M2039.8 1174.9h12M2039.8 1191.5h12" stroke="#000000" stroke-width="1.7" stroke-opacity="0.8" fill="none"/>
<path d="M2087.2 1153.1V1169.7M2081.2 1153.1h12M2081.2 1169.7h12" stroke="#000000" stroke-width="1.7" stroke-opacity="0.8" fill="none"/>
<path d="M2128.6 1129.1V1145.7M2122.6 1129.1h12M2122.6 1145.7h12" stroke="#000000" stroke-width="1.7" stroke-opacity="0.8" fill="none"/>
<polyline points="1300,1643.7 1341.4,1614.5 1382.9,1584.8 1424.3,1556.4 1465.7,1530.2 1507.2,1501.8 1548.6,1475.7 1590,1448.2 1631.5,1422 1672.9,1397.1 1714.3,1370.9 1755.8,1346.9 1797.2,1322.9 1838.6,1298 1880,1273.6 1921.5,1250.9 1962.9,1226.9 2004.3,1205 2045.8,1183.2 2087.2,1161.4 2128.6,1137.4" fill="none" stroke="#000000" stroke-width="3.2" stroke-linejoin="round"/>
<rect x="1293.5" y="1637.2" width="13" height="13" fill="#000000"/>
<rect x="1334.9" y="1608" width="13" height="13" fill="#000000"/>
<rect x="1376.4" y="1578.3" width="13" height="13" fill="#000000"/>
<rect x="1417.8" y="1549.9" width="13" height="13" fill="#000000"/>
<rect x="1459.2" y="1523.7" width="13" height="13" fill="#000000"/>
<rect x="1500.7" y="1495.3" width="13" height="13" fill="#000000"/>
<rect x="1542.1" y="1469.2" width="13" height="13" fill="#000000"/>
<rect x="1583.5" y="1441.7" width="13" height="13" fill="#000000"/>
<rect x="1625" y="1415.5" width="13" height="13" fill="#000000"/>
<rect x="1666.4" y="1390.6" width="13" height="13" fill="#000000"/>
<rect x="1707.8" y="1364.4" width="13" height="13" fill="#000000"/>
<rect x="1749.2" y="1340.4" width="13" height="13" fill="#000000"/>
<rect x="1790.7" y="1316.4" width="13" height="13" fill="#000000"/>
<rect x="1832.1" y="1291.5" width="13" height="13" fill="#000000"/>
<rect x="1873.5" y="1267.1" width="13" height="13" fill="#000000"/>
<rect x="1915" y="1244.4" width="13" height="13" fill="#000000"/>
<rect x="1956.4" y="1220.4" width="13" height="13" fill="#000000"/>
<rect x="1997.8" y="1198.5" width="13" height="13" fill="#000000"/>
<rect x="2039.3" y="1176.7" width="13" height="13" fill="#000000"/>
<rect x="2080.7" y="1154.9" width="13" height="13" fill="#000000"/>
<rect x="2122.1" y="1130.9" width="13" height="13" fill="#000000"/>
<path d="M1341.4 1605.7V1622.3M1335.4 1605.7h12M1335.4 1622.3h12" stroke="#FF0000" stroke-width="1.7" stroke-opacity="0.8" fill="none"/>
<path d="M1382.9 1575.6V1592.2M1376.9 1575.6h12M1376.9 1592.2h12" stroke="#FF0000" stroke-width="1.7" stroke-opacity="0.8" fill="none"/>
<path d="M1424.3 1545.9V1562.5M1418.3 1545.9h12M1418.3 1562.5h12" stroke="#FF0000" stroke-width="1.7" stroke-opacity="0.8" fill="none"/>
<path d="M1465.7 1519.7V1536.3M1459.7 1519.7h12M1459.7 1536.3h12" stroke="#FF0000" stroke-width="1.7" stroke-opacity="0.8" fill="none"/>
<path d="M1507.2 1491.4V1508M1501.2 1491.4h12M1501.2 1508h12" stroke="#FF0000" stroke-width="1.7" stroke-opacity="0.8" fill="none"/>
<path d="M1548.6 1463.9V1480.5M1542.6 1463.9h12M1542.6 1480.5h12" stroke="#FF0000" stroke-width="1.7" stroke-opacity="0.8" fill="none"/>
<path d="M1590 1435.5V1452.1M1584 1435.5h12M1584 1452.1h12" stroke="#FF0000" stroke-width="1.7" stroke-opacity="0.8" fill="none"/>
<path d="M1631.5 1409.3V1425.9M1625.5 1409.3h12M1625.5 1425.9h12" stroke="#FF0000" stroke-width="1.7" stroke-opacity="0.8" fill="none"/>
<path d="M1672.9 1383.1V1399.7M1666.9 1383.1h12M1666.9 1399.7h12" stroke="#FF0000" stroke-width="1.7" stroke-opacity="0.8" fill="none"/>
<path d="M1714.3 1356.9V1373.5M1708.3 1356.9h12M1708.3 1373.5h12" stroke="#FF0000" stroke-width="1.7" stroke-opacity="0.8" fill="none"/>
<path d="M1755.8 1332.1V1348.6M1749.8 1332.1h12M1749.8 1348.6h12" stroke="#FF0000" stroke-width="1.7" stroke-opacity="0.8" fill="none"/>
<path d="M1797.2 1307.6V1324.2M1791.2 1307.6h12M1791.2 1324.2h12" stroke="#FF0000" stroke-width="1.7" stroke-opacity="0.8" fill="none"/>
<path d="M1838.6 1283.6V1300.2M1832.6 1283.6h12M1832.6 1300.2h12" stroke="#FF0000" stroke-width="1.7" stroke-opacity="0.8" fill="none"/>
<path d="M1880 1258.7V1275.3M1874 1258.7h12M1874 1275.3h12" stroke="#FF0000" stroke-width="1.7" stroke-opacity="0.8" fill="none"/>
<path d="M1921.5 1236V1252.6M1915.5 1236h12M1915.5 1252.6h12" stroke="#FF0000" stroke-width="1.7" stroke-opacity="0.8" fill="none"/>
<path d="M1962.9 1211.2V1227.7M1956.9 1211.2h12M1956.9 1227.7h12" stroke="#FF0000" stroke-width="1.7" stroke-opacity="0.8" fill="none"/>
<path d="M2004.3 1188.5V1205M1998.3 1188.5h12M1998.3 1205h12" stroke="#FF0000" stroke-width="1.7" stroke-opacity="0.8" fill="none"/>
<path d="M2045.8 1167.1V1183.7M2039.8 1167.1h12M2039.8 1183.7h12" stroke="#FF0000" stroke-width="1.7" stroke-opacity="0.8" fill="none"/>
<path d="M2087.2 1146.6V1163.1M2081.2 1146.6h12M2081.2 1163.1h12" stroke="#FF0000" stroke-width="1.7" stroke-opacity="0.8" fill="none"/>
<path d="M2128.6 1121.7V1138.3M2122.6 1121.7h12M2122.6 1138.3h12" stroke="#FF0000" stroke-width="1.7" stroke-opacity="0.8" fill="none"/>
<polyline points="1300,1643.7 1341.4,1614 1382.9,1583.9 1424.3,1554.2 1465.7,1528 1507.2,1499.7 1548.6,1472.2 1590,1443.8 1631.5,1417.6 1672.9,1391.4 1714.3,1365.2 1755.8,1340.4 1797.2,1315.9 1838.6,1291.9 1880,1267 1921.5,1244.3 1962.9,1219.5 2004.3,1196.8 2045.8,1175.4 2087.2,1154.9 2128.6,1130" fill="none" stroke="#FF0000" stroke-width="3.2" stroke-linejoin="round"/>
<circle cx="1300" cy="1643.7" r="7.1" fill="#FF0000"/>
<circle cx="1341.4" cy="1614" r="7.1" fill="#FF0000"/>
<circle cx="1382.9" cy="1583.9" r="7.1" fill="#FF0000"/>
<circle cx="1424.3" cy="1554.2" r="7.1" fill="#FF0000"/>
<circle cx="1465.7" cy="1528" r="7.1" fill="#FF0000"/>
<circle cx="1507.2" cy="1499.7" r="7.1" fill="#FF0000"/>
<circle cx="1548.6" cy="1472.2" r="7.1" fill="#FF0000"/>
<circle cx="1590" cy="1443.8" r="7.1" fill="#FF0000"/>
<circle cx="1631.5" cy="1417.6" r="7.1" fill="#FF0000"/>
<circle cx="1672.9" cy="1391.4" r="7.1" fill="#FF0000"/>
<circle cx="1714.3" cy="1365.2" r="7.1" fill="#FF0000"/>
<circle cx="1755.8" cy="1340.4" r="7.1" fill="#FF0000"/>
<circle cx="1797.2" cy="1315.9" r="7.1" fill="#FF0000"/>
<circle cx="1838.6" cy="1291.9" r="7.1" fill="#FF0000"/>
<circle cx="1880" cy="1267" r="7.1" fill="#FF0000"/>
<circle cx="1921.5" cy="1244.3" r="7.1" fill="#FF0000"/>
<circle cx="1962.9" cy="1219.5" r="7.1" fill="#FF0000"/>
<circle cx="2004.3" cy="1196.8" r="7.1" fill="#FF0000"/>
<circle cx="2045.8" cy="1175.4" r="7.1" fill="#FF0000"/>
<circle cx="2087.2" cy="1154.9" r="7.1" fill="#FF0000"/>
<circle cx="2128.6" cy="1130" r="7.1" fill="#FF0000"/>
<path d="M1341.4 1609.2V1625.8M1335.4 1609.2h12M1335.4 1625.8h12" stroke="#0000FF" stroke-width="1.7" stroke-opacity="0.8" fill="none"/>
<path d="M1382.9 1580.8V1597.4M1376.9 1580.8h12M1376.9 1597.4h12" stroke="#0000FF" stroke-width="1.7" stroke-opacity="0.8" fill="none"/>
<path d="M1424.3 1552.5V1569.1M1418.3 1552.5h12M1418.3 1569.1h12" stroke="#0000FF" stroke-width="1.7" stroke-opacity="0.8" fill="none"/>
<path d="M1465.7 1526.3V1542.9M1459.7 1526.3h12M1459.7 1542.9h12" stroke="#0000FF" stroke-width="1.7" stroke-opacity="0.8" fill="none"/>
<path d="M1507.2 1499.2V1515.8M1501.2 1499.2h12M1501.2 1515.8h12" stroke="#0000FF" stroke-width="1.7" stroke-opacity="0.8" fill="none"/>
<path d="M1548.6 1473V1489.6M1542.6 1473h12M1542.6 1489.6h12" stroke="#0000FF" stroke-width="1.7" stroke-opacity="0.8" fill="none"/>
<path d="M1590 1447.7V1464.3M1584 1447.7h12M1584 1464.3h12" stroke="#0000FF" stroke-width="1.7" stroke-opacity="0.8" fill="none"/>
<path d="M1631.5 1421.5V1438.1M1625.5 1421.5h12M1625.5 1438.1h12" stroke="#0000FF" stroke-width="1.7" stroke-opacity="0.8" fill="none"/>
<path d="M1672.9 1397.5V1414.1M1666.9 1397.5h12M1666.9 1414.1h12" stroke="#0000FF" stroke-width="1.7" stroke-opacity="0.8" fill="none"/>
<path d="M1714.3 1371.3V1387.9M1708.3 1371.3h12M1708.3 1387.9h12" stroke="#0000FF" stroke-width="1.7" stroke-opacity="0.8" fill="none"/>
<path d="M1755.8 1349.5V1366.1M1749.8 1349.5h12M1749.8 1366.1h12" stroke="#0000FF" stroke-width="1.7" stroke-opacity="0.8" fill="none"/>
<path d="M1797.2 1323.3V1339.9M1791.2 1323.3h12M1791.2 1339.9h12" stroke="#0000FF" stroke-width="1.7" stroke-opacity="0.8" fill="none"/>
<path d="M1838.6 1298.5V1315M1832.6 1298.5h12M1832.6 1315h12" stroke="#0000FF" stroke-width="1.7" stroke-opacity="0.8" fill="none"/>
<path d="M1880 1275.8V1292.3M1874 1275.8h12M1874 1292.3h12" stroke="#0000FF" stroke-width="1.7" stroke-opacity="0.8" fill="none"/>
<path d="M1921.5 1253.1V1269.6M1915.5 1253.1h12M1915.5 1269.6h12" stroke="#0000FF" stroke-width="1.7" stroke-opacity="0.8" fill="none"/>
<path d="M1962.9 1230.4V1246.9M1956.9 1230.4h12M1956.9 1246.9h12" stroke="#0000FF" stroke-width="1.7" stroke-opacity="0.8" fill="none"/>
<path d="M2004.3 1207.7V1224.3M1998.3 1207.7h12M1998.3 1224.3h12" stroke="#0000FF" stroke-width="1.7" stroke-opacity="0.8" fill="none"/>
<path d="M2045.8 1187.2V1203.7M2039.8 1187.2h12M2039.8 1203.7h12" stroke="#0000FF" stroke-width="1.7" stroke-opacity="0.8" fill="none"/>
<path d="M2087.2 1164.9V1181.5M2081.2 1164.9h12M2081.2 1181.5h12" stroke="#0000FF" stroke-width="1.7" stroke-opacity="0.8" fill="none"/>
<path d="M2128.6 1139.6V1156.2M2122.6 1139.6h12M2122.6 1156.2h12" stroke="#0000FF" stroke-width="1.7" stroke-opacity="0.8" fill="none"/>
<polyline points="1300,1643.7 1341.4,1617.5 1382.9,1589.1 1424.3,1560.8 1465.7,1534.6 1507.2,1507.5 1548.6,1481.3 1590,1456 1631.5,1429.8 1672.9,1405.8 1714.3,1379.6 1755.8,1357.8 1797.2,1331.6 1838.6,1306.7 1880,1284 1921.5,1261.4 1962.9,1238.7 2004.3,1216 2045.8,1195.4 2087.2,1173.2 2128.6,1147.9" fill="none" stroke="#0000FF" stroke-width="3.2" stroke-linejoin="round"/>
<polygon points="1300,1634.7 1308.5,1649.3 1291.5,1649.3" fill="#0000FF"/>
<polygon points="1341.4,1608.5 1350,1623.1 1332.9,1623.1" fill="#0000FF"/>
<polygon points="1382.9,1580.1 1391.4,1594.7 1374.3,1594.7" fill="#0000FF"/>
<polygon points="1424.3,1551.8 1432.8,1566.4 1415.7,1566.4" fill="#0000FF"/>
<polygon points="1465.7,1525.6 1474.3,1540.2 1457.2,1540.2" fill="#0000FF"/>
<polygon points="1507.2,1498.5 1515.7,1513.1 1498.6,1513.1" fill="#0000FF"/>
<polygon points="1548.6,1472.3 1557.1,1486.9 1540,1486.9" fill="#0000FF"/>
<polygon points="1590,1447 1598.6,1461.6 1581.5,1461.6" fill="#0000FF"/>
<polygon points="1631.5,1420.8 1640,1435.4 1622.9,1435.4" fill="#0000FF"/>
<polygon points="1672.9,1396.8 1681.4,1411.4 1664.3,1411.4" fill="#0000FF"/>
<polygon points="1714.3,1370.6 1722.9,1385.2 1705.8,1385.2" fill="#0000FF"/>
<polygon points="1755.8,1348.8 1764.3,1363.4 1747.2,1363.4" fill="#0000FF"/>
<polygon points="1797.2,1322.6 1805.7,1337.2 1788.6,1337.2" fill="#0000FF"/>
<polygon points="1838.6,1297.7 1847.2,1312.3 1830.1,1312.3" fill="#0000FF"/>
<polygon points="1880,1275 1888.6,1289.6 1871.5,1289.6" fill="#0000FF"/>
<polygon points="1921.5,1252.4 1930,1266.9 1912.9,1266.9" fill="#0000FF"/>
<polygon points="1962.9,1229.7 1971.5,1244.2 1954.4,1244.2" fill="#0000FF"/>
<polygon points="2004.3,1207 2012.9,1221.5 1995.8,1221.5" fill="#0000FF"/>
<polygon points="2045.8,1186.4 2054.3,1201 2037.2,1201" fill="#0000FF"/>
<polygon points="2087.2,1164.2 2095.8,1178.8 2078.7,1178.8" fill="#0000FF"/>
<polygon points="2128.6,1138.9 2137.2,1153.4 2120.1,1153.4" fill="#0000FF"/>
<path d="M1341.4 1604.9V1621.4M1335.4 1604.9h12M1335.4 1621.4h12" stroke="#FF00FF" stroke-width="1.7" stroke-opacity="0.8" fill="none"/>
<path d="M1382.9 1574.3V1590.9M1376.9 1574.3h12M1376.9 1590.9h12" stroke="#FF00FF" stroke-width="1.7" stroke-opacity="0.8" fill="none"/>
<path d="M1424.3 1545.9V1562.5M1418.3 1545.9h12M1418.3 1562.5h12" stroke="#FF00FF" stroke-width="1.7" stroke-opacity="0.8" fill="none"/>
<path d="M1465.7 1517.6V1534.1M1459.7 1517.6h12M1459.7 1534.1h12" stroke="#FF00FF" stroke-width="1.7" stroke-opacity="0.8" fill="none"/>
<path d="M1507.2 1489.2V1505.8M1501.2 1489.2h12M1501.2 1505.8h12" stroke="#FF00FF" stroke-width="1.7" stroke-opacity="0.8" fill="none"/>
<path d="M1548.6 1461.7V1478.3M1542.6 1461.7h12M1542.6 1478.3h12" stroke="#FF00FF" stroke-width="1.7" stroke-opacity="0.8" fill="none"/>
<path d="M1590 1432.4V1449M1584 1432.4h12M1584 1449h12" stroke="#FF00FF" stroke-width="1.7" stroke-opacity="0.8" fill="none"/>
<path d="M1631.5 1406.3V1422.8M1625.5 1406.3h12M1625.5 1422.8h12" stroke="#FF00FF" stroke-width="1.7" stroke-opacity="0.8" fill="none"/>
<path d="M1672.9 1380.1V1396.7M1666.9 1380.1h12M1666.9 1396.7h12" stroke="#FF00FF" stroke-width="1.7" stroke-opacity="0.8" fill="none"/>
<path d="M1714.3 1353.9V1370.5M1708.3 1353.9h12M1708.3 1370.5h12" stroke="#FF00FF" stroke-width="1.7" stroke-opacity="0.8" fill="none"/>
<path d="M1755.8 1326.8V1343.4M1749.8 1326.8h12M1749.8 1343.4h12" stroke="#FF00FF" stroke-width="1.7" stroke-opacity="0.8" fill="none"/>
<path d="M1797.2 1300.6V1317.2M1791.2 1300.6h12M1791.2 1317.2h12" stroke="#FF00FF" stroke-width="1.7" stroke-opacity="0.8" fill="none"/>
<path d="M1838.6 1273.6V1290.2M1832.6 1273.6h12M1832.6 1290.2h12" stroke="#FF00FF" stroke-width="1.7" stroke-opacity="0.8" fill="none"/>
<path d="M1880 1247.4V1264M1874 1247.4h12M1874 1264h12" stroke="#FF00FF" stroke-width="1.7" stroke-opacity="0.8" fill="none"/>
<path d="M1921.5 1226V1242.6M1915.5 1226h12M1915.5 1242.6h12" stroke="#FF00FF" stroke-width="1.7" stroke-opacity="0.8" fill="none"/>
<path d="M1962.9 1199.8V1216.4M1956.9 1199.8h12M1956.9 1216.4h12" stroke="#FF00FF" stroke-width="1.7" stroke-opacity="0.8" fill="none"/>
<path d="M2004.3 1174.9V1191.5M1998.3 1174.9h12M1998.3 1191.5h12" stroke="#FF00FF" stroke-width="1.7" stroke-opacity="0.8" fill="none"/>
<path d="M2045.8 1156.6V1173.2M2039.8 1156.6h12M2039.8 1173.2h12" stroke="#FF00FF" stroke-width="1.7" stroke-opacity="0.8" fill="none"/>
<path d="M2087.2 1131.7V1148.3M2081.2 1131.7h12M2081.2 1148.3h12" stroke="#FF00FF" stroke-width="1.7" stroke-opacity="0.8" fill="none"/>
<path d="M2128.6 1104.7V1121.2M2122.6 1104.7h12M2122.6 1121.2h12" stroke="#FF00FF" stroke-width="1.7" stroke-opacity="0.8" fill="none"/>
<polyline points="1300,1643.7 1341.4,1613.1 1382.9,1582.6 1424.3,1554.2 1465.7,1525.9 1507.2,1497.5 1548.6,1470 1590,1440.7 1631.5,1414.6 1672.9,1388.4 1714.3,1362.2 1755.8,1335.1 1797.2,1308.9 1838.6,1281.9 1880,1255.7 1921.5,1234.3 1962.9,1208.1 2004.3,1183.2 2045.8,1164.9 2087.2,1140 2128.6,1113" fill="none" stroke="#FF00FF" stroke-width="3.2" stroke-linejoin="round"/>
<polygon points="1300,1652.7 1291.5,1638.1 1308.5,1638.1" fill="#FF00FF"/>
<polygon points="1341.4,1622.1 1332.9,1607.6 1350,1607.6" fill="#FF00FF"/>
<polygon points="1382.9,1591.6 1374.3,1577 1391.4,1577" fill="#FF00FF"/>
<polygon points="1424.3,1563.2 1415.7,1548.6 1432.8,1548.6" fill="#FF00FF"/>
<polygon points="1465.7,1534.9 1457.2,1520.3 1474.3,1520.3" fill="#FF00FF"/>
<polygon points="1507.2,1506.5 1498.6,1491.9 1515.7,1491.9" fill="#FF00FF"/>
<polygon points="1548.6,1479 1540,1464.4 1557.1,1464.4" fill="#FF00FF"/>
<polygon points="1590,1449.7 1581.5,1435.2 1598.6,1435.2" fill="#FF00FF"/>
<polygon points="1631.5,1423.6 1622.9,1409 1640,1409" fill="#FF00FF"/>
<polygon points="1672.9,1397.4 1664.3,1382.8 1681.4,1382.8" fill="#FF00FF"/>
<polygon points="1714.3,1371.2 1705.8,1356.6 1722.9,1356.6" fill="#FF00FF"/>
<polygon points="1755.8,1344.1 1747.2,1329.5 1764.3,1329.5" fill="#FF00FF"/>
<polygon points="1797.2,1317.9 1788.6,1303.3 1805.7,1303.3" fill="#FF00FF"/>
<polygon points="1838.6,1290.9 1830.1,1276.3 1847.2,1276.3" fill="#FF00FF"/>
<polygon points="1880,1264.7 1871.5,1250.1 1888.6,1250.1" fill="#FF00FF"/>
<polygon points="1921.5,1243.3 1912.9,1228.7 1930,1228.7" fill="#FF00FF"/>
<polygon points="1962.9,1217.1 1954.4,1202.5 1971.5,1202.5" fill="#FF00FF"/>
<polygon points="2004.3,1192.2 1995.8,1177.6 2012.9,1177.6" fill="#FF00FF"/>
<polygon points="2045.8,1173.9 2037.2,1159.3 2054.3,1159.3" fill="#FF00FF"/>
<polygon points="2087.2,1149 2078.7,1134.4 2095.8,1134.4" fill="#FF00FF"/>
<polygon points="2128.6,1122 2120.1,1107.4 2137.2,1107.4" fill="#FF00FF"/>
</g>
<line x1="1335" y1="934.5" x2="1420" y2="934.5" stroke="#000000" stroke-width="4.4"/>
<rect x="1370.5" y="927.5" width="14" height="14" fill="#000000"/>
<text x="0" y="0" font-size="38.51" text-anchor="start" transform="translate(1428 946.5) scale(0.961 1)" >CN<tspan font-size="22.90" dy="13">Oct</tspan><tspan dy="-13">-miR146a</tspan></text>
<line x1="1335" y1="992.2" x2="1420" y2="992.2" stroke="#FF0000" stroke-width="4.4"/>
<circle cx="1377.5" cy="992.2" r="7.6" fill="#FF0000"/>
<text x="0" y="0" font-size="38.51" text-anchor="start" transform="translate(1428 1004.2) scale(0.961 1)" >CN<tspan font-size="19.77" dy="14">C</tspan><tspan dy="-14">-miR146a</tspan></text>
<line x1="1335" y1="1049.9" x2="1420" y2="1049.9" stroke="#0000FF" stroke-width="4.4"/>
<polygon points="1377.5,1040.4 1386.5,1055.8 1368.5,1055.8" fill="#0000FF"/>
<text x="0" y="0" font-size="38.51" text-anchor="start" transform="translate(1428 1061.9) scale(0.961 1)" >CN<tspan font-size="19.77" dy="14">R</tspan><tspan dy="-14">-miR146a</tspan></text>
<line x1="1335" y1="1107.6" x2="1420" y2="1107.6" stroke="#FF00FF" stroke-width="4.4"/>
<polygon points="1377.5,1117.1 1368.5,1101.7 1386.5,1101.7" fill="#FF00FF"/>
<text x="0" y="0" font-size="38.51" text-anchor="start" transform="translate(1428 1119.6) scale(0.961 1)" >SOD Blank</text>
<rect x="1300" y="901.7" width="911.5" height="742" fill="none" stroke="#000" stroke-width="4.8"/>
<path d="M1300 1643.7v-15M1382.9 1643.7v-8.5M1465.7 1643.7v-15M1548.6 1643.7v-8.5M1631.5 1643.7v-15M1714.3 1643.7v-8.5M1797.2 1643.7v-15M1880 1643.7v-8.5M1962.9 1643.7v-15M2045.8 1643.7v-8.5M2128.6 1643.7v-15M1300 1643.7h15M1300 1556.4h8.5M1300 1469.1h15M1300 1381.8h8.5M1300 1294.5h15M1300 1207.2h8.5M1300 1119.9h15M1300 1032.6h8.5M1300 945.3h15" stroke="#000" stroke-width="4.4" fill="none"/>
<text x="0" y="0" font-size="49.07" text-anchor="middle" transform="translate(1300 1696.2) scale(0.9375 1)">0</text>
<text x="0" y="0" font-size="49.07" text-anchor="middle" transform="translate(1465.7 1696.2) scale(0.9375 1)">1</text>
<text x="0" y="0" font-size="49.07" text-anchor="middle" transform="translate(1631.5 1696.2) scale(0.9375 1)">2</text>
<text x="0" y="0" font-size="49.07" text-anchor="middle" transform="translate(1797.2 1696.2) scale(0.9375 1)">3</text>
<text x="0" y="0" font-size="49.07" text-anchor="middle" transform="translate(1962.9 1696.2) scale(0.9375 1)">4</text>
<text x="0" y="0" font-size="49.07" text-anchor="middle" transform="translate(2128.6 1696.2) scale(0.9375 1)">5</text>
<text x="0" y="0" font-size="49.07" text-anchor="end" transform="translate(1284 1658) scale(0.9375 1)">0.00</text>
<text x="0" y="0" font-size="49.07" text-anchor="end" transform="translate(1284 1483.4) scale(0.9375 1)">0.04</text>
<text x="0" y="0" font-size="49.07" text-anchor="end" transform="translate(1284 1308.8) scale(0.9375 1)">0.08</text>
<text x="0" y="0" font-size="49.07" text-anchor="end" transform="translate(1284 1134.2) scale(0.9375 1)">0.12</text>
<text x="0" y="0" font-size="49.07" text-anchor="end" transform="translate(1284 959.6) scale(0.9375 1)">0.16</text>
<text x="0" y="0" font-size="54.40" text-anchor="middle" transform="translate(1754.1 1745.6)">Time (min)</text>
<text x="0" y="0" font-size="53.70" text-anchor="middle" transform="translate(1175.1 1273.1) rotate(-90)">Absorbance (a.u.)</text>
<g clip-path="url(#clipd)"><text x="0" y="0" font-size="152" transform="translate(2028.9 1033.5) scale(1 1)">(</text><text x="0" y="0" font-size="152" transform="translate(2078.9 1033.5) scale(1 1)">d</text><text x="0" y="0" font-size="152" transform="translate(2176.8 1033.5) scale(1 1)">)</text></g>
<rect x="220.5" y="1924.2" width="244.5" height="612.3" fill="#BEBEBE" stroke="#000" stroke-width="4.5"/>
<rect x="527.5" y="1803.5" width="242.9" height="733" fill="#BEBEBE" stroke="#000" stroke-width="4.5"/>
<rect x="832.2" y="2258.4" width="243.8" height="278.1" fill="#BEBEBE" stroke="#000" stroke-width="4.5"/>
<rect x="200" y="2157.5" width="895" height="13" fill="#fff"/>
<path d="M190 2152.5V1792H1106.5V2152.5 M190 2173V2536.5H1106.5V2173" stroke="#000" stroke-width="4.5" fill="none" stroke-linejoin="miter"/>
<line x1="173.7" y1="2165.7" x2="206.3" y2="2150.8" stroke="#000" stroke-width="4"/>
<line x1="173.7" y1="2178.6" x2="206.3" y2="2163.7" stroke="#000" stroke-width="4"/>
<line x1="1090.2" y1="2165.7" x2="1122.8" y2="2150.8" stroke="#000" stroke-width="4"/>
<line x1="1090.2" y1="2178.6" x2="1122.8" y2="2163.7" stroke="#000" stroke-width="4"/>
<path d="M190 1792h15M190 1901.3h8.5M190 2010.6h15M190 2119.9h8.5M190 2243.1h15M190 2389.8h8.5M190 2536.5h15M343.2 2536.5v16M648.6 2536.5v16M953.9 2536.5v16" stroke="#000" stroke-width="4.4" fill="none"/>
<text x="0" y="0" font-size="49.07" text-anchor="end" transform="translate(174 1806.3) scale(0.9375 1)">100</text>
<text x="0" y="0" font-size="49.07" text-anchor="end" transform="translate(174 2024.9) scale(0.9375 1)">80</text>
<text x="0" y="0" font-size="49.07" text-anchor="end" transform="translate(174 2260.4) scale(0.9375 1)">20</text>
<text x="0" y="0" font-size="49.07" text-anchor="end" transform="translate(174 2553.8) scale(0.9375 1)">0</text>
<text x="0" y="0" font-size="57.60" text-anchor="middle" transform="translate(340 2221.5) scale(0.9290 1)">87%</text>
<text x="0" y="0" font-size="57.60" text-anchor="middle" transform="translate(646 2221.5) scale(0.9290 1)">99%</text>
<text x="0" y="0" font-size="57.60" text-anchor="middle" transform="translate(955 2223.5) scale(0.9290 1)">19%</text>
<text x="0" y="0" font-size="55.90" text-anchor="middle" transform="translate(354.7 2620) rotate(-15.5) scale(0.9610 1)">CN-Octahedon</text>
<text x="0" y="0" font-size="55.90" text-anchor="middle" transform="translate(660.1 2620) rotate(-15.5) scale(0.9610 1)">CN-Cube</text>
<text x="0" y="0" font-size="55.90" text-anchor="middle" transform="translate(965.4 2620) rotate(-15.5) scale(0.9610 1)">CN-Rod</text>
<text x="0" y="0" font-size="54.10" text-anchor="middle" transform="translate(84.6 2165.8) rotate(-90)">Catalase Activity (%)</text>
<g clip-path="url(#clipe)"><text x="0" y="0" font-size="152" transform="translate(929.3 1915.5) scale(1 1)">(</text><text x="0" y="0" font-size="152" transform="translate(977.8 1915.5) scale(1 1)">e</text><text x="0" y="0" font-size="152" transform="translate(1068.4 1915.5) scale(1 1)">)</text></g>
<g clip-path="url(#clipf)">
<polyline points="1297.5,2470.8 1352.9,2470.8 1426,2470.8 1481.4,2470.8 1536.8,2439.7 1592.1,2312.8 1647.5,2282.3 1700.9,2217.6 1756.3,2163.4 1811.7,2118.6 1867,2075.1 1922.4,2034.6 1977.7,1984.2 2033.1,1953.8" fill="none" stroke="#000000" stroke-width="4.8" stroke-linejoin="round"/>
<rect x="1290" y="2463.3" width="15" height="15" fill="#000000"/>
<rect x="1345.4" y="2463.3" width="15" height="15" fill="#000000"/>
<rect x="1418.5" y="2463.3" width="15" height="15" fill="#000000"/>
<rect x="1473.9" y="2463.3" width="15" height="15" fill="#000000"/>
<rect x="1529.3" y="2432.2" width="15" height="15" fill="#000000"/>
<rect x="1584.6" y="2305.3" width="15" height="15" fill="#000000"/>
<rect x="1640" y="2274.8" width="15" height="15" fill="#000000"/>
<rect x="1693.4" y="2210.1" width="15" height="15" fill="#000000"/>
<rect x="1748.8" y="2155.9" width="15" height="15" fill="#000000"/>
<rect x="1804.2" y="2111.1" width="15" height="15" fill="#000000"/>
<rect x="1859.5" y="2067.6" width="15" height="15" fill="#000000"/>
<rect x="1914.9" y="2027.1" width="15" height="15" fill="#000000"/>
<rect x="1970.2" y="1976.7" width="15" height="15" fill="#000000"/>
<rect x="2025.6" y="1946.3" width="15" height="15" fill="#000000"/>
<polyline points="1297.5,2470.8 1352.9,2470.8 1426,2470.8 1481.4,2408.6 1536.8,2231.2 1592.1,2189.6 1647.5,2147.9 1700.9,2092.5 1756.3,2018.5 1811.7,1961.2 1867,1896.5 1922.4,1854.8 1977.7,1854.8 2033.1,1854.8" fill="none" stroke="#FF0000" stroke-width="4.8" stroke-linejoin="round"/>
<circle cx="1297.5" cy="2470.8" r="8.1" fill="#FF0000"/>
<circle cx="1352.9" cy="2470.8" r="8.1" fill="#FF0000"/>
<circle cx="1426" cy="2470.8" r="8.1" fill="#FF0000"/>
<circle cx="1481.4" cy="2408.6" r="8.1" fill="#FF0000"/>
<circle cx="1536.8" cy="2231.2" r="8.1" fill="#FF0000"/>
<circle cx="1592.1" cy="2189.6" r="8.1" fill="#FF0000"/>
<circle cx="1647.5" cy="2147.9" r="8.1" fill="#FF0000"/>
<circle cx="1700.9" cy="2092.5" r="8.1" fill="#FF0000"/>
<circle cx="1756.3" cy="2018.5" r="8.1" fill="#FF0000"/>
<circle cx="1811.7" cy="1961.2" r="8.1" fill="#FF0000"/>
<circle cx="1867" cy="1896.5" r="8.1" fill="#FF0000"/>
<circle cx="1922.4" cy="1854.8" r="8.1" fill="#FF0000"/>
<circle cx="1977.7" cy="1854.8" r="8.1" fill="#FF0000"/>
<circle cx="2033.1" cy="1854.8" r="8.1" fill="#FF0000"/>
<polyline points="1297.5,2470.8 1352.9,2470.8 1426,2470.8 1481.4,2470.8 1536.8,2470.8 1592.1,2470.8 1647.5,2470.8 1700.9,2470.8 1756.3,2450.9 1811.7,2416 1867,2403 1922.4,2383.7 1977.7,2371.9 2033.1,2351.3" fill="none" stroke="#0000FF" stroke-width="4.8" stroke-linejoin="round"/>
<polygon points="1297.5,2460.8 1307,2477 1288,2477" fill="#0000FF"/>
<polygon points="1352.9,2460.8 1362.4,2477 1343.4,2477" fill="#0000FF"/>
<polygon points="1426,2460.8 1435.5,2477 1416.5,2477" fill="#0000FF"/>
<polygon points="1481.4,2460.8 1490.9,2477 1471.9,2477" fill="#0000FF"/>
<polygon points="1536.8,2460.8 1546.3,2477 1527.3,2477" fill="#0000FF"/>
<polygon points="1592.1,2460.8 1601.6,2477 1582.6,2477" fill="#0000FF"/>
<polygon points="1647.5,2460.8 1657,2477 1638,2477" fill="#0000FF"/>
<polygon points="1700.9,2460.8 1710.4,2477 1691.4,2477" fill="#0000FF"/>
<polygon points="1756.3,2440.9 1765.8,2457.1 1746.8,2457.1" fill="#0000FF"/>
<polygon points="1811.7,2406 1821.2,2422.2 1802.2,2422.2" fill="#0000FF"/>
<polygon points="1867,2393 1876.5,2409.2 1857.5,2409.2" fill="#0000FF"/>
<polygon points="1922.4,2373.7 1931.9,2389.9 1912.9,2389.9" fill="#0000FF"/>
<polygon points="1977.7,2361.9 1987.2,2378.1 1968.2,2378.1" fill="#0000FF"/>
<polygon points="2033.1,2341.3 2042.6,2357.5 2023.6,2357.5" fill="#0000FF"/>
</g>
<line x1="1317" y1="1823.2" x2="1426" y2="1823.2" stroke="#000000" stroke-width="4.8"/>
<rect x="1364" y="1815.7" width="15" height="15" fill="#000000"/>
<text x="0" y="0" font-size="45.80" text-anchor="start" transform="translate(1438 1839.2) scale(1.0200 1)">CN<tspan font-size="31.22" dy="16.5">Oct</tspan><tspan dy="-16.5"></tspan></text>
<line x1="1317" y1="1897.2" x2="1426" y2="1897.2" stroke="#FF0000" stroke-width="4.8"/>
<circle cx="1371.5" cy="1897.2" r="8.1" fill="#FF0000"/>
<text x="0" y="0" font-size="45.80" text-anchor="start" transform="translate(1438 1913.2) scale(1.0200 1)">CN<tspan font-size="31.22" dy="16.5">C</tspan><tspan dy="-16.5"></tspan></text>
<line x1="1317" y1="1971.2" x2="1426" y2="1971.2" stroke="#0000FF" stroke-width="4.8"/>
<polygon points="1371.5,1961.2 1381,1977.4 1362,1977.4" fill="#0000FF"/>
<text x="0" y="0" font-size="45.80" text-anchor="start" transform="translate(1438 1987.2) scale(1.0200 1)">CN<tspan font-size="31.22" dy="16.5">R</tspan><tspan dy="-16.5"></tspan></text>
<rect x="1297.5" y="1786.4" width="919.5" height="746.6" fill="none" stroke="#000" stroke-width="4.8"/>
<path d="M1297.5 2533v-16M1352.9 2533v-8.5M1385.2 2533v-8.5M1408.2 2533v-8.5M1426 2533v-8.5M1440.6 2533v-8.5M1452.9 2533v-8.5M1463.6 2533v-8.5M1473 2533v-8.5M1481.4 2533v-16M1536.8 2533v-8.5M1569.1 2533v-8.5M1592.1 2533v-8.5M1609.9 2533v-8.5M1624.5 2533v-8.5M1636.8 2533v-8.5M1647.5 2533v-8.5M1656.9 2533v-8.5M1665.3 2533v-16M1720.7 2533v-8.5M1753 2533v-8.5M1776 2533v-8.5M1793.8 2533v-8.5M1808.4 2533v-8.5M1820.7 2533v-8.5M1831.4 2533v-8.5M1840.8 2533v-8.5M1849.2 2533v-16M1904.6 2533v-8.5M1936.9 2533v-8.5M1959.9 2533v-8.5M1977.7 2533v-8.5M1992.3 2533v-8.5M2004.6 2533v-8.5M2015.3 2533v-8.5M2024.7 2533v-8.5M2033.1 2533v-16M2088.5 2533v-8.5M2120.8 2533v-8.5M2143.8 2533v-8.5M2161.6 2533v-8.5M2176.2 2533v-8.5M2188.5 2533v-8.5M2199.2 2533v-8.5M2208.6 2533v-8.5M1297.5 2470.8h15M1297.5 2408.6h8.5M1297.5 2346.3h15M1297.5 2284.1h8.5M1297.5 2221.9h15M1297.5 2159.7h8.5M1297.5 2097.5h15M1297.5 2035.3h8.5M1297.5 1973.1h15M1297.5 1910.8h8.5M1297.5 1848.6h15" stroke="#000" stroke-width="4.4" fill="none"/>
<text x="0" y="0" font-size="49.07" text-anchor="end" transform="translate(1281.5 2486.6) scale(0.9375 1)">0</text>
<text x="0" y="0" font-size="49.07" text-anchor="end" transform="translate(1281.5 2362.2) scale(0.9375 1)">20</text>
<text x="0" y="0" font-size="49.07" text-anchor="end" transform="translate(1281.5 2237.7) scale(0.9375 1)">40</text>
<text x="0" y="0" font-size="49.07" text-anchor="end" transform="translate(1281.5 2113.3) scale(0.9375 1)">60</text>
<text x="0" y="0" font-size="49.07" text-anchor="end" transform="translate(1281.5 1988.9) scale(0.9375 1)">80</text>
<text x="0" y="0" font-size="49.07" text-anchor="end" transform="translate(1281.5 1864.4) scale(0.9375 1)">100</text>
<text x="0" y="0" font-size="49.07" text-anchor="middle" transform="translate(1298.5 2591.3) scale(0.9375 1)">10<tspan font-size="29" dy="-24">-1</tspan></text>
<text x="0" y="0" font-size="49.07" text-anchor="middle" transform="translate(1482.4 2591.3) scale(0.9375 1)">10<tspan font-size="29" dy="-24">0</tspan></text>
<text x="0" y="0" font-size="49.07" text-anchor="middle" transform="translate(1666.3 2591.3) scale(0.9375 1)">10<tspan font-size="29" dy="-24">1</tspan></text>
<text x="0" y="0" font-size="49.07" text-anchor="middle" transform="translate(1850.2 2591.3) scale(0.9375 1)">10<tspan font-size="29" dy="-24">2</tspan></text>
<text x="0" y="0" font-size="49.07" text-anchor="middle" transform="translate(2034.1 2591.3) scale(0.9375 1)">10<tspan font-size="29" dy="-24">3</tspan></text>
<text x="0" y="0" font-size="49.07" text-anchor="middle" transform="translate(2218 2591.3) scale(0.9375 1)">10<tspan font-size="29" dy="-24">4</tspan></text>
<text x="0" y="0" font-size="54.10" text-anchor="middle" transform="translate(1756.5 2649.7)">Concentration (<tspan font-weight="normal">μ</tspan>g/mL)</text>
<text x="0" y="0" font-size="53.50" text-anchor="middle" transform="translate(1188.2 2125.6) rotate(-90)">Catalase Activity (%)</text>
<g clip-path="url(#clipf)"><text x="0" y="0" font-size="152" transform="translate(2064.6 1915.2) scale(1 1)">(</text><text x="0" y="0" font-size="152" transform="translate(2113.4 1915.2) scale(1.08 1)">f</text><text x="0" y="0" font-size="152" transform="translate(2163.6 1915.2) scale(1 1)">)</text></g>
</svg>
</body></html>
